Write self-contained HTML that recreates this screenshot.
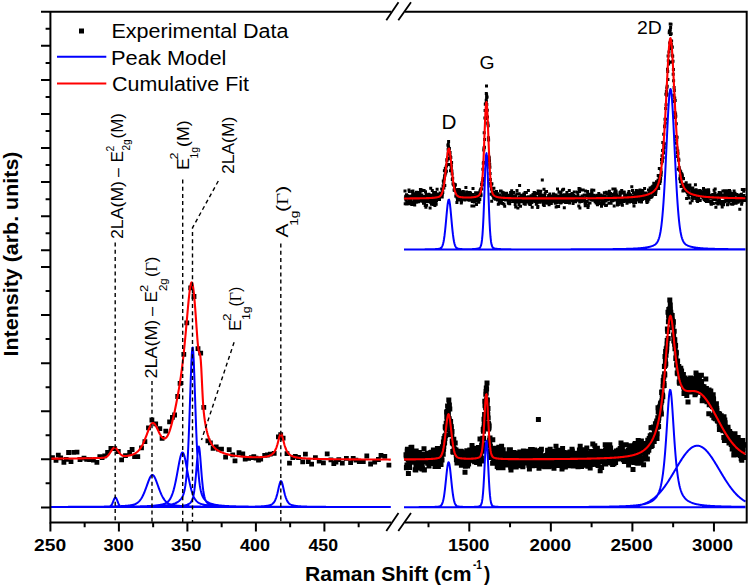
<!DOCTYPE html><html><head><meta charset="utf-8"><style>html,body{margin:0;padding:0;background:#fff;}svg{display:block;}</style></head><body>
<svg width="749" height="587" viewBox="0 0 749 587">
<rect x="0" y="0" width="749" height="587" fill="#fff"/>
<path fill="#000" d="M50.1 455.3h4.8v4.8h-4.8zM53.6 458.0h4.8v4.8h-4.8zM55.9 452.8h4.8v4.8h-4.8zM58.3 455.4h4.8v4.8h-4.8zM61.5 459.9h4.8v4.8h-4.8zM63.8 457.0h4.8v4.8h-4.8zM66.2 450.1h4.8v4.8h-4.8zM68.6 459.2h4.8v4.8h-4.8zM71.3 450.0h4.8v4.8h-4.8zM74.6 449.7h4.8v4.8h-4.8zM77.6 457.1h4.8v4.8h-4.8zM81.6 455.8h4.8v4.8h-4.8zM84.3 457.0h4.8v4.8h-4.8zM87.2 457.3h4.8v4.8h-4.8zM91.0 457.8h4.8v4.8h-4.8zM94.5 460.0h4.8v4.8h-4.8zM97.4 454.3h4.8v4.8h-4.8zM99.7 455.1h4.8v4.8h-4.8zM102.3 453.5h4.8v4.8h-4.8zM105.2 450.1h4.8v4.8h-4.8zM108.5 446.1h4.8v4.8h-4.8zM112.3 446.2h4.8v4.8h-4.8zM115.9 449.1h4.8v4.8h-4.8zM119.2 457.4h4.8v4.8h-4.8zM123.1 453.3h4.8v4.8h-4.8zM127.3 450.1h4.8v4.8h-4.8zM129.7 447.1h4.8v4.8h-4.8zM132.2 454.2h4.8v4.8h-4.8zM135.4 454.2h4.8v4.8h-4.8zM139.1 445.4h4.8v4.8h-4.8zM142.5 439.3h4.8v4.8h-4.8zM146.1 425.4h4.8v4.8h-4.8zM149.5 417.6h4.8v4.8h-4.8zM153.3 421.4h4.8v4.8h-4.8zM157.4 426.3h4.8v4.8h-4.8zM159.7 435.9h4.8v4.8h-4.8zM163.4 428.7h4.8v4.8h-4.8zM167.2 419.5h4.8v4.8h-4.8zM170.0 414.9h4.8v4.8h-4.8zM172.2 412.6h4.8v4.8h-4.8zM175.3 394.1h4.8v4.8h-4.8zM177.7 381.0h4.8v4.8h-4.8zM181.4 352.0h4.8v4.8h-4.8zM184.4 320.5h4.8v4.8h-4.8zM188.3 285.5h4.8v4.8h-4.8zM191.6 294.1h4.8v4.8h-4.8zM195.6 346.3h4.8v4.8h-4.8zM198.3 350.8h4.8v4.8h-4.8zM201.4 404.9h4.8v4.8h-4.8zM205.5 438.5h4.8v4.8h-4.8zM208.0 440.5h4.8v4.8h-4.8zM210.7 446.0h4.8v4.8h-4.8zM213.8 444.4h4.8v4.8h-4.8zM216.0 446.8h4.8v4.8h-4.8zM219.1 446.7h4.8v4.8h-4.8zM223.2 454.8h4.8v4.8h-4.8zM226.8 447.3h4.8v4.8h-4.8zM230.3 452.5h4.8v4.8h-4.8zM232.6 458.4h4.8v4.8h-4.8zM236.6 450.2h4.8v4.8h-4.8zM240.4 451.4h4.8v4.8h-4.8zM242.8 456.7h4.8v4.8h-4.8zM246.2 455.9h4.8v4.8h-4.8zM248.9 455.3h4.8v4.8h-4.8zM251.4 454.2h4.8v4.8h-4.8zM253.6 455.8h4.8v4.8h-4.8zM256.1 457.6h4.8v4.8h-4.8zM258.3 456.8h4.8v4.8h-4.8zM262.3 452.9h4.8v4.8h-4.8zM265.0 452.6h4.8v4.8h-4.8zM267.9 451.7h4.8v4.8h-4.8zM271.8 451.0h4.8v4.8h-4.8zM276.0 434.4h4.8v4.8h-4.8zM278.3 432.2h4.8v4.8h-4.8zM280.7 435.8h4.8v4.8h-4.8zM284.6 451.2h4.8v4.8h-4.8zM287.1 460.8h4.8v4.8h-4.8zM290.4 455.2h4.8v4.8h-4.8zM292.9 453.9h4.8v4.8h-4.8zM296.1 455.1h4.8v4.8h-4.8zM300.3 459.5h4.8v4.8h-4.8zM303.0 451.8h4.8v4.8h-4.8zM305.9 459.3h4.8v4.8h-4.8zM309.2 461.7h4.8v4.8h-4.8zM313.0 455.2h4.8v4.8h-4.8zM316.8 458.8h4.8v4.8h-4.8zM321.0 460.5h4.8v4.8h-4.8zM324.8 451.5h4.8v4.8h-4.8zM328.5 457.4h4.8v4.8h-4.8zM331.4 461.1h4.8v4.8h-4.8zM333.6 459.7h4.8v4.8h-4.8zM336.4 457.3h4.8v4.8h-4.8zM339.9 460.7h4.8v4.8h-4.8zM344.0 455.9h4.8v4.8h-4.8zM348.2 460.2h4.8v4.8h-4.8zM350.8 456.0h4.8v4.8h-4.8zM353.5 457.8h4.8v4.8h-4.8zM356.9 459.3h4.8v4.8h-4.8zM360.9 459.3h4.8v4.8h-4.8zM364.4 453.6h4.8v4.8h-4.8zM368.2 461.6h4.8v4.8h-4.8zM372.3 459.8h4.8v4.8h-4.8zM376.0 457.1h4.8v4.8h-4.8zM378.6 453.0h4.8v4.8h-4.8zM382.4 454.0h4.8v4.8h-4.8zM386.5 462.8h4.8v4.8h-4.8zM403.5 189.6h3.0v3.0h-3.0zM403.7 202.2h3.0v3.0h-3.0zM403.9 196.6h3.0v3.0h-3.0zM404.2 194.7h3.0v3.0h-3.0zM404.4 198.4h3.0v3.0h-3.0zM404.6 198.5h3.0v3.0h-3.0zM404.8 202.5h3.0v3.0h-3.0zM405.0 193.2h3.0v3.0h-3.0zM405.3 201.2h3.0v3.0h-3.0zM405.5 202.5h3.0v3.0h-3.0zM405.7 202.3h3.0v3.0h-3.0zM405.9 196.3h3.0v3.0h-3.0zM406.1 194.2h3.0v3.0h-3.0zM406.4 200.7h3.0v3.0h-3.0zM406.6 197.4h3.0v3.0h-3.0zM406.8 197.4h3.0v3.0h-3.0zM407.0 202.2h3.0v3.0h-3.0zM407.2 196.0h3.0v3.0h-3.0zM407.5 188.4h3.0v3.0h-3.0zM407.7 195.5h3.0v3.0h-3.0zM407.9 190.1h3.0v3.0h-3.0zM408.1 200.0h3.0v3.0h-3.0zM408.3 198.1h3.0v3.0h-3.0zM408.6 194.7h3.0v3.0h-3.0zM408.8 196.9h3.0v3.0h-3.0zM409.0 200.0h3.0v3.0h-3.0zM409.2 197.2h3.0v3.0h-3.0zM409.4 201.8h3.0v3.0h-3.0zM409.7 196.7h3.0v3.0h-3.0zM409.9 200.8h3.0v3.0h-3.0zM410.1 202.4h3.0v3.0h-3.0zM410.3 202.9h3.0v3.0h-3.0zM410.5 194.4h3.0v3.0h-3.0zM410.8 200.2h3.0v3.0h-3.0zM411.0 189.9h3.0v3.0h-3.0zM411.2 192.9h3.0v3.0h-3.0zM411.4 189.6h3.0v3.0h-3.0zM411.6 200.9h3.0v3.0h-3.0zM411.9 192.3h3.0v3.0h-3.0zM412.1 196.8h3.0v3.0h-3.0zM412.3 196.2h3.0v3.0h-3.0zM412.5 196.8h3.0v3.0h-3.0zM412.7 194.7h3.0v3.0h-3.0zM413.0 197.8h3.0v3.0h-3.0zM413.2 203.5h3.0v3.0h-3.0zM413.4 197.0h3.0v3.0h-3.0zM413.6 198.8h3.0v3.0h-3.0zM413.8 200.6h3.0v3.0h-3.0zM414.1 196.1h3.0v3.0h-3.0zM414.3 192.2h3.0v3.0h-3.0zM414.5 194.8h3.0v3.0h-3.0zM414.7 200.8h3.0v3.0h-3.0zM414.9 190.8h3.0v3.0h-3.0zM415.2 194.6h3.0v3.0h-3.0zM415.4 200.6h3.0v3.0h-3.0zM415.6 199.8h3.0v3.0h-3.0zM415.8 196.9h3.0v3.0h-3.0zM416.0 199.8h3.0v3.0h-3.0zM416.3 197.5h3.0v3.0h-3.0zM416.5 192.5h3.0v3.0h-3.0zM416.7 191.0h3.0v3.0h-3.0zM416.9 194.5h3.0v3.0h-3.0zM417.1 200.3h3.0v3.0h-3.0zM417.4 194.7h3.0v3.0h-3.0zM417.6 193.5h3.0v3.0h-3.0zM417.8 194.0h3.0v3.0h-3.0zM418.0 191.1h3.0v3.0h-3.0zM418.2 196.4h3.0v3.0h-3.0zM418.5 192.4h3.0v3.0h-3.0zM418.7 198.2h3.0v3.0h-3.0zM418.9 188.1h3.0v3.0h-3.0zM419.1 198.0h3.0v3.0h-3.0zM419.3 194.4h3.0v3.0h-3.0zM419.6 189.6h3.0v3.0h-3.0zM419.8 199.5h3.0v3.0h-3.0zM420.0 195.8h3.0v3.0h-3.0zM420.2 188.5h3.0v3.0h-3.0zM420.4 193.5h3.0v3.0h-3.0zM420.7 197.9h3.0v3.0h-3.0zM420.9 195.1h3.0v3.0h-3.0zM421.1 199.7h3.0v3.0h-3.0zM421.3 199.5h3.0v3.0h-3.0zM421.5 199.2h3.0v3.0h-3.0zM421.8 198.0h3.0v3.0h-3.0zM422.0 201.7h3.0v3.0h-3.0zM422.2 199.2h3.0v3.0h-3.0zM422.4 198.4h3.0v3.0h-3.0zM422.6 189.0h3.0v3.0h-3.0zM422.9 200.1h3.0v3.0h-3.0zM423.1 201.6h3.0v3.0h-3.0zM423.3 195.6h3.0v3.0h-3.0zM423.5 195.0h3.0v3.0h-3.0zM423.7 203.9h3.0v3.0h-3.0zM424.0 190.2h3.0v3.0h-3.0zM424.2 198.4h3.0v3.0h-3.0zM424.4 205.7h3.0v3.0h-3.0zM424.6 193.2h3.0v3.0h-3.0zM424.8 199.2h3.0v3.0h-3.0zM425.1 203.7h3.0v3.0h-3.0zM425.3 196.2h3.0v3.0h-3.0zM425.5 198.7h3.0v3.0h-3.0zM425.7 200.0h3.0v3.0h-3.0zM425.9 193.3h3.0v3.0h-3.0zM426.2 196.3h3.0v3.0h-3.0zM426.4 197.7h3.0v3.0h-3.0zM426.6 199.7h3.0v3.0h-3.0zM426.8 196.5h3.0v3.0h-3.0zM427.0 195.9h3.0v3.0h-3.0zM427.3 192.8h3.0v3.0h-3.0zM427.5 195.2h3.0v3.0h-3.0zM427.7 199.9h3.0v3.0h-3.0zM427.9 196.9h3.0v3.0h-3.0zM428.1 193.4h3.0v3.0h-3.0zM428.4 193.4h3.0v3.0h-3.0zM428.6 206.4h3.0v3.0h-3.0zM428.8 200.8h3.0v3.0h-3.0zM429.0 198.9h3.0v3.0h-3.0zM429.2 186.8h3.0v3.0h-3.0zM429.5 198.8h3.0v3.0h-3.0zM429.7 198.3h3.0v3.0h-3.0zM429.9 202.7h3.0v3.0h-3.0zM430.1 198.0h3.0v3.0h-3.0zM430.3 196.2h3.0v3.0h-3.0zM430.6 198.4h3.0v3.0h-3.0zM430.8 189.1h3.0v3.0h-3.0zM431.0 200.2h3.0v3.0h-3.0zM431.2 197.6h3.0v3.0h-3.0zM431.4 193.7h3.0v3.0h-3.0zM431.7 201.3h3.0v3.0h-3.0zM431.9 203.0h3.0v3.0h-3.0zM432.1 191.1h3.0v3.0h-3.0zM432.3 193.8h3.0v3.0h-3.0zM432.5 197.3h3.0v3.0h-3.0zM432.8 196.9h3.0v3.0h-3.0zM433.0 194.7h3.0v3.0h-3.0zM433.2 192.5h3.0v3.0h-3.0zM433.4 204.1h3.0v3.0h-3.0zM433.6 200.0h3.0v3.0h-3.0zM433.9 191.6h3.0v3.0h-3.0zM434.1 191.0h3.0v3.0h-3.0zM434.3 202.4h3.0v3.0h-3.0zM434.5 199.7h3.0v3.0h-3.0zM434.7 202.8h3.0v3.0h-3.0zM435.0 199.0h3.0v3.0h-3.0zM435.2 192.6h3.0v3.0h-3.0zM435.4 196.8h3.0v3.0h-3.0zM435.6 187.7h3.0v3.0h-3.0zM435.8 193.0h3.0v3.0h-3.0zM436.1 195.5h3.0v3.0h-3.0zM436.3 197.6h3.0v3.0h-3.0zM436.5 192.9h3.0v3.0h-3.0zM436.7 195.1h3.0v3.0h-3.0zM436.9 197.2h3.0v3.0h-3.0zM437.2 196.8h3.0v3.0h-3.0zM437.4 197.7h3.0v3.0h-3.0zM437.6 196.0h3.0v3.0h-3.0zM437.8 193.9h3.0v3.0h-3.0zM438.0 198.0h3.0v3.0h-3.0zM438.3 195.0h3.0v3.0h-3.0zM438.5 191.6h3.0v3.0h-3.0zM438.7 192.2h3.0v3.0h-3.0zM438.9 194.3h3.0v3.0h-3.0zM439.1 193.7h3.0v3.0h-3.0zM439.4 194.4h3.0v3.0h-3.0zM439.6 193.5h3.0v3.0h-3.0zM439.8 193.9h3.0v3.0h-3.0zM440.0 192.3h3.0v3.0h-3.0zM440.2 187.5h3.0v3.0h-3.0zM440.5 193.5h3.0v3.0h-3.0zM440.7 195.4h3.0v3.0h-3.0zM440.9 192.4h3.0v3.0h-3.0zM441.1 189.2h3.0v3.0h-3.0zM441.3 190.9h3.0v3.0h-3.0zM441.6 184.3h3.0v3.0h-3.0zM441.8 179.5h3.0v3.0h-3.0zM442.0 186.3h3.0v3.0h-3.0zM442.2 181.0h3.0v3.0h-3.0zM442.4 186.6h3.0v3.0h-3.0zM442.7 177.5h3.0v3.0h-3.0zM442.9 169.3h3.0v3.0h-3.0zM443.1 174.4h3.0v3.0h-3.0zM443.3 184.0h3.0v3.0h-3.0zM443.5 173.5h3.0v3.0h-3.0zM443.8 167.0h3.0v3.0h-3.0zM444.0 167.7h3.0v3.0h-3.0zM444.2 171.5h3.0v3.0h-3.0zM444.4 169.3h3.0v3.0h-3.0zM444.6 165.6h3.0v3.0h-3.0zM444.9 169.8h3.0v3.0h-3.0zM445.1 163.9h3.0v3.0h-3.0zM445.3 158.2h3.0v3.0h-3.0zM445.5 159.3h3.0v3.0h-3.0zM445.7 162.9h3.0v3.0h-3.0zM446.0 157.6h3.0v3.0h-3.0zM446.2 156.4h3.0v3.0h-3.0zM446.4 143.8h3.0v3.0h-3.0zM446.6 147.7h3.0v3.0h-3.0zM446.8 151.6h3.0v3.0h-3.0zM447.1 145.5h3.0v3.0h-3.0zM447.3 152.8h3.0v3.0h-3.0zM447.5 150.3h3.0v3.0h-3.0zM447.7 152.5h3.0v3.0h-3.0zM447.9 147.1h3.0v3.0h-3.0zM448.2 163.0h3.0v3.0h-3.0zM448.4 157.3h3.0v3.0h-3.0zM448.6 151.1h3.0v3.0h-3.0zM448.8 154.4h3.0v3.0h-3.0zM449.0 169.2h3.0v3.0h-3.0zM449.3 156.1h3.0v3.0h-3.0zM449.5 164.3h3.0v3.0h-3.0zM449.7 166.9h3.0v3.0h-3.0zM449.9 164.3h3.0v3.0h-3.0zM450.1 160.9h3.0v3.0h-3.0zM450.4 169.5h3.0v3.0h-3.0zM450.6 172.4h3.0v3.0h-3.0zM450.8 178.0h3.0v3.0h-3.0zM451.0 178.3h3.0v3.0h-3.0zM451.2 176.8h3.0v3.0h-3.0zM451.5 182.2h3.0v3.0h-3.0zM451.7 182.5h3.0v3.0h-3.0zM451.9 182.6h3.0v3.0h-3.0zM452.1 183.4h3.0v3.0h-3.0zM452.3 183.6h3.0v3.0h-3.0zM452.6 188.6h3.0v3.0h-3.0zM452.8 182.7h3.0v3.0h-3.0zM453.0 185.4h3.0v3.0h-3.0zM453.2 188.9h3.0v3.0h-3.0zM453.4 183.9h3.0v3.0h-3.0zM453.7 188.7h3.0v3.0h-3.0zM453.9 183.2h3.0v3.0h-3.0zM454.1 189.0h3.0v3.0h-3.0zM454.3 194.4h3.0v3.0h-3.0zM454.5 194.8h3.0v3.0h-3.0zM454.8 192.8h3.0v3.0h-3.0zM455.0 192.5h3.0v3.0h-3.0zM455.2 188.3h3.0v3.0h-3.0zM455.4 200.9h3.0v3.0h-3.0zM455.6 196.1h3.0v3.0h-3.0zM455.9 198.5h3.0v3.0h-3.0zM456.1 191.2h3.0v3.0h-3.0zM456.3 194.0h3.0v3.0h-3.0zM456.5 187.9h3.0v3.0h-3.0zM456.7 197.9h3.0v3.0h-3.0zM457.0 198.6h3.0v3.0h-3.0zM457.2 188.0h3.0v3.0h-3.0zM457.4 195.0h3.0v3.0h-3.0zM457.6 197.7h3.0v3.0h-3.0zM457.8 188.7h3.0v3.0h-3.0zM458.1 188.5h3.0v3.0h-3.0zM458.3 191.5h3.0v3.0h-3.0zM458.5 193.1h3.0v3.0h-3.0zM458.7 190.3h3.0v3.0h-3.0zM458.9 195.7h3.0v3.0h-3.0zM459.2 196.6h3.0v3.0h-3.0zM459.4 198.0h3.0v3.0h-3.0zM459.6 198.3h3.0v3.0h-3.0zM459.8 201.4h3.0v3.0h-3.0zM460.0 200.1h3.0v3.0h-3.0zM460.3 190.9h3.0v3.0h-3.0zM460.5 193.9h3.0v3.0h-3.0zM460.7 191.9h3.0v3.0h-3.0zM460.9 191.8h3.0v3.0h-3.0zM461.1 195.6h3.0v3.0h-3.0zM461.4 195.9h3.0v3.0h-3.0zM461.6 197.7h3.0v3.0h-3.0zM461.8 190.0h3.0v3.0h-3.0zM462.0 191.3h3.0v3.0h-3.0zM462.2 195.9h3.0v3.0h-3.0zM462.5 195.2h3.0v3.0h-3.0zM462.7 194.8h3.0v3.0h-3.0zM462.9 195.8h3.0v3.0h-3.0zM463.1 193.2h3.0v3.0h-3.0zM463.3 198.6h3.0v3.0h-3.0zM463.6 197.4h3.0v3.0h-3.0zM463.8 195.7h3.0v3.0h-3.0zM464.0 193.5h3.0v3.0h-3.0zM464.2 195.4h3.0v3.0h-3.0zM464.4 185.9h3.0v3.0h-3.0zM464.7 192.4h3.0v3.0h-3.0zM464.9 196.2h3.0v3.0h-3.0zM465.1 190.4h3.0v3.0h-3.0zM465.3 196.8h3.0v3.0h-3.0zM465.5 196.6h3.0v3.0h-3.0zM465.8 190.9h3.0v3.0h-3.0zM466.0 195.1h3.0v3.0h-3.0zM466.2 194.9h3.0v3.0h-3.0zM466.4 197.8h3.0v3.0h-3.0zM466.6 198.3h3.0v3.0h-3.0zM466.9 195.9h3.0v3.0h-3.0zM467.1 192.9h3.0v3.0h-3.0zM467.3 195.5h3.0v3.0h-3.0zM467.5 195.8h3.0v3.0h-3.0zM467.7 198.8h3.0v3.0h-3.0zM468.0 197.1h3.0v3.0h-3.0zM468.2 193.3h3.0v3.0h-3.0zM468.4 191.0h3.0v3.0h-3.0zM468.6 194.6h3.0v3.0h-3.0zM468.8 193.2h3.0v3.0h-3.0zM469.1 191.8h3.0v3.0h-3.0zM469.3 195.5h3.0v3.0h-3.0zM469.5 194.1h3.0v3.0h-3.0zM469.7 196.3h3.0v3.0h-3.0zM469.9 197.9h3.0v3.0h-3.0zM470.2 194.4h3.0v3.0h-3.0zM470.4 204.6h3.0v3.0h-3.0zM470.6 194.7h3.0v3.0h-3.0zM470.8 200.0h3.0v3.0h-3.0zM471.0 196.3h3.0v3.0h-3.0zM471.3 200.0h3.0v3.0h-3.0zM471.5 186.9h3.0v3.0h-3.0zM471.7 192.9h3.0v3.0h-3.0zM471.9 196.7h3.0v3.0h-3.0zM472.1 198.0h3.0v3.0h-3.0zM472.4 204.4h3.0v3.0h-3.0zM472.6 196.8h3.0v3.0h-3.0zM472.8 200.4h3.0v3.0h-3.0zM473.0 198.4h3.0v3.0h-3.0zM473.2 199.1h3.0v3.0h-3.0zM473.5 197.4h3.0v3.0h-3.0zM473.7 194.8h3.0v3.0h-3.0zM473.9 197.3h3.0v3.0h-3.0zM474.1 191.3h3.0v3.0h-3.0zM474.3 199.7h3.0v3.0h-3.0zM474.6 191.4h3.0v3.0h-3.0zM474.8 196.1h3.0v3.0h-3.0zM475.0 203.1h3.0v3.0h-3.0zM475.2 194.2h3.0v3.0h-3.0zM475.4 195.0h3.0v3.0h-3.0zM475.7 199.2h3.0v3.0h-3.0zM475.9 194.9h3.0v3.0h-3.0zM476.1 191.6h3.0v3.0h-3.0zM476.3 195.5h3.0v3.0h-3.0zM476.5 196.6h3.0v3.0h-3.0zM476.8 197.0h3.0v3.0h-3.0zM477.0 191.2h3.0v3.0h-3.0zM477.2 200.7h3.0v3.0h-3.0zM477.4 200.2h3.0v3.0h-3.0zM477.6 193.7h3.0v3.0h-3.0zM477.9 194.4h3.0v3.0h-3.0zM478.1 191.4h3.0v3.0h-3.0zM478.3 198.1h3.0v3.0h-3.0zM478.5 189.5h3.0v3.0h-3.0zM478.7 194.4h3.0v3.0h-3.0zM479.0 189.3h3.0v3.0h-3.0zM479.2 187.7h3.0v3.0h-3.0zM479.4 192.4h3.0v3.0h-3.0zM479.6 193.8h3.0v3.0h-3.0zM479.8 187.2h3.0v3.0h-3.0zM480.1 183.0h3.0v3.0h-3.0zM480.3 187.4h3.0v3.0h-3.0zM480.5 181.7h3.0v3.0h-3.0zM480.7 180.9h3.0v3.0h-3.0zM480.9 183.5h3.0v3.0h-3.0zM481.2 178.7h3.0v3.0h-3.0zM481.4 167.7h3.0v3.0h-3.0zM481.6 177.1h3.0v3.0h-3.0zM481.8 161.8h3.0v3.0h-3.0zM482.0 161.1h3.0v3.0h-3.0zM482.3 148.6h3.0v3.0h-3.0zM482.5 146.4h3.0v3.0h-3.0zM482.7 131.2h3.0v3.0h-3.0zM482.9 145.8h3.0v3.0h-3.0zM483.1 137.9h3.0v3.0h-3.0zM483.4 116.4h3.0v3.0h-3.0zM483.6 108.9h3.0v3.0h-3.0zM483.8 102.8h3.0v3.0h-3.0zM484.0 117.1h3.0v3.0h-3.0zM484.2 102.3h3.0v3.0h-3.0zM484.5 102.3h3.0v3.0h-3.0zM484.7 98.8h3.0v3.0h-3.0zM484.9 99.6h3.0v3.0h-3.0zM485.1 93.3h3.0v3.0h-3.0zM485.3 102.9h3.0v3.0h-3.0zM485.6 95.6h3.0v3.0h-3.0zM485.8 108.7h3.0v3.0h-3.0zM486.0 115.6h3.0v3.0h-3.0zM486.2 121.6h3.0v3.0h-3.0zM486.4 122.6h3.0v3.0h-3.0zM486.7 124.2h3.0v3.0h-3.0zM486.9 136.3h3.0v3.0h-3.0zM487.1 138.4h3.0v3.0h-3.0zM487.3 155.3h3.0v3.0h-3.0zM487.5 156.1h3.0v3.0h-3.0zM487.8 156.5h3.0v3.0h-3.0zM488.0 159.5h3.0v3.0h-3.0zM488.2 162.8h3.0v3.0h-3.0zM488.4 165.8h3.0v3.0h-3.0zM488.6 172.1h3.0v3.0h-3.0zM488.9 178.1h3.0v3.0h-3.0zM489.1 181.8h3.0v3.0h-3.0zM489.3 184.4h3.0v3.0h-3.0zM489.5 192.8h3.0v3.0h-3.0zM489.7 182.9h3.0v3.0h-3.0zM490.0 187.4h3.0v3.0h-3.0zM490.2 199.7h3.0v3.0h-3.0zM490.4 182.2h3.0v3.0h-3.0zM490.6 188.5h3.0v3.0h-3.0zM490.8 191.9h3.0v3.0h-3.0zM491.1 192.4h3.0v3.0h-3.0zM491.3 193.9h3.0v3.0h-3.0zM491.5 191.9h3.0v3.0h-3.0zM491.7 194.5h3.0v3.0h-3.0zM491.9 193.6h3.0v3.0h-3.0zM492.2 196.6h3.0v3.0h-3.0zM492.4 186.7h3.0v3.0h-3.0zM492.6 190.7h3.0v3.0h-3.0zM492.8 194.2h3.0v3.0h-3.0zM493.0 190.5h3.0v3.0h-3.0zM493.3 190.6h3.0v3.0h-3.0zM493.5 197.0h3.0v3.0h-3.0zM493.7 192.3h3.0v3.0h-3.0zM493.9 197.3h3.0v3.0h-3.0zM494.1 197.8h3.0v3.0h-3.0zM494.4 196.2h3.0v3.0h-3.0zM494.6 197.1h3.0v3.0h-3.0zM494.8 194.8h3.0v3.0h-3.0zM495.0 190.0h3.0v3.0h-3.0zM495.2 195.2h3.0v3.0h-3.0zM495.5 197.1h3.0v3.0h-3.0zM495.7 193.5h3.0v3.0h-3.0zM495.9 195.2h3.0v3.0h-3.0zM496.1 198.4h3.0v3.0h-3.0zM496.3 192.3h3.0v3.0h-3.0zM496.6 198.1h3.0v3.0h-3.0zM496.8 202.7h3.0v3.0h-3.0zM497.0 193.7h3.0v3.0h-3.0zM497.2 196.4h3.0v3.0h-3.0zM497.4 195.3h3.0v3.0h-3.0zM497.7 201.7h3.0v3.0h-3.0zM497.9 197.1h3.0v3.0h-3.0zM498.1 199.3h3.0v3.0h-3.0zM498.3 193.4h3.0v3.0h-3.0zM498.5 196.0h3.0v3.0h-3.0zM498.8 196.0h3.0v3.0h-3.0zM499.0 189.4h3.0v3.0h-3.0zM499.2 201.5h3.0v3.0h-3.0zM499.4 199.5h3.0v3.0h-3.0zM499.6 189.6h3.0v3.0h-3.0zM499.9 199.0h3.0v3.0h-3.0zM500.1 195.7h3.0v3.0h-3.0zM500.3 197.9h3.0v3.0h-3.0zM500.5 197.6h3.0v3.0h-3.0zM500.7 190.7h3.0v3.0h-3.0zM501.0 195.5h3.0v3.0h-3.0zM501.2 201.9h3.0v3.0h-3.0zM501.4 194.2h3.0v3.0h-3.0zM501.6 192.5h3.0v3.0h-3.0zM501.8 191.3h3.0v3.0h-3.0zM502.1 191.8h3.0v3.0h-3.0zM502.3 197.6h3.0v3.0h-3.0zM502.5 202.7h3.0v3.0h-3.0zM502.7 198.0h3.0v3.0h-3.0zM502.9 197.3h3.0v3.0h-3.0zM503.2 204.7h3.0v3.0h-3.0zM503.4 194.5h3.0v3.0h-3.0zM503.6 193.9h3.0v3.0h-3.0zM503.8 198.4h3.0v3.0h-3.0zM504.0 198.5h3.0v3.0h-3.0zM504.3 192.7h3.0v3.0h-3.0zM504.5 192.1h3.0v3.0h-3.0zM504.7 197.6h3.0v3.0h-3.0zM504.9 197.4h3.0v3.0h-3.0zM505.1 191.7h3.0v3.0h-3.0zM505.4 195.8h3.0v3.0h-3.0zM505.6 194.5h3.0v3.0h-3.0zM505.8 198.3h3.0v3.0h-3.0zM506.0 196.1h3.0v3.0h-3.0zM506.2 196.3h3.0v3.0h-3.0zM506.5 195.3h3.0v3.0h-3.0zM506.7 200.5h3.0v3.0h-3.0zM506.9 201.8h3.0v3.0h-3.0zM507.1 195.2h3.0v3.0h-3.0zM507.3 199.8h3.0v3.0h-3.0zM507.6 193.8h3.0v3.0h-3.0zM507.8 196.9h3.0v3.0h-3.0zM508.0 199.4h3.0v3.0h-3.0zM508.2 202.3h3.0v3.0h-3.0zM508.4 195.2h3.0v3.0h-3.0zM508.7 196.4h3.0v3.0h-3.0zM508.9 197.4h3.0v3.0h-3.0zM509.1 191.1h3.0v3.0h-3.0zM509.3 196.7h3.0v3.0h-3.0zM509.5 194.2h3.0v3.0h-3.0zM509.8 198.1h3.0v3.0h-3.0zM510.0 192.5h3.0v3.0h-3.0zM510.2 189.3h3.0v3.0h-3.0zM510.4 196.8h3.0v3.0h-3.0zM510.6 197.7h3.0v3.0h-3.0zM510.9 194.7h3.0v3.0h-3.0zM511.1 200.0h3.0v3.0h-3.0zM511.3 195.7h3.0v3.0h-3.0zM511.5 194.5h3.0v3.0h-3.0zM511.7 198.5h3.0v3.0h-3.0zM512.0 190.9h3.0v3.0h-3.0zM512.2 194.2h3.0v3.0h-3.0zM512.4 196.7h3.0v3.0h-3.0zM512.6 199.9h3.0v3.0h-3.0zM512.8 196.1h3.0v3.0h-3.0zM513.1 197.9h3.0v3.0h-3.0zM513.3 194.3h3.0v3.0h-3.0zM513.5 197.9h3.0v3.0h-3.0zM513.7 202.9h3.0v3.0h-3.0zM513.9 194.2h3.0v3.0h-3.0zM514.2 205.5h3.0v3.0h-3.0zM514.4 194.4h3.0v3.0h-3.0zM514.6 196.8h3.0v3.0h-3.0zM514.8 197.4h3.0v3.0h-3.0zM515.0 200.6h3.0v3.0h-3.0zM515.3 192.2h3.0v3.0h-3.0zM515.5 189.0h3.0v3.0h-3.0zM515.7 199.0h3.0v3.0h-3.0zM515.9 199.7h3.0v3.0h-3.0zM516.1 199.1h3.0v3.0h-3.0zM516.4 206.5h3.0v3.0h-3.0zM516.6 197.6h3.0v3.0h-3.0zM516.8 197.7h3.0v3.0h-3.0zM517.0 200.2h3.0v3.0h-3.0zM517.2 198.2h3.0v3.0h-3.0zM517.5 203.0h3.0v3.0h-3.0zM517.7 192.2h3.0v3.0h-3.0zM517.9 195.4h3.0v3.0h-3.0zM518.1 184.0h3.0v3.0h-3.0zM518.3 199.8h3.0v3.0h-3.0zM518.6 195.4h3.0v3.0h-3.0zM518.8 200.2h3.0v3.0h-3.0zM519.0 204.8h3.0v3.0h-3.0zM519.2 196.8h3.0v3.0h-3.0zM519.4 195.9h3.0v3.0h-3.0zM519.7 195.0h3.0v3.0h-3.0zM519.9 193.7h3.0v3.0h-3.0zM520.1 194.5h3.0v3.0h-3.0zM520.3 199.2h3.0v3.0h-3.0zM520.5 197.0h3.0v3.0h-3.0zM520.8 197.1h3.0v3.0h-3.0zM521.0 196.2h3.0v3.0h-3.0zM521.2 200.2h3.0v3.0h-3.0zM521.4 198.7h3.0v3.0h-3.0zM521.6 196.3h3.0v3.0h-3.0zM521.9 199.3h3.0v3.0h-3.0zM522.1 196.3h3.0v3.0h-3.0zM522.3 192.6h3.0v3.0h-3.0zM522.5 202.2h3.0v3.0h-3.0zM522.7 198.6h3.0v3.0h-3.0zM523.0 193.3h3.0v3.0h-3.0zM523.2 200.8h3.0v3.0h-3.0zM523.4 198.1h3.0v3.0h-3.0zM523.6 191.0h3.0v3.0h-3.0zM523.8 202.8h3.0v3.0h-3.0zM524.1 198.1h3.0v3.0h-3.0zM524.3 200.2h3.0v3.0h-3.0zM524.5 197.6h3.0v3.0h-3.0zM524.7 196.3h3.0v3.0h-3.0zM524.9 191.1h3.0v3.0h-3.0zM525.2 200.5h3.0v3.0h-3.0zM525.4 197.0h3.0v3.0h-3.0zM525.6 195.8h3.0v3.0h-3.0zM525.8 198.2h3.0v3.0h-3.0zM526.0 197.1h3.0v3.0h-3.0zM526.3 199.4h3.0v3.0h-3.0zM526.5 195.5h3.0v3.0h-3.0zM526.7 196.7h3.0v3.0h-3.0zM526.9 188.9h3.0v3.0h-3.0zM527.1 195.3h3.0v3.0h-3.0zM527.4 199.4h3.0v3.0h-3.0zM527.6 201.8h3.0v3.0h-3.0zM527.8 195.5h3.0v3.0h-3.0zM528.0 196.4h3.0v3.0h-3.0zM528.2 202.7h3.0v3.0h-3.0zM528.5 195.7h3.0v3.0h-3.0zM528.7 199.6h3.0v3.0h-3.0zM528.9 203.1h3.0v3.0h-3.0zM529.1 197.0h3.0v3.0h-3.0zM529.3 201.4h3.0v3.0h-3.0zM529.6 194.2h3.0v3.0h-3.0zM529.8 197.6h3.0v3.0h-3.0zM530.0 196.6h3.0v3.0h-3.0zM530.2 197.3h3.0v3.0h-3.0zM530.4 201.1h3.0v3.0h-3.0zM530.7 205.7h3.0v3.0h-3.0zM530.9 194.4h3.0v3.0h-3.0zM531.1 194.7h3.0v3.0h-3.0zM531.3 198.7h3.0v3.0h-3.0zM531.5 193.0h3.0v3.0h-3.0zM531.8 198.7h3.0v3.0h-3.0zM532.0 199.0h3.0v3.0h-3.0zM532.2 195.8h3.0v3.0h-3.0zM532.4 198.8h3.0v3.0h-3.0zM532.6 191.1h3.0v3.0h-3.0zM532.9 199.7h3.0v3.0h-3.0zM533.1 191.2h3.0v3.0h-3.0zM533.3 194.3h3.0v3.0h-3.0zM533.5 194.8h3.0v3.0h-3.0zM533.7 195.4h3.0v3.0h-3.0zM534.0 200.1h3.0v3.0h-3.0zM534.2 197.2h3.0v3.0h-3.0zM534.4 195.4h3.0v3.0h-3.0zM534.6 198.9h3.0v3.0h-3.0zM534.8 202.7h3.0v3.0h-3.0zM535.1 196.9h3.0v3.0h-3.0zM535.3 198.2h3.0v3.0h-3.0zM535.5 201.5h3.0v3.0h-3.0zM535.7 197.9h3.0v3.0h-3.0zM535.9 192.1h3.0v3.0h-3.0zM536.2 206.1h3.0v3.0h-3.0zM536.4 205.1h3.0v3.0h-3.0zM536.6 189.5h3.0v3.0h-3.0zM536.8 196.7h3.0v3.0h-3.0zM537.0 198.4h3.0v3.0h-3.0zM537.3 200.5h3.0v3.0h-3.0zM537.5 199.4h3.0v3.0h-3.0zM537.7 195.9h3.0v3.0h-3.0zM537.9 193.0h3.0v3.0h-3.0zM538.1 197.3h3.0v3.0h-3.0zM538.4 200.7h3.0v3.0h-3.0zM538.6 192.8h3.0v3.0h-3.0zM538.8 193.1h3.0v3.0h-3.0zM539.0 196.8h3.0v3.0h-3.0zM539.2 189.7h3.0v3.0h-3.0zM539.5 195.9h3.0v3.0h-3.0zM539.7 195.3h3.0v3.0h-3.0zM539.9 198.6h3.0v3.0h-3.0zM540.1 194.3h3.0v3.0h-3.0zM540.3 193.6h3.0v3.0h-3.0zM540.6 195.4h3.0v3.0h-3.0zM540.8 196.7h3.0v3.0h-3.0zM541.0 194.4h3.0v3.0h-3.0zM541.2 196.9h3.0v3.0h-3.0zM541.4 199.7h3.0v3.0h-3.0zM541.7 201.3h3.0v3.0h-3.0zM541.9 203.2h3.0v3.0h-3.0zM542.1 194.0h3.0v3.0h-3.0zM542.3 195.3h3.0v3.0h-3.0zM542.5 187.7h3.0v3.0h-3.0zM542.8 203.9h3.0v3.0h-3.0zM543.0 194.2h3.0v3.0h-3.0zM543.2 196.8h3.0v3.0h-3.0zM543.4 198.8h3.0v3.0h-3.0zM543.6 191.9h3.0v3.0h-3.0zM543.9 198.6h3.0v3.0h-3.0zM544.1 196.8h3.0v3.0h-3.0zM544.3 190.1h3.0v3.0h-3.0zM544.5 198.0h3.0v3.0h-3.0zM544.7 201.3h3.0v3.0h-3.0zM545.0 190.0h3.0v3.0h-3.0zM545.2 199.9h3.0v3.0h-3.0zM545.4 197.7h3.0v3.0h-3.0zM545.6 198.6h3.0v3.0h-3.0zM545.8 198.5h3.0v3.0h-3.0zM546.1 201.7h3.0v3.0h-3.0zM546.3 196.1h3.0v3.0h-3.0zM546.5 200.1h3.0v3.0h-3.0zM546.7 195.4h3.0v3.0h-3.0zM546.9 199.6h3.0v3.0h-3.0zM547.2 193.9h3.0v3.0h-3.0zM547.4 196.5h3.0v3.0h-3.0zM547.6 203.3h3.0v3.0h-3.0zM547.8 198.5h3.0v3.0h-3.0zM548.0 196.3h3.0v3.0h-3.0zM548.3 192.6h3.0v3.0h-3.0zM548.5 194.0h3.0v3.0h-3.0zM548.7 197.6h3.0v3.0h-3.0zM548.9 200.4h3.0v3.0h-3.0zM549.1 198.5h3.0v3.0h-3.0zM549.4 198.8h3.0v3.0h-3.0zM549.6 196.7h3.0v3.0h-3.0zM549.8 201.9h3.0v3.0h-3.0zM550.0 195.4h3.0v3.0h-3.0zM550.2 194.8h3.0v3.0h-3.0zM550.5 200.2h3.0v3.0h-3.0zM550.7 197.1h3.0v3.0h-3.0zM550.9 195.9h3.0v3.0h-3.0zM551.1 194.7h3.0v3.0h-3.0zM551.3 195.9h3.0v3.0h-3.0zM551.6 199.2h3.0v3.0h-3.0zM551.8 198.2h3.0v3.0h-3.0zM552.0 192.4h3.0v3.0h-3.0zM552.2 198.5h3.0v3.0h-3.0zM552.4 197.5h3.0v3.0h-3.0zM552.7 193.2h3.0v3.0h-3.0zM552.9 199.7h3.0v3.0h-3.0zM553.1 195.8h3.0v3.0h-3.0zM553.3 195.6h3.0v3.0h-3.0zM553.5 199.8h3.0v3.0h-3.0zM553.8 201.8h3.0v3.0h-3.0zM554.0 194.3h3.0v3.0h-3.0zM554.2 198.5h3.0v3.0h-3.0zM554.4 193.6h3.0v3.0h-3.0zM554.6 205.5h3.0v3.0h-3.0zM554.9 195.0h3.0v3.0h-3.0zM555.1 201.3h3.0v3.0h-3.0zM555.3 194.5h3.0v3.0h-3.0zM555.5 199.9h3.0v3.0h-3.0zM555.7 205.1h3.0v3.0h-3.0zM556.0 187.5h3.0v3.0h-3.0zM556.2 195.3h3.0v3.0h-3.0zM556.4 198.7h3.0v3.0h-3.0zM556.6 196.5h3.0v3.0h-3.0zM556.8 194.4h3.0v3.0h-3.0zM557.1 204.9h3.0v3.0h-3.0zM557.3 197.2h3.0v3.0h-3.0zM557.5 190.8h3.0v3.0h-3.0zM557.7 200.0h3.0v3.0h-3.0zM557.9 190.5h3.0v3.0h-3.0zM558.2 201.1h3.0v3.0h-3.0zM558.4 194.7h3.0v3.0h-3.0zM558.6 197.4h3.0v3.0h-3.0zM558.8 201.5h3.0v3.0h-3.0zM559.0 197.3h3.0v3.0h-3.0zM559.3 191.7h3.0v3.0h-3.0zM559.5 190.6h3.0v3.0h-3.0zM559.7 201.3h3.0v3.0h-3.0zM559.9 199.6h3.0v3.0h-3.0zM560.1 193.8h3.0v3.0h-3.0zM560.4 200.1h3.0v3.0h-3.0zM560.6 198.7h3.0v3.0h-3.0zM560.8 199.3h3.0v3.0h-3.0zM561.0 188.5h3.0v3.0h-3.0zM561.2 195.7h3.0v3.0h-3.0zM561.5 200.2h3.0v3.0h-3.0zM561.7 199.6h3.0v3.0h-3.0zM561.9 200.1h3.0v3.0h-3.0zM562.1 187.8h3.0v3.0h-3.0zM562.3 197.5h3.0v3.0h-3.0zM562.6 198.7h3.0v3.0h-3.0zM562.8 206.3h3.0v3.0h-3.0zM563.0 193.3h3.0v3.0h-3.0zM563.2 195.6h3.0v3.0h-3.0zM563.4 197.0h3.0v3.0h-3.0zM563.7 200.1h3.0v3.0h-3.0zM563.9 195.2h3.0v3.0h-3.0zM564.1 201.1h3.0v3.0h-3.0zM564.3 193.9h3.0v3.0h-3.0zM564.5 197.8h3.0v3.0h-3.0zM564.8 194.9h3.0v3.0h-3.0zM565.0 197.4h3.0v3.0h-3.0zM565.2 194.3h3.0v3.0h-3.0zM565.4 190.9h3.0v3.0h-3.0zM565.6 200.9h3.0v3.0h-3.0zM565.9 198.0h3.0v3.0h-3.0zM566.1 194.8h3.0v3.0h-3.0zM566.3 197.6h3.0v3.0h-3.0zM566.5 200.5h3.0v3.0h-3.0zM566.7 193.2h3.0v3.0h-3.0zM567.0 196.4h3.0v3.0h-3.0zM567.2 198.8h3.0v3.0h-3.0zM567.4 198.8h3.0v3.0h-3.0zM567.6 195.6h3.0v3.0h-3.0zM567.8 189.0h3.0v3.0h-3.0zM568.1 201.5h3.0v3.0h-3.0zM568.3 198.1h3.0v3.0h-3.0zM568.5 196.9h3.0v3.0h-3.0zM568.7 195.8h3.0v3.0h-3.0zM568.9 197.8h3.0v3.0h-3.0zM569.2 195.3h3.0v3.0h-3.0zM569.4 193.0h3.0v3.0h-3.0zM569.6 194.1h3.0v3.0h-3.0zM569.8 194.6h3.0v3.0h-3.0zM570.0 194.6h3.0v3.0h-3.0zM570.3 192.5h3.0v3.0h-3.0zM570.5 199.2h3.0v3.0h-3.0zM570.7 192.0h3.0v3.0h-3.0zM570.9 199.3h3.0v3.0h-3.0zM571.1 193.1h3.0v3.0h-3.0zM571.4 198.1h3.0v3.0h-3.0zM571.6 201.9h3.0v3.0h-3.0zM571.8 197.6h3.0v3.0h-3.0zM572.0 194.1h3.0v3.0h-3.0zM572.2 197.0h3.0v3.0h-3.0zM572.5 197.4h3.0v3.0h-3.0zM572.7 190.4h3.0v3.0h-3.0zM572.9 194.6h3.0v3.0h-3.0zM573.1 197.4h3.0v3.0h-3.0zM573.3 195.1h3.0v3.0h-3.0zM573.6 197.1h3.0v3.0h-3.0zM573.8 199.5h3.0v3.0h-3.0zM574.0 199.7h3.0v3.0h-3.0zM574.2 200.2h3.0v3.0h-3.0zM574.4 199.0h3.0v3.0h-3.0zM574.7 195.8h3.0v3.0h-3.0zM574.9 196.7h3.0v3.0h-3.0zM575.1 195.8h3.0v3.0h-3.0zM575.3 195.7h3.0v3.0h-3.0zM575.5 196.1h3.0v3.0h-3.0zM575.8 190.4h3.0v3.0h-3.0zM576.0 195.6h3.0v3.0h-3.0zM576.2 196.7h3.0v3.0h-3.0zM576.4 193.2h3.0v3.0h-3.0zM576.6 196.7h3.0v3.0h-3.0zM576.9 198.7h3.0v3.0h-3.0zM577.1 196.2h3.0v3.0h-3.0zM577.3 204.5h3.0v3.0h-3.0zM577.5 187.1h3.0v3.0h-3.0zM577.7 196.0h3.0v3.0h-3.0zM578.0 190.0h3.0v3.0h-3.0zM578.2 200.4h3.0v3.0h-3.0zM578.4 206.6h3.0v3.0h-3.0zM578.6 187.5h3.0v3.0h-3.0zM578.8 197.3h3.0v3.0h-3.0zM579.1 198.7h3.0v3.0h-3.0zM579.3 195.7h3.0v3.0h-3.0zM579.5 198.8h3.0v3.0h-3.0zM579.7 188.5h3.0v3.0h-3.0zM579.9 200.0h3.0v3.0h-3.0zM580.2 198.2h3.0v3.0h-3.0zM580.4 196.9h3.0v3.0h-3.0zM580.6 194.6h3.0v3.0h-3.0zM580.8 199.2h3.0v3.0h-3.0zM581.0 195.0h3.0v3.0h-3.0zM581.3 197.6h3.0v3.0h-3.0zM581.5 194.9h3.0v3.0h-3.0zM581.7 188.4h3.0v3.0h-3.0zM581.9 196.7h3.0v3.0h-3.0zM582.1 197.5h3.0v3.0h-3.0zM582.4 199.6h3.0v3.0h-3.0zM582.6 193.5h3.0v3.0h-3.0zM582.8 196.7h3.0v3.0h-3.0zM583.0 199.1h3.0v3.0h-3.0zM583.2 197.3h3.0v3.0h-3.0zM583.5 201.4h3.0v3.0h-3.0zM583.7 204.2h3.0v3.0h-3.0zM583.9 193.4h3.0v3.0h-3.0zM584.1 189.6h3.0v3.0h-3.0zM584.3 199.9h3.0v3.0h-3.0zM584.6 202.4h3.0v3.0h-3.0zM584.8 200.2h3.0v3.0h-3.0zM585.0 199.8h3.0v3.0h-3.0zM585.2 194.5h3.0v3.0h-3.0zM585.4 194.1h3.0v3.0h-3.0zM585.7 200.1h3.0v3.0h-3.0zM585.9 193.4h3.0v3.0h-3.0zM586.1 190.0h3.0v3.0h-3.0zM586.3 193.0h3.0v3.0h-3.0zM586.5 206.0h3.0v3.0h-3.0zM586.8 203.9h3.0v3.0h-3.0zM587.0 194.2h3.0v3.0h-3.0zM587.2 194.0h3.0v3.0h-3.0zM587.4 197.6h3.0v3.0h-3.0zM587.6 194.0h3.0v3.0h-3.0zM587.9 201.6h3.0v3.0h-3.0zM588.1 196.4h3.0v3.0h-3.0zM588.3 192.7h3.0v3.0h-3.0zM588.5 201.6h3.0v3.0h-3.0zM588.7 194.6h3.0v3.0h-3.0zM589.0 197.6h3.0v3.0h-3.0zM589.2 196.7h3.0v3.0h-3.0zM589.4 195.6h3.0v3.0h-3.0zM589.6 197.9h3.0v3.0h-3.0zM589.8 194.2h3.0v3.0h-3.0zM590.1 189.9h3.0v3.0h-3.0zM590.3 188.5h3.0v3.0h-3.0zM590.5 192.0h3.0v3.0h-3.0zM590.7 193.9h3.0v3.0h-3.0zM590.9 196.6h3.0v3.0h-3.0zM591.2 196.9h3.0v3.0h-3.0zM591.4 198.8h3.0v3.0h-3.0zM591.6 197.2h3.0v3.0h-3.0zM591.8 193.8h3.0v3.0h-3.0zM592.0 194.1h3.0v3.0h-3.0zM592.3 188.8h3.0v3.0h-3.0zM592.5 196.1h3.0v3.0h-3.0zM592.7 198.5h3.0v3.0h-3.0zM592.9 198.7h3.0v3.0h-3.0zM593.1 196.2h3.0v3.0h-3.0zM593.4 196.0h3.0v3.0h-3.0zM593.6 200.2h3.0v3.0h-3.0zM593.8 196.7h3.0v3.0h-3.0zM594.0 199.4h3.0v3.0h-3.0zM594.2 198.8h3.0v3.0h-3.0zM594.5 197.5h3.0v3.0h-3.0zM594.7 201.5h3.0v3.0h-3.0zM594.9 194.5h3.0v3.0h-3.0zM595.1 195.3h3.0v3.0h-3.0zM595.3 193.7h3.0v3.0h-3.0zM595.6 193.7h3.0v3.0h-3.0zM595.8 202.4h3.0v3.0h-3.0zM596.0 203.2h3.0v3.0h-3.0zM596.2 196.7h3.0v3.0h-3.0zM596.4 198.8h3.0v3.0h-3.0zM596.7 201.0h3.0v3.0h-3.0zM596.9 199.7h3.0v3.0h-3.0zM597.1 201.1h3.0v3.0h-3.0zM597.3 192.0h3.0v3.0h-3.0zM597.5 194.3h3.0v3.0h-3.0zM597.8 198.3h3.0v3.0h-3.0zM598.0 202.0h3.0v3.0h-3.0zM598.2 197.0h3.0v3.0h-3.0zM598.4 193.4h3.0v3.0h-3.0zM598.6 195.3h3.0v3.0h-3.0zM598.9 194.2h3.0v3.0h-3.0zM599.1 193.4h3.0v3.0h-3.0zM599.3 202.2h3.0v3.0h-3.0zM599.5 194.3h3.0v3.0h-3.0zM599.7 196.7h3.0v3.0h-3.0zM600.0 204.7h3.0v3.0h-3.0zM600.2 201.0h3.0v3.0h-3.0zM600.4 197.9h3.0v3.0h-3.0zM600.6 194.3h3.0v3.0h-3.0zM600.8 198.1h3.0v3.0h-3.0zM601.1 202.6h3.0v3.0h-3.0zM601.3 198.9h3.0v3.0h-3.0zM601.5 201.3h3.0v3.0h-3.0zM601.7 197.0h3.0v3.0h-3.0zM601.9 198.5h3.0v3.0h-3.0zM602.2 195.8h3.0v3.0h-3.0zM602.4 198.2h3.0v3.0h-3.0zM602.6 201.4h3.0v3.0h-3.0zM602.8 191.3h3.0v3.0h-3.0zM603.0 196.3h3.0v3.0h-3.0zM603.3 197.5h3.0v3.0h-3.0zM603.5 194.4h3.0v3.0h-3.0zM603.7 195.4h3.0v3.0h-3.0zM603.9 199.5h3.0v3.0h-3.0zM604.1 204.0h3.0v3.0h-3.0zM604.4 198.9h3.0v3.0h-3.0zM604.6 197.8h3.0v3.0h-3.0zM604.8 190.8h3.0v3.0h-3.0zM605.0 203.7h3.0v3.0h-3.0zM605.2 196.8h3.0v3.0h-3.0zM605.5 196.4h3.0v3.0h-3.0zM605.7 192.4h3.0v3.0h-3.0zM605.9 196.3h3.0v3.0h-3.0zM606.1 192.4h3.0v3.0h-3.0zM606.3 196.8h3.0v3.0h-3.0zM606.6 198.3h3.0v3.0h-3.0zM606.8 196.6h3.0v3.0h-3.0zM607.0 197.5h3.0v3.0h-3.0zM607.2 193.3h3.0v3.0h-3.0zM607.4 201.8h3.0v3.0h-3.0zM607.7 194.1h3.0v3.0h-3.0zM607.9 189.7h3.0v3.0h-3.0zM608.1 195.8h3.0v3.0h-3.0zM608.3 193.6h3.0v3.0h-3.0zM608.5 192.7h3.0v3.0h-3.0zM608.8 195.2h3.0v3.0h-3.0zM609.0 197.6h3.0v3.0h-3.0zM609.2 192.1h3.0v3.0h-3.0zM609.4 195.9h3.0v3.0h-3.0zM609.6 201.8h3.0v3.0h-3.0zM609.9 199.0h3.0v3.0h-3.0zM610.1 195.9h3.0v3.0h-3.0zM610.3 196.9h3.0v3.0h-3.0zM610.5 196.0h3.0v3.0h-3.0zM610.7 196.3h3.0v3.0h-3.0zM611.0 199.2h3.0v3.0h-3.0zM611.2 196.1h3.0v3.0h-3.0zM611.4 187.5h3.0v3.0h-3.0zM611.6 196.3h3.0v3.0h-3.0zM611.8 193.1h3.0v3.0h-3.0zM612.1 198.8h3.0v3.0h-3.0zM612.3 194.1h3.0v3.0h-3.0zM612.5 196.9h3.0v3.0h-3.0zM612.7 204.5h3.0v3.0h-3.0zM612.9 192.5h3.0v3.0h-3.0zM613.2 192.2h3.0v3.0h-3.0zM613.4 191.1h3.0v3.0h-3.0zM613.6 187.4h3.0v3.0h-3.0zM613.8 189.4h3.0v3.0h-3.0zM614.0 197.7h3.0v3.0h-3.0zM614.3 194.0h3.0v3.0h-3.0zM614.5 189.4h3.0v3.0h-3.0zM614.7 190.8h3.0v3.0h-3.0zM614.9 198.6h3.0v3.0h-3.0zM615.1 193.4h3.0v3.0h-3.0zM615.4 195.0h3.0v3.0h-3.0zM615.6 197.5h3.0v3.0h-3.0zM615.8 201.4h3.0v3.0h-3.0zM616.0 203.5h3.0v3.0h-3.0zM616.2 200.1h3.0v3.0h-3.0zM616.5 196.8h3.0v3.0h-3.0zM616.7 197.0h3.0v3.0h-3.0zM616.9 203.0h3.0v3.0h-3.0zM617.1 201.6h3.0v3.0h-3.0zM617.3 195.1h3.0v3.0h-3.0zM617.6 198.0h3.0v3.0h-3.0zM617.8 197.3h3.0v3.0h-3.0zM618.0 196.4h3.0v3.0h-3.0zM618.2 194.4h3.0v3.0h-3.0zM618.4 191.3h3.0v3.0h-3.0zM618.7 194.2h3.0v3.0h-3.0zM618.9 190.4h3.0v3.0h-3.0zM619.1 200.8h3.0v3.0h-3.0zM619.3 198.2h3.0v3.0h-3.0zM619.5 191.7h3.0v3.0h-3.0zM619.8 201.4h3.0v3.0h-3.0zM620.0 199.5h3.0v3.0h-3.0zM620.2 189.0h3.0v3.0h-3.0zM620.4 203.0h3.0v3.0h-3.0zM620.6 199.2h3.0v3.0h-3.0zM620.9 203.8h3.0v3.0h-3.0zM621.1 191.5h3.0v3.0h-3.0zM621.3 198.1h3.0v3.0h-3.0zM621.5 197.7h3.0v3.0h-3.0zM621.7 196.9h3.0v3.0h-3.0zM622.0 196.7h3.0v3.0h-3.0zM622.2 200.0h3.0v3.0h-3.0zM622.4 190.5h3.0v3.0h-3.0zM622.6 191.4h3.0v3.0h-3.0zM622.8 190.8h3.0v3.0h-3.0zM623.1 194.0h3.0v3.0h-3.0zM623.3 193.8h3.0v3.0h-3.0zM623.5 197.4h3.0v3.0h-3.0zM623.7 197.0h3.0v3.0h-3.0zM623.9 196.1h3.0v3.0h-3.0zM624.2 193.5h3.0v3.0h-3.0zM624.4 194.3h3.0v3.0h-3.0zM624.6 199.5h3.0v3.0h-3.0zM624.8 198.8h3.0v3.0h-3.0zM625.0 196.3h3.0v3.0h-3.0zM625.3 194.7h3.0v3.0h-3.0zM625.5 201.7h3.0v3.0h-3.0zM625.7 193.7h3.0v3.0h-3.0zM625.9 198.3h3.0v3.0h-3.0zM626.1 200.2h3.0v3.0h-3.0zM626.4 194.9h3.0v3.0h-3.0zM626.6 199.0h3.0v3.0h-3.0zM626.8 191.7h3.0v3.0h-3.0zM627.0 199.6h3.0v3.0h-3.0zM627.2 196.6h3.0v3.0h-3.0zM627.5 189.9h3.0v3.0h-3.0zM627.7 198.3h3.0v3.0h-3.0zM627.9 192.4h3.0v3.0h-3.0zM628.1 200.6h3.0v3.0h-3.0zM628.3 193.2h3.0v3.0h-3.0zM628.6 195.1h3.0v3.0h-3.0zM628.8 196.8h3.0v3.0h-3.0zM629.0 194.5h3.0v3.0h-3.0zM629.2 196.7h3.0v3.0h-3.0zM629.4 193.6h3.0v3.0h-3.0zM629.7 198.2h3.0v3.0h-3.0zM629.9 195.7h3.0v3.0h-3.0zM630.1 196.4h3.0v3.0h-3.0zM630.3 185.3h3.0v3.0h-3.0zM630.5 200.0h3.0v3.0h-3.0zM630.8 195.7h3.0v3.0h-3.0zM631.0 188.9h3.0v3.0h-3.0zM631.2 195.9h3.0v3.0h-3.0zM631.4 197.3h3.0v3.0h-3.0zM631.6 199.5h3.0v3.0h-3.0zM631.9 191.4h3.0v3.0h-3.0zM632.1 201.3h3.0v3.0h-3.0zM632.3 194.9h3.0v3.0h-3.0zM632.5 204.4h3.0v3.0h-3.0zM632.7 194.9h3.0v3.0h-3.0zM633.0 198.0h3.0v3.0h-3.0zM633.2 194.0h3.0v3.0h-3.0zM633.4 191.2h3.0v3.0h-3.0zM633.6 199.5h3.0v3.0h-3.0zM633.8 198.7h3.0v3.0h-3.0zM634.1 201.1h3.0v3.0h-3.0zM634.3 198.5h3.0v3.0h-3.0zM634.5 193.1h3.0v3.0h-3.0zM634.7 189.0h3.0v3.0h-3.0zM634.9 192.8h3.0v3.0h-3.0zM635.2 192.6h3.0v3.0h-3.0zM635.4 192.1h3.0v3.0h-3.0zM635.6 197.3h3.0v3.0h-3.0zM635.8 196.4h3.0v3.0h-3.0zM636.0 194.1h3.0v3.0h-3.0zM636.3 195.7h3.0v3.0h-3.0zM636.5 194.5h3.0v3.0h-3.0zM636.7 195.8h3.0v3.0h-3.0zM636.9 197.8h3.0v3.0h-3.0zM637.1 198.6h3.0v3.0h-3.0zM637.4 192.3h3.0v3.0h-3.0zM637.6 189.2h3.0v3.0h-3.0zM637.8 200.3h3.0v3.0h-3.0zM638.0 195.3h3.0v3.0h-3.0zM638.2 199.0h3.0v3.0h-3.0zM638.5 188.6h3.0v3.0h-3.0zM638.7 193.5h3.0v3.0h-3.0zM638.9 194.8h3.0v3.0h-3.0zM639.1 189.2h3.0v3.0h-3.0zM639.3 192.7h3.0v3.0h-3.0zM639.6 197.3h3.0v3.0h-3.0zM639.8 198.6h3.0v3.0h-3.0zM640.0 200.6h3.0v3.0h-3.0zM640.2 191.2h3.0v3.0h-3.0zM640.4 189.1h3.0v3.0h-3.0zM640.7 196.4h3.0v3.0h-3.0zM640.9 197.9h3.0v3.0h-3.0zM641.1 195.1h3.0v3.0h-3.0zM641.3 189.3h3.0v3.0h-3.0zM641.5 197.2h3.0v3.0h-3.0zM641.8 197.2h3.0v3.0h-3.0zM642.0 196.3h3.0v3.0h-3.0zM642.2 192.2h3.0v3.0h-3.0zM642.4 195.2h3.0v3.0h-3.0zM642.6 197.0h3.0v3.0h-3.0zM642.9 191.8h3.0v3.0h-3.0zM643.1 186.9h3.0v3.0h-3.0zM643.3 195.1h3.0v3.0h-3.0zM643.5 195.6h3.0v3.0h-3.0zM643.7 193.8h3.0v3.0h-3.0zM644.0 197.1h3.0v3.0h-3.0zM644.2 191.4h3.0v3.0h-3.0zM644.4 193.3h3.0v3.0h-3.0zM644.6 192.3h3.0v3.0h-3.0zM644.8 195.6h3.0v3.0h-3.0zM645.1 199.5h3.0v3.0h-3.0zM645.3 192.3h3.0v3.0h-3.0zM645.5 201.1h3.0v3.0h-3.0zM645.7 199.0h3.0v3.0h-3.0zM645.9 196.1h3.0v3.0h-3.0zM646.2 195.3h3.0v3.0h-3.0zM646.4 199.8h3.0v3.0h-3.0zM646.6 192.2h3.0v3.0h-3.0zM646.8 192.4h3.0v3.0h-3.0zM647.0 188.6h3.0v3.0h-3.0zM647.3 194.5h3.0v3.0h-3.0zM647.5 197.7h3.0v3.0h-3.0zM647.7 194.5h3.0v3.0h-3.0zM647.9 194.0h3.0v3.0h-3.0zM648.1 191.5h3.0v3.0h-3.0zM648.4 192.8h3.0v3.0h-3.0zM648.6 186.5h3.0v3.0h-3.0zM648.8 196.0h3.0v3.0h-3.0zM649.0 190.3h3.0v3.0h-3.0zM649.2 187.4h3.0v3.0h-3.0zM649.5 188.7h3.0v3.0h-3.0zM649.7 188.3h3.0v3.0h-3.0zM649.9 194.7h3.0v3.0h-3.0zM650.1 195.4h3.0v3.0h-3.0zM650.3 185.8h3.0v3.0h-3.0zM650.6 194.6h3.0v3.0h-3.0zM650.8 194.3h3.0v3.0h-3.0zM651.0 188.4h3.0v3.0h-3.0zM651.2 184.7h3.0v3.0h-3.0zM651.4 187.5h3.0v3.0h-3.0zM651.7 187.7h3.0v3.0h-3.0zM651.9 191.4h3.0v3.0h-3.0zM652.1 188.5h3.0v3.0h-3.0zM652.3 181.7h3.0v3.0h-3.0zM652.5 190.4h3.0v3.0h-3.0zM652.8 183.2h3.0v3.0h-3.0zM653.0 192.7h3.0v3.0h-3.0zM653.2 184.0h3.0v3.0h-3.0zM653.4 185.8h3.0v3.0h-3.0zM653.6 184.9h3.0v3.0h-3.0zM653.9 185.9h3.0v3.0h-3.0zM654.1 193.0h3.0v3.0h-3.0zM654.3 191.0h3.0v3.0h-3.0zM654.5 189.6h3.0v3.0h-3.0zM654.7 188.2h3.0v3.0h-3.0zM655.0 180.2h3.0v3.0h-3.0zM655.2 184.0h3.0v3.0h-3.0zM655.4 183.5h3.0v3.0h-3.0zM655.6 181.3h3.0v3.0h-3.0zM655.8 186.9h3.0v3.0h-3.0zM656.1 181.3h3.0v3.0h-3.0zM656.3 180.8h3.0v3.0h-3.0zM656.5 178.8h3.0v3.0h-3.0zM656.7 173.9h3.0v3.0h-3.0zM656.9 184.4h3.0v3.0h-3.0zM657.2 186.9h3.0v3.0h-3.0zM657.4 181.2h3.0v3.0h-3.0zM657.6 175.4h3.0v3.0h-3.0zM657.8 167.0h3.0v3.0h-3.0zM658.0 178.5h3.0v3.0h-3.0zM658.3 182.1h3.0v3.0h-3.0zM658.5 176.9h3.0v3.0h-3.0zM658.7 178.6h3.0v3.0h-3.0zM658.9 179.8h3.0v3.0h-3.0zM659.1 176.9h3.0v3.0h-3.0zM659.4 168.3h3.0v3.0h-3.0zM659.6 173.7h3.0v3.0h-3.0zM659.8 170.7h3.0v3.0h-3.0zM660.0 157.9h3.0v3.0h-3.0zM660.2 161.4h3.0v3.0h-3.0zM660.5 154.3h3.0v3.0h-3.0zM660.7 158.6h3.0v3.0h-3.0zM660.9 159.8h3.0v3.0h-3.0zM661.1 148.9h3.0v3.0h-3.0zM661.3 141.1h3.0v3.0h-3.0zM661.6 156.2h3.0v3.0h-3.0zM661.8 148.5h3.0v3.0h-3.0zM662.0 151.6h3.0v3.0h-3.0zM662.2 132.8h3.0v3.0h-3.0zM662.4 143.2h3.0v3.0h-3.0zM662.7 146.0h3.0v3.0h-3.0zM662.9 142.3h3.0v3.0h-3.0zM663.1 125.2h3.0v3.0h-3.0zM663.3 124.4h3.0v3.0h-3.0zM663.5 117.8h3.0v3.0h-3.0zM663.8 121.4h3.0v3.0h-3.0zM664.0 117.7h3.0v3.0h-3.0zM664.2 107.1h3.0v3.0h-3.0zM664.4 92.7h3.0v3.0h-3.0zM664.6 103.2h3.0v3.0h-3.0zM664.9 90.0h3.0v3.0h-3.0zM665.1 93.7h3.0v3.0h-3.0zM665.3 86.6h3.0v3.0h-3.0zM665.5 92.8h3.0v3.0h-3.0zM665.7 84.8h3.0v3.0h-3.0zM666.0 67.8h3.0v3.0h-3.0zM666.2 70.1h3.0v3.0h-3.0zM666.4 77.9h3.0v3.0h-3.0zM666.6 54.6h3.0v3.0h-3.0zM666.8 59.2h3.0v3.0h-3.0zM667.1 62.4h3.0v3.0h-3.0zM667.3 59.9h3.0v3.0h-3.0zM667.5 50.4h3.0v3.0h-3.0zM667.7 31.2h3.0v3.0h-3.0zM667.9 29.5h3.0v3.0h-3.0zM668.2 41.5h3.0v3.0h-3.0zM668.4 41.5h3.0v3.0h-3.0zM668.6 60.7h3.0v3.0h-3.0zM668.8 28.6h3.0v3.0h-3.0zM669.0 47.3h3.0v3.0h-3.0zM669.3 44.4h3.0v3.0h-3.0zM669.5 22.8h3.0v3.0h-3.0zM669.7 32.2h3.0v3.0h-3.0zM669.9 43.1h3.0v3.0h-3.0zM670.1 39.4h3.0v3.0h-3.0zM670.4 45.2h3.0v3.0h-3.0zM670.6 53.7h3.0v3.0h-3.0zM670.8 45.8h3.0v3.0h-3.0zM671.0 60.4h3.0v3.0h-3.0zM671.2 54.8h3.0v3.0h-3.0zM671.5 59.7h3.0v3.0h-3.0zM671.7 72.7h3.0v3.0h-3.0zM671.9 68.0h3.0v3.0h-3.0zM672.1 79.2h3.0v3.0h-3.0zM672.3 93.7h3.0v3.0h-3.0zM672.6 86.0h3.0v3.0h-3.0zM672.8 89.1h3.0v3.0h-3.0zM673.0 100.0h3.0v3.0h-3.0zM673.2 96.4h3.0v3.0h-3.0zM673.4 110.9h3.0v3.0h-3.0zM673.7 98.9h3.0v3.0h-3.0zM673.9 116.0h3.0v3.0h-3.0zM674.1 112.6h3.0v3.0h-3.0zM674.3 114.8h3.0v3.0h-3.0zM674.5 134.9h3.0v3.0h-3.0zM674.8 122.3h3.0v3.0h-3.0zM675.0 141.7h3.0v3.0h-3.0zM675.2 138.5h3.0v3.0h-3.0zM675.4 146.4h3.0v3.0h-3.0zM675.6 135.7h3.0v3.0h-3.0zM675.9 150.9h3.0v3.0h-3.0zM676.1 155.1h3.0v3.0h-3.0zM676.3 149.4h3.0v3.0h-3.0zM676.5 151.9h3.0v3.0h-3.0zM676.7 167.8h3.0v3.0h-3.0zM677.0 158.4h3.0v3.0h-3.0zM677.2 157.7h3.0v3.0h-3.0zM677.4 158.8h3.0v3.0h-3.0zM677.6 166.1h3.0v3.0h-3.0zM677.8 167.3h3.0v3.0h-3.0zM678.1 168.4h3.0v3.0h-3.0zM678.3 177.2h3.0v3.0h-3.0zM678.5 169.2h3.0v3.0h-3.0zM678.7 174.3h3.0v3.0h-3.0zM678.9 180.1h3.0v3.0h-3.0zM679.2 170.3h3.0v3.0h-3.0zM679.4 180.5h3.0v3.0h-3.0zM679.6 185.1h3.0v3.0h-3.0zM679.8 172.1h3.0v3.0h-3.0zM680.0 174.2h3.0v3.0h-3.0zM680.3 175.4h3.0v3.0h-3.0zM680.5 172.8h3.0v3.0h-3.0zM680.7 183.3h3.0v3.0h-3.0zM680.9 174.3h3.0v3.0h-3.0zM681.1 184.9h3.0v3.0h-3.0zM681.4 189.5h3.0v3.0h-3.0zM681.6 177.2h3.0v3.0h-3.0zM681.8 183.2h3.0v3.0h-3.0zM682.0 177.0h3.0v3.0h-3.0zM682.2 188.6h3.0v3.0h-3.0zM682.5 182.8h3.0v3.0h-3.0zM682.7 185.2h3.0v3.0h-3.0zM682.9 186.8h3.0v3.0h-3.0zM683.1 189.2h3.0v3.0h-3.0zM683.3 185.9h3.0v3.0h-3.0zM683.6 187.7h3.0v3.0h-3.0zM683.8 185.7h3.0v3.0h-3.0zM684.0 188.6h3.0v3.0h-3.0zM684.2 183.7h3.0v3.0h-3.0zM684.4 188.9h3.0v3.0h-3.0zM684.7 181.2h3.0v3.0h-3.0zM684.9 187.2h3.0v3.0h-3.0zM685.1 197.0h3.0v3.0h-3.0zM685.3 189.9h3.0v3.0h-3.0zM685.5 184.8h3.0v3.0h-3.0zM685.8 191.0h3.0v3.0h-3.0zM686.0 186.3h3.0v3.0h-3.0zM686.2 183.8h3.0v3.0h-3.0zM686.4 187.5h3.0v3.0h-3.0zM686.6 193.5h3.0v3.0h-3.0zM686.9 192.3h3.0v3.0h-3.0zM687.1 190.5h3.0v3.0h-3.0zM687.3 187.4h3.0v3.0h-3.0zM687.5 187.0h3.0v3.0h-3.0zM687.7 196.6h3.0v3.0h-3.0zM688.0 192.4h3.0v3.0h-3.0zM688.2 187.8h3.0v3.0h-3.0zM688.4 183.5h3.0v3.0h-3.0zM688.6 186.5h3.0v3.0h-3.0zM688.8 201.5h3.0v3.0h-3.0zM689.1 187.5h3.0v3.0h-3.0zM689.3 191.8h3.0v3.0h-3.0zM689.5 193.0h3.0v3.0h-3.0zM689.7 191.7h3.0v3.0h-3.0zM689.9 191.3h3.0v3.0h-3.0zM690.2 187.2h3.0v3.0h-3.0zM690.4 188.5h3.0v3.0h-3.0zM690.6 199.2h3.0v3.0h-3.0zM690.8 189.8h3.0v3.0h-3.0zM691.0 196.1h3.0v3.0h-3.0zM691.3 186.4h3.0v3.0h-3.0zM691.5 191.9h3.0v3.0h-3.0zM691.7 194.1h3.0v3.0h-3.0zM691.9 197.1h3.0v3.0h-3.0zM692.1 188.9h3.0v3.0h-3.0zM692.4 195.5h3.0v3.0h-3.0zM692.6 194.8h3.0v3.0h-3.0zM692.8 190.6h3.0v3.0h-3.0zM693.0 195.3h3.0v3.0h-3.0zM693.2 190.1h3.0v3.0h-3.0zM693.5 190.5h3.0v3.0h-3.0zM693.7 193.6h3.0v3.0h-3.0zM693.9 183.3h3.0v3.0h-3.0zM694.1 193.3h3.0v3.0h-3.0zM694.3 190.0h3.0v3.0h-3.0zM694.6 188.3h3.0v3.0h-3.0zM694.8 192.3h3.0v3.0h-3.0zM695.0 196.9h3.0v3.0h-3.0zM695.2 192.5h3.0v3.0h-3.0zM695.4 198.9h3.0v3.0h-3.0zM695.7 189.7h3.0v3.0h-3.0zM695.9 189.2h3.0v3.0h-3.0zM696.1 200.1h3.0v3.0h-3.0zM696.3 195.8h3.0v3.0h-3.0zM696.5 197.9h3.0v3.0h-3.0zM696.8 191.2h3.0v3.0h-3.0zM697.0 197.4h3.0v3.0h-3.0zM697.2 195.4h3.0v3.0h-3.0zM697.4 196.9h3.0v3.0h-3.0zM697.6 194.6h3.0v3.0h-3.0zM697.9 199.1h3.0v3.0h-3.0zM698.1 192.1h3.0v3.0h-3.0zM698.3 191.0h3.0v3.0h-3.0zM698.5 189.1h3.0v3.0h-3.0zM698.7 199.1h3.0v3.0h-3.0zM699.0 191.9h3.0v3.0h-3.0zM699.2 190.8h3.0v3.0h-3.0zM699.4 191.2h3.0v3.0h-3.0zM699.6 193.1h3.0v3.0h-3.0zM699.8 190.0h3.0v3.0h-3.0zM700.1 193.8h3.0v3.0h-3.0zM700.3 192.5h3.0v3.0h-3.0zM700.5 192.9h3.0v3.0h-3.0zM700.7 191.3h3.0v3.0h-3.0zM700.9 195.1h3.0v3.0h-3.0zM701.2 193.3h3.0v3.0h-3.0zM701.4 195.5h3.0v3.0h-3.0zM701.6 196.0h3.0v3.0h-3.0zM701.8 196.4h3.0v3.0h-3.0zM702.0 186.9h3.0v3.0h-3.0zM702.3 193.1h3.0v3.0h-3.0zM702.5 192.2h3.0v3.0h-3.0zM702.7 198.1h3.0v3.0h-3.0zM702.9 189.3h3.0v3.0h-3.0zM703.1 192.6h3.0v3.0h-3.0zM703.4 194.2h3.0v3.0h-3.0zM703.6 194.0h3.0v3.0h-3.0zM703.8 199.0h3.0v3.0h-3.0zM704.0 193.7h3.0v3.0h-3.0zM704.2 199.0h3.0v3.0h-3.0zM704.5 189.9h3.0v3.0h-3.0zM704.7 188.6h3.0v3.0h-3.0zM704.9 200.0h3.0v3.0h-3.0zM705.1 197.1h3.0v3.0h-3.0zM705.3 197.3h3.0v3.0h-3.0zM705.6 195.9h3.0v3.0h-3.0zM705.8 197.3h3.0v3.0h-3.0zM706.0 191.0h3.0v3.0h-3.0zM706.2 199.1h3.0v3.0h-3.0zM706.4 193.6h3.0v3.0h-3.0zM706.7 199.3h3.0v3.0h-3.0zM706.9 195.9h3.0v3.0h-3.0zM707.1 188.2h3.0v3.0h-3.0zM707.3 190.8h3.0v3.0h-3.0zM707.5 199.9h3.0v3.0h-3.0zM707.8 195.1h3.0v3.0h-3.0zM708.0 194.2h3.0v3.0h-3.0zM708.2 196.6h3.0v3.0h-3.0zM708.4 194.1h3.0v3.0h-3.0zM708.6 193.7h3.0v3.0h-3.0zM708.9 196.1h3.0v3.0h-3.0zM709.1 196.3h3.0v3.0h-3.0zM709.3 201.4h3.0v3.0h-3.0zM709.5 195.9h3.0v3.0h-3.0zM709.7 202.8h3.0v3.0h-3.0zM710.0 202.6h3.0v3.0h-3.0zM710.2 202.2h3.0v3.0h-3.0zM710.4 199.8h3.0v3.0h-3.0zM710.6 196.3h3.0v3.0h-3.0zM710.8 196.4h3.0v3.0h-3.0zM711.1 195.3h3.0v3.0h-3.0zM711.3 193.1h3.0v3.0h-3.0zM711.5 195.6h3.0v3.0h-3.0zM711.7 193.5h3.0v3.0h-3.0zM711.9 202.1h3.0v3.0h-3.0zM712.2 197.9h3.0v3.0h-3.0zM712.4 194.3h3.0v3.0h-3.0zM712.6 188.8h3.0v3.0h-3.0zM712.8 195.8h3.0v3.0h-3.0zM713.0 194.4h3.0v3.0h-3.0zM713.3 191.9h3.0v3.0h-3.0zM713.5 191.7h3.0v3.0h-3.0zM713.7 187.6h3.0v3.0h-3.0zM713.9 198.1h3.0v3.0h-3.0zM714.1 195.8h3.0v3.0h-3.0zM714.4 205.7h3.0v3.0h-3.0zM714.6 195.9h3.0v3.0h-3.0zM714.8 195.5h3.0v3.0h-3.0zM715.0 201.5h3.0v3.0h-3.0zM715.2 196.6h3.0v3.0h-3.0zM715.5 196.7h3.0v3.0h-3.0zM715.7 194.7h3.0v3.0h-3.0zM715.9 193.8h3.0v3.0h-3.0zM716.1 201.7h3.0v3.0h-3.0zM716.3 199.9h3.0v3.0h-3.0zM716.6 202.5h3.0v3.0h-3.0zM716.8 194.8h3.0v3.0h-3.0zM717.0 196.3h3.0v3.0h-3.0zM717.2 192.9h3.0v3.0h-3.0zM717.4 199.8h3.0v3.0h-3.0zM717.7 191.0h3.0v3.0h-3.0zM717.9 198.3h3.0v3.0h-3.0zM718.1 200.3h3.0v3.0h-3.0zM718.3 201.5h3.0v3.0h-3.0zM718.5 192.7h3.0v3.0h-3.0zM718.8 200.3h3.0v3.0h-3.0zM719.0 193.6h3.0v3.0h-3.0zM719.2 193.4h3.0v3.0h-3.0zM719.4 191.3h3.0v3.0h-3.0zM719.6 200.6h3.0v3.0h-3.0zM719.9 202.4h3.0v3.0h-3.0zM720.1 194.0h3.0v3.0h-3.0zM720.3 193.4h3.0v3.0h-3.0zM720.5 195.0h3.0v3.0h-3.0zM720.7 205.6h3.0v3.0h-3.0zM721.0 200.0h3.0v3.0h-3.0zM721.2 194.3h3.0v3.0h-3.0zM721.4 189.6h3.0v3.0h-3.0zM721.6 193.8h3.0v3.0h-3.0zM721.8 200.7h3.0v3.0h-3.0zM722.1 203.3h3.0v3.0h-3.0zM722.3 195.3h3.0v3.0h-3.0zM722.5 193.8h3.0v3.0h-3.0zM722.7 194.4h3.0v3.0h-3.0zM722.9 189.3h3.0v3.0h-3.0zM723.2 199.7h3.0v3.0h-3.0zM723.4 192.3h3.0v3.0h-3.0zM723.6 200.3h3.0v3.0h-3.0zM723.8 190.0h3.0v3.0h-3.0zM724.0 191.6h3.0v3.0h-3.0zM724.3 197.5h3.0v3.0h-3.0zM724.5 193.5h3.0v3.0h-3.0zM724.7 199.3h3.0v3.0h-3.0zM724.9 196.4h3.0v3.0h-3.0zM725.1 192.0h3.0v3.0h-3.0zM725.4 198.7h3.0v3.0h-3.0zM725.6 199.5h3.0v3.0h-3.0zM725.8 189.3h3.0v3.0h-3.0zM726.0 203.2h3.0v3.0h-3.0zM726.2 198.3h3.0v3.0h-3.0zM726.5 199.3h3.0v3.0h-3.0zM726.7 189.5h3.0v3.0h-3.0zM726.9 193.8h3.0v3.0h-3.0zM727.1 195.1h3.0v3.0h-3.0zM727.3 200.5h3.0v3.0h-3.0zM727.6 191.0h3.0v3.0h-3.0zM727.8 193.2h3.0v3.0h-3.0zM728.0 188.9h3.0v3.0h-3.0zM728.2 195.6h3.0v3.0h-3.0zM728.4 197.8h3.0v3.0h-3.0zM728.7 190.2h3.0v3.0h-3.0zM728.9 194.3h3.0v3.0h-3.0zM729.1 198.4h3.0v3.0h-3.0zM729.3 202.4h3.0v3.0h-3.0zM729.5 199.0h3.0v3.0h-3.0zM729.8 195.4h3.0v3.0h-3.0zM730.0 192.1h3.0v3.0h-3.0zM730.2 193.0h3.0v3.0h-3.0zM730.4 194.0h3.0v3.0h-3.0zM730.6 197.1h3.0v3.0h-3.0zM730.9 196.3h3.0v3.0h-3.0zM731.1 202.7h3.0v3.0h-3.0zM731.3 197.6h3.0v3.0h-3.0zM731.5 192.5h3.0v3.0h-3.0zM731.7 202.3h3.0v3.0h-3.0zM732.0 200.1h3.0v3.0h-3.0zM732.2 196.9h3.0v3.0h-3.0zM732.4 193.9h3.0v3.0h-3.0zM732.6 189.6h3.0v3.0h-3.0zM732.8 192.8h3.0v3.0h-3.0zM733.1 200.0h3.0v3.0h-3.0zM733.3 193.6h3.0v3.0h-3.0zM733.5 191.7h3.0v3.0h-3.0zM733.7 197.3h3.0v3.0h-3.0zM733.9 197.5h3.0v3.0h-3.0zM734.2 198.8h3.0v3.0h-3.0zM734.4 199.0h3.0v3.0h-3.0zM734.6 201.8h3.0v3.0h-3.0zM734.8 193.5h3.0v3.0h-3.0zM735.0 200.2h3.0v3.0h-3.0zM735.3 192.9h3.0v3.0h-3.0zM735.5 199.2h3.0v3.0h-3.0zM735.7 197.3h3.0v3.0h-3.0zM735.9 197.5h3.0v3.0h-3.0zM736.1 200.2h3.0v3.0h-3.0zM736.4 196.5h3.0v3.0h-3.0zM736.6 200.7h3.0v3.0h-3.0zM736.8 199.9h3.0v3.0h-3.0zM737.0 197.1h3.0v3.0h-3.0zM737.2 194.5h3.0v3.0h-3.0zM737.5 193.8h3.0v3.0h-3.0zM737.7 194.7h3.0v3.0h-3.0zM737.9 195.9h3.0v3.0h-3.0zM738.1 196.5h3.0v3.0h-3.0zM738.3 207.7h3.0v3.0h-3.0zM738.6 199.0h3.0v3.0h-3.0zM738.8 199.5h3.0v3.0h-3.0zM739.0 193.4h3.0v3.0h-3.0zM739.2 194.0h3.0v3.0h-3.0zM739.4 195.5h3.0v3.0h-3.0zM739.7 197.4h3.0v3.0h-3.0zM739.9 192.8h3.0v3.0h-3.0zM740.1 202.7h3.0v3.0h-3.0zM740.3 194.6h3.0v3.0h-3.0zM740.5 200.7h3.0v3.0h-3.0zM740.8 188.0h3.0v3.0h-3.0zM741.0 196.6h3.0v3.0h-3.0zM741.2 197.7h3.0v3.0h-3.0zM741.4 197.4h3.0v3.0h-3.0zM741.6 198.9h3.0v3.0h-3.0zM741.9 197.7h3.0v3.0h-3.0zM742.1 197.3h3.0v3.0h-3.0zM742.3 189.7h3.0v3.0h-3.0zM742.5 194.0h3.0v3.0h-3.0zM742.7 188.0h3.0v3.0h-3.0zM743.0 199.0h3.0v3.0h-3.0zM743.2 197.8h3.0v3.0h-3.0zM743.4 196.0h3.0v3.0h-3.0zM403.5 452.3h5.0v5.0h-5.0zM403.7 453.4h5.0v5.0h-5.0zM403.9 465.3h5.0v5.0h-5.0zM404.1 464.8h5.0v5.0h-5.0zM404.3 456.0h5.0v5.0h-5.0zM404.5 462.6h5.0v5.0h-5.0zM404.7 448.5h5.0v5.0h-5.0zM404.9 446.8h5.0v5.0h-5.0zM405.1 453.9h5.0v5.0h-5.0zM405.3 452.0h5.0v5.0h-5.0zM405.5 453.5h5.0v5.0h-5.0zM405.7 457.2h5.0v5.0h-5.0zM405.9 471.1h5.0v5.0h-5.0zM406.1 453.0h5.0v5.0h-5.0zM406.3 456.5h5.0v5.0h-5.0zM406.5 457.6h5.0v5.0h-5.0zM406.7 456.1h5.0v5.0h-5.0zM406.9 460.8h5.0v5.0h-5.0zM407.1 465.0h5.0v5.0h-5.0zM407.3 450.2h5.0v5.0h-5.0zM407.5 457.1h5.0v5.0h-5.0zM407.7 455.0h5.0v5.0h-5.0zM407.9 458.0h5.0v5.0h-5.0zM408.1 448.8h5.0v5.0h-5.0zM408.3 447.6h5.0v5.0h-5.0zM408.5 444.9h5.0v5.0h-5.0zM408.7 458.8h5.0v5.0h-5.0zM408.9 457.2h5.0v5.0h-5.0zM409.1 456.6h5.0v5.0h-5.0zM409.3 444.7h5.0v5.0h-5.0zM409.5 454.4h5.0v5.0h-5.0zM409.7 452.6h5.0v5.0h-5.0zM409.9 449.3h5.0v5.0h-5.0zM410.1 451.8h5.0v5.0h-5.0zM410.3 459.7h5.0v5.0h-5.0zM410.5 458.9h5.0v5.0h-5.0zM410.7 456.1h5.0v5.0h-5.0zM410.9 458.8h5.0v5.0h-5.0zM411.1 453.3h5.0v5.0h-5.0zM411.3 456.6h5.0v5.0h-5.0zM411.5 456.4h5.0v5.0h-5.0zM411.7 459.0h5.0v5.0h-5.0zM411.9 455.9h5.0v5.0h-5.0zM412.1 455.5h5.0v5.0h-5.0zM412.3 455.6h5.0v5.0h-5.0zM412.5 453.1h5.0v5.0h-5.0zM412.7 467.2h5.0v5.0h-5.0zM412.9 458.7h5.0v5.0h-5.0zM413.1 458.3h5.0v5.0h-5.0zM413.3 467.5h5.0v5.0h-5.0zM413.5 463.1h5.0v5.0h-5.0zM413.7 448.6h5.0v5.0h-5.0zM413.9 459.6h5.0v5.0h-5.0zM414.1 460.3h5.0v5.0h-5.0zM414.3 465.5h5.0v5.0h-5.0zM414.5 462.7h5.0v5.0h-5.0zM414.7 460.0h5.0v5.0h-5.0zM414.9 450.4h5.0v5.0h-5.0zM415.1 451.9h5.0v5.0h-5.0zM415.3 457.5h5.0v5.0h-5.0zM415.5 458.7h5.0v5.0h-5.0zM415.7 451.2h5.0v5.0h-5.0zM415.9 454.3h5.0v5.0h-5.0zM416.1 454.2h5.0v5.0h-5.0zM416.3 456.5h5.0v5.0h-5.0zM416.5 457.8h5.0v5.0h-5.0zM416.7 454.8h5.0v5.0h-5.0zM416.9 450.1h5.0v5.0h-5.0zM417.1 462.3h5.0v5.0h-5.0zM417.3 464.0h5.0v5.0h-5.0zM417.5 455.7h5.0v5.0h-5.0zM417.7 461.2h5.0v5.0h-5.0zM417.9 458.3h5.0v5.0h-5.0zM418.1 459.4h5.0v5.0h-5.0zM418.3 458.5h5.0v5.0h-5.0zM418.5 452.4h5.0v5.0h-5.0zM418.7 459.0h5.0v5.0h-5.0zM418.9 461.1h5.0v5.0h-5.0zM419.1 451.8h5.0v5.0h-5.0zM419.3 465.8h5.0v5.0h-5.0zM419.5 466.4h5.0v5.0h-5.0zM419.7 465.1h5.0v5.0h-5.0zM419.9 465.9h5.0v5.0h-5.0zM420.1 459.8h5.0v5.0h-5.0zM420.3 454.5h5.0v5.0h-5.0zM420.5 453.2h5.0v5.0h-5.0zM420.7 452.1h5.0v5.0h-5.0zM420.9 456.7h5.0v5.0h-5.0zM421.1 455.9h5.0v5.0h-5.0zM421.3 459.4h5.0v5.0h-5.0zM421.5 446.2h5.0v5.0h-5.0zM421.7 467.4h5.0v5.0h-5.0zM421.9 467.2h5.0v5.0h-5.0zM422.1 455.9h5.0v5.0h-5.0zM422.3 459.4h5.0v5.0h-5.0zM422.5 458.4h5.0v5.0h-5.0zM422.7 457.4h5.0v5.0h-5.0zM422.9 455.0h5.0v5.0h-5.0zM423.1 455.5h5.0v5.0h-5.0zM423.3 452.0h5.0v5.0h-5.0zM423.5 456.9h5.0v5.0h-5.0zM423.7 455.9h5.0v5.0h-5.0zM423.9 457.6h5.0v5.0h-5.0zM424.1 451.8h5.0v5.0h-5.0zM424.3 456.2h5.0v5.0h-5.0zM424.5 456.3h5.0v5.0h-5.0zM424.7 459.0h5.0v5.0h-5.0zM424.9 450.8h5.0v5.0h-5.0zM425.1 458.1h5.0v5.0h-5.0zM425.3 460.8h5.0v5.0h-5.0zM425.5 458.9h5.0v5.0h-5.0zM425.7 454.2h5.0v5.0h-5.0zM425.9 453.6h5.0v5.0h-5.0zM426.1 454.8h5.0v5.0h-5.0zM426.3 459.5h5.0v5.0h-5.0zM426.5 463.6h5.0v5.0h-5.0zM426.7 455.2h5.0v5.0h-5.0zM426.9 452.8h5.0v5.0h-5.0zM427.1 457.8h5.0v5.0h-5.0zM427.3 456.9h5.0v5.0h-5.0zM427.5 451.4h5.0v5.0h-5.0zM427.7 452.3h5.0v5.0h-5.0zM427.9 455.4h5.0v5.0h-5.0zM428.1 459.2h5.0v5.0h-5.0zM428.3 450.0h5.0v5.0h-5.0zM428.5 450.9h5.0v5.0h-5.0zM428.7 458.3h5.0v5.0h-5.0zM428.9 449.8h5.0v5.0h-5.0zM429.1 456.3h5.0v5.0h-5.0zM429.3 457.5h5.0v5.0h-5.0zM429.5 455.2h5.0v5.0h-5.0zM429.7 450.8h5.0v5.0h-5.0zM429.9 455.5h5.0v5.0h-5.0zM430.1 454.1h5.0v5.0h-5.0zM430.3 457.4h5.0v5.0h-5.0zM430.5 451.6h5.0v5.0h-5.0zM430.7 461.0h5.0v5.0h-5.0zM430.9 447.5h5.0v5.0h-5.0zM431.1 454.8h5.0v5.0h-5.0zM431.3 455.7h5.0v5.0h-5.0zM431.5 460.3h5.0v5.0h-5.0zM431.7 452.6h5.0v5.0h-5.0zM431.9 458.3h5.0v5.0h-5.0zM432.1 452.8h5.0v5.0h-5.0zM432.3 459.2h5.0v5.0h-5.0zM432.5 464.0h5.0v5.0h-5.0zM432.7 453.5h5.0v5.0h-5.0zM432.9 457.6h5.0v5.0h-5.0zM433.1 450.9h5.0v5.0h-5.0zM433.3 460.2h5.0v5.0h-5.0zM433.5 461.3h5.0v5.0h-5.0zM433.7 455.5h5.0v5.0h-5.0zM433.9 449.8h5.0v5.0h-5.0zM434.1 457.3h5.0v5.0h-5.0zM434.3 460.9h5.0v5.0h-5.0zM434.5 460.6h5.0v5.0h-5.0zM434.7 459.2h5.0v5.0h-5.0zM434.9 446.1h5.0v5.0h-5.0zM435.1 451.8h5.0v5.0h-5.0zM435.3 462.0h5.0v5.0h-5.0zM435.5 449.0h5.0v5.0h-5.0zM435.7 460.5h5.0v5.0h-5.0zM435.9 464.1h5.0v5.0h-5.0zM436.1 458.5h5.0v5.0h-5.0zM436.3 460.2h5.0v5.0h-5.0zM436.5 453.0h5.0v5.0h-5.0zM436.7 448.5h5.0v5.0h-5.0zM436.9 453.9h5.0v5.0h-5.0zM437.1 453.3h5.0v5.0h-5.0zM437.3 453.9h5.0v5.0h-5.0zM437.5 457.4h5.0v5.0h-5.0zM437.7 453.1h5.0v5.0h-5.0zM437.9 454.6h5.0v5.0h-5.0zM438.1 455.5h5.0v5.0h-5.0zM438.3 453.2h5.0v5.0h-5.0zM438.5 462.0h5.0v5.0h-5.0zM438.7 454.8h5.0v5.0h-5.0zM438.9 452.6h5.0v5.0h-5.0zM439.1 450.8h5.0v5.0h-5.0zM439.3 448.3h5.0v5.0h-5.0zM439.5 457.5h5.0v5.0h-5.0zM439.7 451.0h5.0v5.0h-5.0zM439.9 444.3h5.0v5.0h-5.0zM440.1 446.2h5.0v5.0h-5.0zM440.3 447.5h5.0v5.0h-5.0zM440.5 445.1h5.0v5.0h-5.0zM440.7 451.8h5.0v5.0h-5.0zM440.9 439.6h5.0v5.0h-5.0zM441.1 446.8h5.0v5.0h-5.0zM441.3 443.9h5.0v5.0h-5.0zM441.5 436.0h5.0v5.0h-5.0zM441.7 440.8h5.0v5.0h-5.0zM441.9 438.7h5.0v5.0h-5.0zM442.1 440.2h5.0v5.0h-5.0zM442.3 433.8h5.0v5.0h-5.0zM442.5 436.0h5.0v5.0h-5.0zM442.7 424.3h5.0v5.0h-5.0zM442.9 425.5h5.0v5.0h-5.0zM443.1 433.2h5.0v5.0h-5.0zM443.3 432.8h5.0v5.0h-5.0zM443.5 425.5h5.0v5.0h-5.0zM443.7 420.7h5.0v5.0h-5.0zM443.9 427.6h5.0v5.0h-5.0zM444.1 409.5h5.0v5.0h-5.0zM444.3 414.5h5.0v5.0h-5.0zM444.5 420.6h5.0v5.0h-5.0zM444.7 419.1h5.0v5.0h-5.0zM444.9 409.0h5.0v5.0h-5.0zM445.1 403.4h5.0v5.0h-5.0zM445.3 420.0h5.0v5.0h-5.0zM445.5 412.5h5.0v5.0h-5.0zM445.7 406.4h5.0v5.0h-5.0zM445.9 411.2h5.0v5.0h-5.0zM446.1 415.7h5.0v5.0h-5.0zM446.3 397.5h5.0v5.0h-5.0zM446.5 417.5h5.0v5.0h-5.0zM446.7 416.2h5.0v5.0h-5.0zM446.9 402.4h5.0v5.0h-5.0zM447.1 418.4h5.0v5.0h-5.0zM447.3 406.4h5.0v5.0h-5.0zM447.5 423.0h5.0v5.0h-5.0zM447.7 420.7h5.0v5.0h-5.0zM447.9 432.0h5.0v5.0h-5.0zM448.1 418.9h5.0v5.0h-5.0zM448.3 423.8h5.0v5.0h-5.0zM448.5 431.0h5.0v5.0h-5.0zM448.7 424.1h5.0v5.0h-5.0zM448.9 425.6h5.0v5.0h-5.0zM449.1 429.1h5.0v5.0h-5.0zM449.3 432.3h5.0v5.0h-5.0zM449.5 428.9h5.0v5.0h-5.0zM449.7 438.5h5.0v5.0h-5.0zM449.9 440.4h5.0v5.0h-5.0zM450.1 439.5h5.0v5.0h-5.0zM450.3 449.1h5.0v5.0h-5.0zM450.5 440.2h5.0v5.0h-5.0zM450.7 449.7h5.0v5.0h-5.0zM450.9 441.6h5.0v5.0h-5.0zM451.1 449.2h5.0v5.0h-5.0zM451.3 436.7h5.0v5.0h-5.0zM451.5 448.3h5.0v5.0h-5.0zM451.7 447.3h5.0v5.0h-5.0zM451.9 446.5h5.0v5.0h-5.0zM452.1 446.6h5.0v5.0h-5.0zM452.3 448.5h5.0v5.0h-5.0zM452.5 447.2h5.0v5.0h-5.0zM452.7 440.5h5.0v5.0h-5.0zM452.9 448.8h5.0v5.0h-5.0zM453.1 449.4h5.0v5.0h-5.0zM453.3 449.9h5.0v5.0h-5.0zM453.5 447.6h5.0v5.0h-5.0zM453.7 452.4h5.0v5.0h-5.0zM453.9 457.2h5.0v5.0h-5.0zM454.1 452.3h5.0v5.0h-5.0zM454.3 451.3h5.0v5.0h-5.0zM454.5 460.6h5.0v5.0h-5.0zM454.7 458.9h5.0v5.0h-5.0zM454.9 458.7h5.0v5.0h-5.0zM455.1 460.0h5.0v5.0h-5.0zM455.3 452.8h5.0v5.0h-5.0zM455.5 453.9h5.0v5.0h-5.0zM455.7 460.1h5.0v5.0h-5.0zM455.9 452.0h5.0v5.0h-5.0zM456.1 454.2h5.0v5.0h-5.0zM456.3 456.7h5.0v5.0h-5.0zM456.5 456.7h5.0v5.0h-5.0zM456.7 453.6h5.0v5.0h-5.0zM456.9 459.8h5.0v5.0h-5.0zM457.1 454.1h5.0v5.0h-5.0zM457.3 458.6h5.0v5.0h-5.0zM457.5 460.3h5.0v5.0h-5.0zM457.7 458.4h5.0v5.0h-5.0zM457.9 458.8h5.0v5.0h-5.0zM458.1 449.5h5.0v5.0h-5.0zM458.3 448.8h5.0v5.0h-5.0zM458.5 452.2h5.0v5.0h-5.0zM458.7 457.6h5.0v5.0h-5.0zM458.9 462.7h5.0v5.0h-5.0zM459.1 449.3h5.0v5.0h-5.0zM459.3 456.8h5.0v5.0h-5.0zM459.5 451.2h5.0v5.0h-5.0zM459.7 451.8h5.0v5.0h-5.0zM459.9 454.0h5.0v5.0h-5.0zM460.1 458.8h5.0v5.0h-5.0zM460.3 456.5h5.0v5.0h-5.0zM460.5 461.2h5.0v5.0h-5.0zM460.7 450.6h5.0v5.0h-5.0zM460.9 459.8h5.0v5.0h-5.0zM461.1 460.0h5.0v5.0h-5.0zM461.3 455.8h5.0v5.0h-5.0zM461.5 457.8h5.0v5.0h-5.0zM461.7 452.7h5.0v5.0h-5.0zM461.9 450.2h5.0v5.0h-5.0zM462.1 453.5h5.0v5.0h-5.0zM462.3 452.4h5.0v5.0h-5.0zM462.5 469.7h5.0v5.0h-5.0zM462.7 453.2h5.0v5.0h-5.0zM462.9 463.7h5.0v5.0h-5.0zM463.1 456.6h5.0v5.0h-5.0zM463.3 457.1h5.0v5.0h-5.0zM463.5 459.2h5.0v5.0h-5.0zM463.7 451.8h5.0v5.0h-5.0zM463.9 460.1h5.0v5.0h-5.0zM464.1 457.4h5.0v5.0h-5.0zM464.3 448.2h5.0v5.0h-5.0zM464.5 458.6h5.0v5.0h-5.0zM464.7 458.3h5.0v5.0h-5.0zM464.9 457.8h5.0v5.0h-5.0zM465.1 463.4h5.0v5.0h-5.0zM465.3 453.6h5.0v5.0h-5.0zM465.5 458.1h5.0v5.0h-5.0zM465.7 459.3h5.0v5.0h-5.0zM465.9 451.2h5.0v5.0h-5.0zM466.1 461.5h5.0v5.0h-5.0zM466.3 448.5h5.0v5.0h-5.0zM466.5 449.2h5.0v5.0h-5.0zM466.7 458.2h5.0v5.0h-5.0zM466.9 450.3h5.0v5.0h-5.0zM467.1 455.0h5.0v5.0h-5.0zM467.3 447.5h5.0v5.0h-5.0zM467.5 455.9h5.0v5.0h-5.0zM467.7 450.0h5.0v5.0h-5.0zM467.9 457.3h5.0v5.0h-5.0zM468.1 448.1h5.0v5.0h-5.0zM468.3 457.8h5.0v5.0h-5.0zM468.5 454.3h5.0v5.0h-5.0zM468.7 455.9h5.0v5.0h-5.0zM468.9 455.2h5.0v5.0h-5.0zM469.1 456.2h5.0v5.0h-5.0zM469.3 449.1h5.0v5.0h-5.0zM469.5 443.0h5.0v5.0h-5.0zM469.7 455.7h5.0v5.0h-5.0zM469.9 450.9h5.0v5.0h-5.0zM470.1 453.3h5.0v5.0h-5.0zM470.3 457.6h5.0v5.0h-5.0zM470.5 445.7h5.0v5.0h-5.0zM470.7 451.7h5.0v5.0h-5.0zM470.9 452.5h5.0v5.0h-5.0zM471.1 450.3h5.0v5.0h-5.0zM471.3 457.0h5.0v5.0h-5.0zM471.5 454.7h5.0v5.0h-5.0zM471.7 451.4h5.0v5.0h-5.0zM471.9 450.5h5.0v5.0h-5.0zM472.1 459.3h5.0v5.0h-5.0zM472.3 452.1h5.0v5.0h-5.0zM472.5 458.2h5.0v5.0h-5.0zM472.7 457.5h5.0v5.0h-5.0zM472.9 446.0h5.0v5.0h-5.0zM473.1 449.9h5.0v5.0h-5.0zM473.3 455.2h5.0v5.0h-5.0zM473.5 456.9h5.0v5.0h-5.0zM473.7 459.0h5.0v5.0h-5.0zM473.9 459.0h5.0v5.0h-5.0zM474.1 460.1h5.0v5.0h-5.0zM474.3 453.2h5.0v5.0h-5.0zM474.5 454.0h5.0v5.0h-5.0zM474.7 458.8h5.0v5.0h-5.0zM474.9 452.8h5.0v5.0h-5.0zM475.1 460.0h5.0v5.0h-5.0zM475.3 447.0h5.0v5.0h-5.0zM475.5 457.9h5.0v5.0h-5.0zM475.7 453.8h5.0v5.0h-5.0zM475.9 444.9h5.0v5.0h-5.0zM476.1 459.3h5.0v5.0h-5.0zM476.3 455.9h5.0v5.0h-5.0zM476.5 454.4h5.0v5.0h-5.0zM476.7 448.9h5.0v5.0h-5.0zM476.9 451.8h5.0v5.0h-5.0zM477.1 461.4h5.0v5.0h-5.0zM477.3 449.7h5.0v5.0h-5.0zM477.5 436.5h5.0v5.0h-5.0zM477.7 449.1h5.0v5.0h-5.0zM477.9 447.2h5.0v5.0h-5.0zM478.1 452.1h5.0v5.0h-5.0zM478.3 450.4h5.0v5.0h-5.0zM478.5 447.4h5.0v5.0h-5.0zM478.7 447.2h5.0v5.0h-5.0zM478.9 455.8h5.0v5.0h-5.0zM479.1 442.7h5.0v5.0h-5.0zM479.3 458.6h5.0v5.0h-5.0zM479.5 445.0h5.0v5.0h-5.0zM479.7 441.0h5.0v5.0h-5.0zM479.9 448.8h5.0v5.0h-5.0zM480.1 445.9h5.0v5.0h-5.0zM480.3 435.8h5.0v5.0h-5.0zM480.5 442.5h5.0v5.0h-5.0zM480.7 426.9h5.0v5.0h-5.0zM480.9 428.7h5.0v5.0h-5.0zM481.1 436.0h5.0v5.0h-5.0zM481.3 425.6h5.0v5.0h-5.0zM481.5 416.7h5.0v5.0h-5.0zM481.7 422.4h5.0v5.0h-5.0zM481.9 420.7h5.0v5.0h-5.0zM482.1 412.0h5.0v5.0h-5.0zM482.3 398.7h5.0v5.0h-5.0zM482.5 402.7h5.0v5.0h-5.0zM482.7 403.3h5.0v5.0h-5.0zM482.9 402.0h5.0v5.0h-5.0zM483.1 405.2h5.0v5.0h-5.0zM483.3 391.7h5.0v5.0h-5.0zM483.5 388.9h5.0v5.0h-5.0zM483.7 390.6h5.0v5.0h-5.0zM483.9 397.3h5.0v5.0h-5.0zM484.1 386.4h5.0v5.0h-5.0zM484.3 400.1h5.0v5.0h-5.0zM484.5 380.4h5.0v5.0h-5.0zM484.7 402.2h5.0v5.0h-5.0zM484.9 397.5h5.0v5.0h-5.0zM485.1 407.0h5.0v5.0h-5.0zM485.3 411.9h5.0v5.0h-5.0zM485.5 405.9h5.0v5.0h-5.0zM485.7 415.5h5.0v5.0h-5.0zM485.9 421.0h5.0v5.0h-5.0zM486.1 426.5h5.0v5.0h-5.0zM486.3 422.2h5.0v5.0h-5.0zM486.5 425.2h5.0v5.0h-5.0zM486.7 423.6h5.0v5.0h-5.0zM486.9 449.1h5.0v5.0h-5.0zM487.1 437.8h5.0v5.0h-5.0zM487.3 439.9h5.0v5.0h-5.0zM487.5 435.6h5.0v5.0h-5.0zM487.7 449.5h5.0v5.0h-5.0zM487.9 443.8h5.0v5.0h-5.0zM488.1 454.9h5.0v5.0h-5.0zM488.3 453.1h5.0v5.0h-5.0zM488.5 450.0h5.0v5.0h-5.0zM488.7 454.3h5.0v5.0h-5.0zM488.9 445.9h5.0v5.0h-5.0zM489.1 450.3h5.0v5.0h-5.0zM489.3 449.6h5.0v5.0h-5.0zM489.5 446.5h5.0v5.0h-5.0zM489.7 453.2h5.0v5.0h-5.0zM489.9 452.7h5.0v5.0h-5.0zM490.1 460.7h5.0v5.0h-5.0zM490.3 437.3h5.0v5.0h-5.0zM490.5 450.7h5.0v5.0h-5.0zM490.7 449.6h5.0v5.0h-5.0zM490.9 452.0h5.0v5.0h-5.0zM491.1 456.5h5.0v5.0h-5.0zM491.3 456.5h5.0v5.0h-5.0zM491.5 454.7h5.0v5.0h-5.0zM491.7 452.3h5.0v5.0h-5.0zM491.9 457.2h5.0v5.0h-5.0zM492.1 456.6h5.0v5.0h-5.0zM492.3 445.8h5.0v5.0h-5.0zM492.5 453.6h5.0v5.0h-5.0zM492.7 448.2h5.0v5.0h-5.0zM492.9 449.2h5.0v5.0h-5.0zM493.1 455.8h5.0v5.0h-5.0zM493.3 455.4h5.0v5.0h-5.0zM493.5 455.7h5.0v5.0h-5.0zM493.7 450.9h5.0v5.0h-5.0zM493.9 454.2h5.0v5.0h-5.0zM494.1 450.8h5.0v5.0h-5.0zM494.3 457.2h5.0v5.0h-5.0zM494.5 458.7h5.0v5.0h-5.0zM494.7 464.0h5.0v5.0h-5.0zM494.9 461.6h5.0v5.0h-5.0zM495.1 451.5h5.0v5.0h-5.0zM495.3 453.2h5.0v5.0h-5.0zM495.5 450.9h5.0v5.0h-5.0zM495.7 457.0h5.0v5.0h-5.0zM495.9 465.2h5.0v5.0h-5.0zM496.1 459.0h5.0v5.0h-5.0zM496.3 444.8h5.0v5.0h-5.0zM496.5 449.4h5.0v5.0h-5.0zM496.7 449.3h5.0v5.0h-5.0zM496.9 458.1h5.0v5.0h-5.0zM497.1 455.6h5.0v5.0h-5.0zM497.3 457.1h5.0v5.0h-5.0zM497.5 464.4h5.0v5.0h-5.0zM497.7 451.6h5.0v5.0h-5.0zM497.9 451.5h5.0v5.0h-5.0zM498.1 465.3h5.0v5.0h-5.0zM498.3 457.4h5.0v5.0h-5.0zM498.5 451.9h5.0v5.0h-5.0zM498.7 445.8h5.0v5.0h-5.0zM498.9 448.3h5.0v5.0h-5.0zM499.1 443.8h5.0v5.0h-5.0zM499.3 456.1h5.0v5.0h-5.0zM499.5 456.0h5.0v5.0h-5.0zM499.7 460.7h5.0v5.0h-5.0zM499.9 455.1h5.0v5.0h-5.0zM500.1 452.4h5.0v5.0h-5.0zM500.3 452.2h5.0v5.0h-5.0zM500.5 465.2h5.0v5.0h-5.0zM500.7 447.2h5.0v5.0h-5.0zM500.9 456.7h5.0v5.0h-5.0zM501.1 456.0h5.0v5.0h-5.0zM501.3 458.9h5.0v5.0h-5.0zM501.5 453.9h5.0v5.0h-5.0zM501.7 458.3h5.0v5.0h-5.0zM501.9 459.9h5.0v5.0h-5.0zM502.1 455.2h5.0v5.0h-5.0zM502.3 453.7h5.0v5.0h-5.0zM502.5 455.0h5.0v5.0h-5.0zM502.7 451.2h5.0v5.0h-5.0zM502.9 454.9h5.0v5.0h-5.0zM503.1 454.4h5.0v5.0h-5.0zM503.3 457.0h5.0v5.0h-5.0zM503.5 462.5h5.0v5.0h-5.0zM503.7 462.3h5.0v5.0h-5.0zM503.9 453.8h5.0v5.0h-5.0zM504.1 458.9h5.0v5.0h-5.0zM504.3 457.4h5.0v5.0h-5.0zM504.5 459.7h5.0v5.0h-5.0zM504.7 456.1h5.0v5.0h-5.0zM504.9 457.3h5.0v5.0h-5.0zM505.1 453.7h5.0v5.0h-5.0zM505.3 452.1h5.0v5.0h-5.0zM505.5 460.2h5.0v5.0h-5.0zM505.7 462.3h5.0v5.0h-5.0zM505.9 459.2h5.0v5.0h-5.0zM506.1 458.1h5.0v5.0h-5.0zM506.3 457.3h5.0v5.0h-5.0zM506.5 453.8h5.0v5.0h-5.0zM506.7 447.2h5.0v5.0h-5.0zM506.9 459.2h5.0v5.0h-5.0zM507.1 457.0h5.0v5.0h-5.0zM507.3 453.3h5.0v5.0h-5.0zM507.5 451.3h5.0v5.0h-5.0zM507.7 462.3h5.0v5.0h-5.0zM507.9 447.2h5.0v5.0h-5.0zM508.1 464.7h5.0v5.0h-5.0zM508.3 459.2h5.0v5.0h-5.0zM508.5 467.6h5.0v5.0h-5.0zM508.7 452.5h5.0v5.0h-5.0zM508.9 455.9h5.0v5.0h-5.0zM509.1 453.5h5.0v5.0h-5.0zM509.3 456.8h5.0v5.0h-5.0zM509.5 455.0h5.0v5.0h-5.0zM509.7 452.4h5.0v5.0h-5.0zM509.9 461.3h5.0v5.0h-5.0zM510.1 452.2h5.0v5.0h-5.0zM510.3 453.5h5.0v5.0h-5.0zM510.5 458.8h5.0v5.0h-5.0zM510.7 453.4h5.0v5.0h-5.0zM510.9 453.9h5.0v5.0h-5.0zM511.1 457.8h5.0v5.0h-5.0zM511.3 454.2h5.0v5.0h-5.0zM511.5 449.9h5.0v5.0h-5.0zM511.7 455.5h5.0v5.0h-5.0zM511.9 455.0h5.0v5.0h-5.0zM512.1 464.4h5.0v5.0h-5.0zM512.3 450.7h5.0v5.0h-5.0zM512.5 460.8h5.0v5.0h-5.0zM512.7 452.2h5.0v5.0h-5.0zM512.9 454.3h5.0v5.0h-5.0zM513.1 454.5h5.0v5.0h-5.0zM513.3 457.4h5.0v5.0h-5.0zM513.5 460.3h5.0v5.0h-5.0zM513.7 464.6h5.0v5.0h-5.0zM513.9 452.9h5.0v5.0h-5.0zM514.1 462.6h5.0v5.0h-5.0zM514.3 460.9h5.0v5.0h-5.0zM514.5 460.0h5.0v5.0h-5.0zM514.7 452.3h5.0v5.0h-5.0zM514.9 460.5h5.0v5.0h-5.0zM515.1 455.5h5.0v5.0h-5.0zM515.3 457.8h5.0v5.0h-5.0zM515.5 454.7h5.0v5.0h-5.0zM515.7 459.3h5.0v5.0h-5.0zM515.9 461.5h5.0v5.0h-5.0zM516.1 461.6h5.0v5.0h-5.0zM516.3 455.1h5.0v5.0h-5.0zM516.5 460.9h5.0v5.0h-5.0zM516.7 463.2h5.0v5.0h-5.0zM516.9 451.5h5.0v5.0h-5.0zM517.1 463.3h5.0v5.0h-5.0zM517.3 449.5h5.0v5.0h-5.0zM517.5 458.7h5.0v5.0h-5.0zM517.7 459.0h5.0v5.0h-5.0zM517.9 463.3h5.0v5.0h-5.0zM518.1 457.4h5.0v5.0h-5.0zM518.3 453.7h5.0v5.0h-5.0zM518.5 452.2h5.0v5.0h-5.0zM518.7 449.9h5.0v5.0h-5.0zM518.9 459.8h5.0v5.0h-5.0zM519.1 454.9h5.0v5.0h-5.0zM519.3 452.6h5.0v5.0h-5.0zM519.5 458.7h5.0v5.0h-5.0zM519.7 452.3h5.0v5.0h-5.0zM519.9 453.9h5.0v5.0h-5.0zM520.1 453.8h5.0v5.0h-5.0zM520.3 464.2h5.0v5.0h-5.0zM520.5 463.2h5.0v5.0h-5.0zM520.7 455.3h5.0v5.0h-5.0zM520.9 448.4h5.0v5.0h-5.0zM521.1 457.4h5.0v5.0h-5.0zM521.3 456.4h5.0v5.0h-5.0zM521.5 457.8h5.0v5.0h-5.0zM521.7 458.8h5.0v5.0h-5.0zM521.9 454.5h5.0v5.0h-5.0zM522.1 460.6h5.0v5.0h-5.0zM522.3 460.2h5.0v5.0h-5.0zM522.5 457.1h5.0v5.0h-5.0zM522.7 454.1h5.0v5.0h-5.0zM522.9 453.7h5.0v5.0h-5.0zM523.1 459.5h5.0v5.0h-5.0zM523.3 450.7h5.0v5.0h-5.0zM523.5 455.3h5.0v5.0h-5.0zM523.7 452.4h5.0v5.0h-5.0zM523.9 449.2h5.0v5.0h-5.0zM524.1 459.0h5.0v5.0h-5.0zM524.3 456.0h5.0v5.0h-5.0zM524.5 456.3h5.0v5.0h-5.0zM524.7 460.4h5.0v5.0h-5.0zM524.9 448.8h5.0v5.0h-5.0zM525.1 455.7h5.0v5.0h-5.0zM525.3 457.5h5.0v5.0h-5.0zM525.5 460.2h5.0v5.0h-5.0zM525.7 450.8h5.0v5.0h-5.0zM525.9 459.6h5.0v5.0h-5.0zM526.1 457.2h5.0v5.0h-5.0zM526.3 462.7h5.0v5.0h-5.0zM526.5 461.7h5.0v5.0h-5.0zM526.7 458.8h5.0v5.0h-5.0zM526.9 466.6h5.0v5.0h-5.0zM527.1 456.1h5.0v5.0h-5.0zM527.3 454.0h5.0v5.0h-5.0zM527.5 454.4h5.0v5.0h-5.0zM527.7 451.5h5.0v5.0h-5.0zM527.9 455.9h5.0v5.0h-5.0zM528.1 446.9h5.0v5.0h-5.0zM528.3 455.7h5.0v5.0h-5.0zM528.5 458.2h5.0v5.0h-5.0zM528.7 460.9h5.0v5.0h-5.0zM528.9 454.4h5.0v5.0h-5.0zM529.1 462.9h5.0v5.0h-5.0zM529.3 452.9h5.0v5.0h-5.0zM529.5 455.4h5.0v5.0h-5.0zM529.7 446.9h5.0v5.0h-5.0zM529.9 452.3h5.0v5.0h-5.0zM530.1 452.2h5.0v5.0h-5.0zM530.3 463.2h5.0v5.0h-5.0zM530.5 458.6h5.0v5.0h-5.0zM530.7 450.8h5.0v5.0h-5.0zM530.9 458.6h5.0v5.0h-5.0zM531.1 458.4h5.0v5.0h-5.0zM531.3 454.9h5.0v5.0h-5.0zM531.5 456.2h5.0v5.0h-5.0zM531.7 454.6h5.0v5.0h-5.0zM531.9 453.5h5.0v5.0h-5.0zM532.1 447.6h5.0v5.0h-5.0zM532.3 455.6h5.0v5.0h-5.0zM532.5 462.2h5.0v5.0h-5.0zM532.7 462.9h5.0v5.0h-5.0zM532.9 454.7h5.0v5.0h-5.0zM533.1 452.5h5.0v5.0h-5.0zM533.3 455.0h5.0v5.0h-5.0zM533.5 460.4h5.0v5.0h-5.0zM533.7 457.7h5.0v5.0h-5.0zM533.9 453.3h5.0v5.0h-5.0zM534.1 457.8h5.0v5.0h-5.0zM534.3 455.1h5.0v5.0h-5.0zM534.5 458.5h5.0v5.0h-5.0zM534.7 454.1h5.0v5.0h-5.0zM534.9 449.0h5.0v5.0h-5.0zM535.1 456.3h5.0v5.0h-5.0zM535.3 459.7h5.0v5.0h-5.0zM535.5 450.8h5.0v5.0h-5.0zM535.7 455.5h5.0v5.0h-5.0zM535.9 460.2h5.0v5.0h-5.0zM536.1 454.3h5.0v5.0h-5.0zM536.3 452.9h5.0v5.0h-5.0zM536.5 465.8h5.0v5.0h-5.0zM536.7 460.0h5.0v5.0h-5.0zM536.9 461.0h5.0v5.0h-5.0zM537.1 451.5h5.0v5.0h-5.0zM537.3 463.8h5.0v5.0h-5.0zM537.5 448.1h5.0v5.0h-5.0zM537.7 453.6h5.0v5.0h-5.0zM537.9 459.6h5.0v5.0h-5.0zM538.1 462.4h5.0v5.0h-5.0zM538.3 451.6h5.0v5.0h-5.0zM538.5 452.9h5.0v5.0h-5.0zM538.7 457.0h5.0v5.0h-5.0zM538.9 446.8h5.0v5.0h-5.0zM539.1 459.1h5.0v5.0h-5.0zM539.3 458.7h5.0v5.0h-5.0zM539.5 453.9h5.0v5.0h-5.0zM539.7 458.6h5.0v5.0h-5.0zM539.9 459.7h5.0v5.0h-5.0zM540.1 457.5h5.0v5.0h-5.0zM540.3 458.5h5.0v5.0h-5.0zM540.5 463.2h5.0v5.0h-5.0zM540.7 453.8h5.0v5.0h-5.0zM540.9 456.8h5.0v5.0h-5.0zM541.1 453.5h5.0v5.0h-5.0zM541.3 460.9h5.0v5.0h-5.0zM541.5 454.1h5.0v5.0h-5.0zM541.7 458.3h5.0v5.0h-5.0zM541.9 456.7h5.0v5.0h-5.0zM542.1 456.3h5.0v5.0h-5.0zM542.3 464.2h5.0v5.0h-5.0zM542.5 455.6h5.0v5.0h-5.0zM542.7 462.8h5.0v5.0h-5.0zM542.9 459.9h5.0v5.0h-5.0zM543.1 462.3h5.0v5.0h-5.0zM543.3 455.2h5.0v5.0h-5.0zM543.5 460.4h5.0v5.0h-5.0zM543.7 459.6h5.0v5.0h-5.0zM543.9 453.1h5.0v5.0h-5.0zM544.1 457.3h5.0v5.0h-5.0zM544.3 455.4h5.0v5.0h-5.0zM544.5 455.8h5.0v5.0h-5.0zM544.7 462.2h5.0v5.0h-5.0zM544.9 452.6h5.0v5.0h-5.0zM545.1 448.0h5.0v5.0h-5.0zM545.3 447.8h5.0v5.0h-5.0zM545.5 453.9h5.0v5.0h-5.0zM545.7 452.9h5.0v5.0h-5.0zM545.9 456.1h5.0v5.0h-5.0zM546.1 458.7h5.0v5.0h-5.0zM546.3 464.3h5.0v5.0h-5.0zM546.5 457.5h5.0v5.0h-5.0zM546.7 458.2h5.0v5.0h-5.0zM546.9 452.5h5.0v5.0h-5.0zM547.1 458.7h5.0v5.0h-5.0zM547.3 462.4h5.0v5.0h-5.0zM547.5 462.3h5.0v5.0h-5.0zM547.7 446.7h5.0v5.0h-5.0zM547.9 460.2h5.0v5.0h-5.0zM548.1 463.5h5.0v5.0h-5.0zM548.3 459.9h5.0v5.0h-5.0zM548.5 448.9h5.0v5.0h-5.0zM548.7 454.5h5.0v5.0h-5.0zM548.9 458.8h5.0v5.0h-5.0zM549.1 457.9h5.0v5.0h-5.0zM549.3 452.1h5.0v5.0h-5.0zM549.5 451.8h5.0v5.0h-5.0zM549.7 460.5h5.0v5.0h-5.0zM549.9 449.7h5.0v5.0h-5.0zM550.1 462.7h5.0v5.0h-5.0zM550.3 456.1h5.0v5.0h-5.0zM550.5 457.4h5.0v5.0h-5.0zM550.7 449.7h5.0v5.0h-5.0zM550.9 453.2h5.0v5.0h-5.0zM551.1 459.2h5.0v5.0h-5.0zM551.3 449.0h5.0v5.0h-5.0zM551.5 465.7h5.0v5.0h-5.0zM551.7 449.3h5.0v5.0h-5.0zM551.9 450.2h5.0v5.0h-5.0zM552.1 456.2h5.0v5.0h-5.0zM552.3 458.2h5.0v5.0h-5.0zM552.5 459.4h5.0v5.0h-5.0zM552.7 454.2h5.0v5.0h-5.0zM552.9 455.0h5.0v5.0h-5.0zM553.1 454.8h5.0v5.0h-5.0zM553.3 453.2h5.0v5.0h-5.0zM553.5 443.8h5.0v5.0h-5.0zM553.7 460.5h5.0v5.0h-5.0zM553.9 457.1h5.0v5.0h-5.0zM554.1 456.7h5.0v5.0h-5.0zM554.3 453.0h5.0v5.0h-5.0zM554.5 457.1h5.0v5.0h-5.0zM554.7 455.9h5.0v5.0h-5.0zM554.9 455.6h5.0v5.0h-5.0zM555.1 461.1h5.0v5.0h-5.0zM555.3 447.8h5.0v5.0h-5.0zM555.5 457.1h5.0v5.0h-5.0zM555.7 450.9h5.0v5.0h-5.0zM555.9 454.4h5.0v5.0h-5.0zM556.1 463.0h5.0v5.0h-5.0zM556.3 450.8h5.0v5.0h-5.0zM556.5 455.5h5.0v5.0h-5.0zM556.7 453.1h5.0v5.0h-5.0zM556.9 460.4h5.0v5.0h-5.0zM557.1 451.3h5.0v5.0h-5.0zM557.3 448.0h5.0v5.0h-5.0zM557.5 458.3h5.0v5.0h-5.0zM557.7 454.2h5.0v5.0h-5.0zM557.9 454.4h5.0v5.0h-5.0zM558.1 461.0h5.0v5.0h-5.0zM558.3 451.7h5.0v5.0h-5.0zM558.5 454.1h5.0v5.0h-5.0zM558.7 456.6h5.0v5.0h-5.0zM558.9 457.9h5.0v5.0h-5.0zM559.1 453.5h5.0v5.0h-5.0zM559.3 460.8h5.0v5.0h-5.0zM559.5 466.5h5.0v5.0h-5.0zM559.7 454.0h5.0v5.0h-5.0zM559.9 464.7h5.0v5.0h-5.0zM560.1 446.0h5.0v5.0h-5.0zM560.3 462.5h5.0v5.0h-5.0zM560.5 454.3h5.0v5.0h-5.0zM560.7 456.5h5.0v5.0h-5.0zM560.9 454.3h5.0v5.0h-5.0zM561.1 452.9h5.0v5.0h-5.0zM561.3 449.9h5.0v5.0h-5.0zM561.5 454.0h5.0v5.0h-5.0zM561.7 462.0h5.0v5.0h-5.0zM561.9 461.2h5.0v5.0h-5.0zM562.1 454.2h5.0v5.0h-5.0zM562.3 453.4h5.0v5.0h-5.0zM562.5 452.6h5.0v5.0h-5.0zM562.7 450.2h5.0v5.0h-5.0zM562.9 464.4h5.0v5.0h-5.0zM563.1 459.0h5.0v5.0h-5.0zM563.3 456.4h5.0v5.0h-5.0zM563.5 453.5h5.0v5.0h-5.0zM563.7 451.0h5.0v5.0h-5.0zM563.9 462.1h5.0v5.0h-5.0zM564.1 459.5h5.0v5.0h-5.0zM564.3 451.4h5.0v5.0h-5.0zM564.5 460.5h5.0v5.0h-5.0zM564.7 450.6h5.0v5.0h-5.0zM564.9 458.9h5.0v5.0h-5.0zM565.1 451.3h5.0v5.0h-5.0zM565.3 453.9h5.0v5.0h-5.0zM565.5 458.2h5.0v5.0h-5.0zM565.7 457.9h5.0v5.0h-5.0zM565.9 460.6h5.0v5.0h-5.0zM566.1 451.9h5.0v5.0h-5.0zM566.3 463.3h5.0v5.0h-5.0zM566.5 462.2h5.0v5.0h-5.0zM566.7 455.8h5.0v5.0h-5.0zM566.9 458.0h5.0v5.0h-5.0zM567.1 452.2h5.0v5.0h-5.0zM567.3 455.1h5.0v5.0h-5.0zM567.5 449.6h5.0v5.0h-5.0zM567.7 456.2h5.0v5.0h-5.0zM567.9 456.8h5.0v5.0h-5.0zM568.1 462.1h5.0v5.0h-5.0zM568.3 460.3h5.0v5.0h-5.0zM568.5 459.6h5.0v5.0h-5.0zM568.7 454.1h5.0v5.0h-5.0zM568.9 454.7h5.0v5.0h-5.0zM569.1 454.2h5.0v5.0h-5.0zM569.3 456.8h5.0v5.0h-5.0zM569.5 446.7h5.0v5.0h-5.0zM569.7 459.4h5.0v5.0h-5.0zM569.9 448.4h5.0v5.0h-5.0zM570.1 453.4h5.0v5.0h-5.0zM570.3 455.9h5.0v5.0h-5.0zM570.5 453.4h5.0v5.0h-5.0zM570.7 463.6h5.0v5.0h-5.0zM570.9 455.3h5.0v5.0h-5.0zM571.1 463.2h5.0v5.0h-5.0zM571.3 461.3h5.0v5.0h-5.0zM571.5 453.4h5.0v5.0h-5.0zM571.7 457.7h5.0v5.0h-5.0zM571.9 461.9h5.0v5.0h-5.0zM572.1 454.2h5.0v5.0h-5.0zM572.3 456.2h5.0v5.0h-5.0zM572.5 453.1h5.0v5.0h-5.0zM572.7 456.0h5.0v5.0h-5.0zM572.9 454.1h5.0v5.0h-5.0zM573.1 456.1h5.0v5.0h-5.0zM573.3 460.5h5.0v5.0h-5.0zM573.5 462.3h5.0v5.0h-5.0zM573.7 456.4h5.0v5.0h-5.0zM573.9 456.7h5.0v5.0h-5.0zM574.1 459.8h5.0v5.0h-5.0zM574.3 454.4h5.0v5.0h-5.0zM574.5 450.7h5.0v5.0h-5.0zM574.7 461.0h5.0v5.0h-5.0zM574.9 451.3h5.0v5.0h-5.0zM575.1 460.1h5.0v5.0h-5.0zM575.3 451.2h5.0v5.0h-5.0zM575.5 464.3h5.0v5.0h-5.0zM575.7 450.8h5.0v5.0h-5.0zM575.9 459.7h5.0v5.0h-5.0zM576.1 462.8h5.0v5.0h-5.0zM576.3 451.2h5.0v5.0h-5.0zM576.5 462.7h5.0v5.0h-5.0zM576.7 451.8h5.0v5.0h-5.0zM576.9 447.4h5.0v5.0h-5.0zM577.1 459.1h5.0v5.0h-5.0zM577.3 459.0h5.0v5.0h-5.0zM577.5 454.7h5.0v5.0h-5.0zM577.7 443.8h5.0v5.0h-5.0zM577.9 455.4h5.0v5.0h-5.0zM578.1 454.2h5.0v5.0h-5.0zM578.3 453.9h5.0v5.0h-5.0zM578.5 454.3h5.0v5.0h-5.0zM578.7 447.2h5.0v5.0h-5.0zM578.9 453.0h5.0v5.0h-5.0zM579.1 464.1h5.0v5.0h-5.0zM579.3 462.9h5.0v5.0h-5.0zM579.5 453.9h5.0v5.0h-5.0zM579.7 452.3h5.0v5.0h-5.0zM579.9 457.5h5.0v5.0h-5.0zM580.1 460.6h5.0v5.0h-5.0zM580.3 459.0h5.0v5.0h-5.0zM580.5 450.1h5.0v5.0h-5.0zM580.7 456.4h5.0v5.0h-5.0zM580.9 456.3h5.0v5.0h-5.0zM581.1 462.4h5.0v5.0h-5.0zM581.3 461.2h5.0v5.0h-5.0zM581.5 458.1h5.0v5.0h-5.0zM581.7 461.3h5.0v5.0h-5.0zM581.9 453.7h5.0v5.0h-5.0zM582.1 462.8h5.0v5.0h-5.0zM582.3 453.6h5.0v5.0h-5.0zM582.5 457.5h5.0v5.0h-5.0zM582.7 459.9h5.0v5.0h-5.0zM582.9 451.3h5.0v5.0h-5.0zM583.1 452.3h5.0v5.0h-5.0zM583.3 447.3h5.0v5.0h-5.0zM583.5 456.3h5.0v5.0h-5.0zM583.7 455.3h5.0v5.0h-5.0zM583.9 454.0h5.0v5.0h-5.0zM584.1 457.9h5.0v5.0h-5.0zM584.3 445.6h5.0v5.0h-5.0zM584.5 455.4h5.0v5.0h-5.0zM584.7 456.0h5.0v5.0h-5.0zM584.9 454.3h5.0v5.0h-5.0zM585.1 459.3h5.0v5.0h-5.0zM585.3 463.8h5.0v5.0h-5.0zM585.5 453.4h5.0v5.0h-5.0zM585.7 451.1h5.0v5.0h-5.0zM585.9 452.7h5.0v5.0h-5.0zM586.1 456.0h5.0v5.0h-5.0zM586.3 458.3h5.0v5.0h-5.0zM586.5 451.5h5.0v5.0h-5.0zM586.7 460.2h5.0v5.0h-5.0zM586.9 450.7h5.0v5.0h-5.0zM587.1 459.4h5.0v5.0h-5.0zM587.3 457.5h5.0v5.0h-5.0zM587.5 457.7h5.0v5.0h-5.0zM587.7 465.6h5.0v5.0h-5.0zM587.9 454.2h5.0v5.0h-5.0zM588.1 454.7h5.0v5.0h-5.0zM588.3 457.7h5.0v5.0h-5.0zM588.5 459.5h5.0v5.0h-5.0zM588.7 449.1h5.0v5.0h-5.0zM588.9 456.7h5.0v5.0h-5.0zM589.1 452.0h5.0v5.0h-5.0zM589.3 458.4h5.0v5.0h-5.0zM589.5 461.9h5.0v5.0h-5.0zM589.7 455.7h5.0v5.0h-5.0zM589.9 454.9h5.0v5.0h-5.0zM590.1 456.3h5.0v5.0h-5.0zM590.3 441.5h5.0v5.0h-5.0zM590.5 459.0h5.0v5.0h-5.0zM590.7 458.1h5.0v5.0h-5.0zM590.9 456.2h5.0v5.0h-5.0zM591.1 453.5h5.0v5.0h-5.0zM591.3 451.9h5.0v5.0h-5.0zM591.5 454.5h5.0v5.0h-5.0zM591.7 461.1h5.0v5.0h-5.0zM591.9 454.9h5.0v5.0h-5.0zM592.1 461.7h5.0v5.0h-5.0zM592.3 443.2h5.0v5.0h-5.0zM592.5 453.2h5.0v5.0h-5.0zM592.7 456.6h5.0v5.0h-5.0zM592.9 455.3h5.0v5.0h-5.0zM593.1 447.5h5.0v5.0h-5.0zM593.3 452.2h5.0v5.0h-5.0zM593.5 461.2h5.0v5.0h-5.0zM593.7 449.2h5.0v5.0h-5.0zM593.9 450.7h5.0v5.0h-5.0zM594.1 450.1h5.0v5.0h-5.0zM594.3 452.7h5.0v5.0h-5.0zM594.5 458.3h5.0v5.0h-5.0zM594.7 458.1h5.0v5.0h-5.0zM594.9 445.7h5.0v5.0h-5.0zM595.1 462.2h5.0v5.0h-5.0zM595.3 452.5h5.0v5.0h-5.0zM595.5 452.5h5.0v5.0h-5.0zM595.7 463.1h5.0v5.0h-5.0zM595.9 454.9h5.0v5.0h-5.0zM596.1 449.4h5.0v5.0h-5.0zM596.3 452.2h5.0v5.0h-5.0zM596.5 451.8h5.0v5.0h-5.0zM596.7 450.5h5.0v5.0h-5.0zM596.9 453.7h5.0v5.0h-5.0zM597.1 459.4h5.0v5.0h-5.0zM597.3 456.9h5.0v5.0h-5.0zM597.5 448.7h5.0v5.0h-5.0zM597.7 468.3h5.0v5.0h-5.0zM597.9 450.5h5.0v5.0h-5.0zM598.1 455.7h5.0v5.0h-5.0zM598.3 455.3h5.0v5.0h-5.0zM598.5 458.8h5.0v5.0h-5.0zM598.7 453.6h5.0v5.0h-5.0zM598.9 457.3h5.0v5.0h-5.0zM599.1 465.1h5.0v5.0h-5.0zM599.3 455.6h5.0v5.0h-5.0zM599.5 450.0h5.0v5.0h-5.0zM599.7 456.7h5.0v5.0h-5.0zM599.9 451.3h5.0v5.0h-5.0zM600.1 453.4h5.0v5.0h-5.0zM600.3 456.0h5.0v5.0h-5.0zM600.5 456.7h5.0v5.0h-5.0zM600.7 453.8h5.0v5.0h-5.0zM600.9 459.1h5.0v5.0h-5.0zM601.1 454.2h5.0v5.0h-5.0zM601.3 448.9h5.0v5.0h-5.0zM601.5 459.2h5.0v5.0h-5.0zM601.7 453.3h5.0v5.0h-5.0zM601.9 460.8h5.0v5.0h-5.0zM602.1 451.9h5.0v5.0h-5.0zM602.3 457.7h5.0v5.0h-5.0zM602.5 456.5h5.0v5.0h-5.0zM602.7 442.3h5.0v5.0h-5.0zM602.9 448.0h5.0v5.0h-5.0zM603.1 449.7h5.0v5.0h-5.0zM603.3 461.6h5.0v5.0h-5.0zM603.5 446.1h5.0v5.0h-5.0zM603.7 459.3h5.0v5.0h-5.0zM603.9 460.1h5.0v5.0h-5.0zM604.1 457.3h5.0v5.0h-5.0zM604.3 458.1h5.0v5.0h-5.0zM604.5 452.6h5.0v5.0h-5.0zM604.7 454.9h5.0v5.0h-5.0zM604.9 456.0h5.0v5.0h-5.0zM605.1 456.9h5.0v5.0h-5.0zM605.3 458.2h5.0v5.0h-5.0zM605.5 453.9h5.0v5.0h-5.0zM605.7 451.6h5.0v5.0h-5.0zM605.9 452.2h5.0v5.0h-5.0zM606.1 456.8h5.0v5.0h-5.0zM606.3 447.0h5.0v5.0h-5.0zM606.5 448.9h5.0v5.0h-5.0zM606.7 452.9h5.0v5.0h-5.0zM606.9 452.2h5.0v5.0h-5.0zM607.1 453.5h5.0v5.0h-5.0zM607.3 442.2h5.0v5.0h-5.0zM607.5 453.2h5.0v5.0h-5.0zM607.7 453.6h5.0v5.0h-5.0zM607.9 458.4h5.0v5.0h-5.0zM608.1 445.4h5.0v5.0h-5.0zM608.3 453.3h5.0v5.0h-5.0zM608.5 457.0h5.0v5.0h-5.0zM608.7 457.0h5.0v5.0h-5.0zM608.9 460.4h5.0v5.0h-5.0zM609.1 459.7h5.0v5.0h-5.0zM609.3 449.7h5.0v5.0h-5.0zM609.5 457.7h5.0v5.0h-5.0zM609.7 453.1h5.0v5.0h-5.0zM609.9 450.9h5.0v5.0h-5.0zM610.1 461.9h5.0v5.0h-5.0zM610.3 451.7h5.0v5.0h-5.0zM610.5 450.6h5.0v5.0h-5.0zM610.7 452.7h5.0v5.0h-5.0zM610.9 450.6h5.0v5.0h-5.0zM611.1 459.3h5.0v5.0h-5.0zM611.3 456.4h5.0v5.0h-5.0zM611.5 461.2h5.0v5.0h-5.0zM611.7 456.5h5.0v5.0h-5.0zM611.9 451.6h5.0v5.0h-5.0zM612.1 459.5h5.0v5.0h-5.0zM612.3 451.4h5.0v5.0h-5.0zM612.5 452.3h5.0v5.0h-5.0zM612.7 453.7h5.0v5.0h-5.0zM612.9 454.6h5.0v5.0h-5.0zM613.1 460.1h5.0v5.0h-5.0zM613.3 451.6h5.0v5.0h-5.0zM613.5 456.1h5.0v5.0h-5.0zM613.7 454.3h5.0v5.0h-5.0zM613.9 448.4h5.0v5.0h-5.0zM614.1 449.2h5.0v5.0h-5.0zM614.3 453.3h5.0v5.0h-5.0zM614.5 456.2h5.0v5.0h-5.0zM614.7 455.8h5.0v5.0h-5.0zM614.9 456.6h5.0v5.0h-5.0zM615.1 454.5h5.0v5.0h-5.0zM615.3 452.1h5.0v5.0h-5.0zM615.5 456.3h5.0v5.0h-5.0zM615.7 449.5h5.0v5.0h-5.0zM615.9 447.9h5.0v5.0h-5.0zM616.1 452.6h5.0v5.0h-5.0zM616.3 447.4h5.0v5.0h-5.0zM616.5 451.7h5.0v5.0h-5.0zM616.7 450.6h5.0v5.0h-5.0zM616.9 451.5h5.0v5.0h-5.0zM617.1 453.9h5.0v5.0h-5.0zM617.3 450.3h5.0v5.0h-5.0zM617.5 452.1h5.0v5.0h-5.0zM617.7 445.9h5.0v5.0h-5.0zM617.9 454.7h5.0v5.0h-5.0zM618.1 449.8h5.0v5.0h-5.0zM618.3 455.9h5.0v5.0h-5.0zM618.5 440.6h5.0v5.0h-5.0zM618.7 450.2h5.0v5.0h-5.0zM618.9 455.1h5.0v5.0h-5.0zM619.1 442.3h5.0v5.0h-5.0zM619.3 452.2h5.0v5.0h-5.0zM619.5 454.3h5.0v5.0h-5.0zM619.7 454.3h5.0v5.0h-5.0zM619.9 446.7h5.0v5.0h-5.0zM620.1 454.9h5.0v5.0h-5.0zM620.3 454.5h5.0v5.0h-5.0zM620.5 449.1h5.0v5.0h-5.0zM620.7 457.3h5.0v5.0h-5.0zM620.9 453.5h5.0v5.0h-5.0zM621.1 453.8h5.0v5.0h-5.0zM621.3 451.5h5.0v5.0h-5.0zM621.5 456.2h5.0v5.0h-5.0zM621.7 454.1h5.0v5.0h-5.0zM621.9 459.0h5.0v5.0h-5.0zM622.1 455.7h5.0v5.0h-5.0zM622.3 450.6h5.0v5.0h-5.0zM622.5 452.4h5.0v5.0h-5.0zM622.7 457.8h5.0v5.0h-5.0zM622.9 451.7h5.0v5.0h-5.0zM623.1 455.2h5.0v5.0h-5.0zM623.3 455.9h5.0v5.0h-5.0zM623.5 452.5h5.0v5.0h-5.0zM623.7 442.3h5.0v5.0h-5.0zM623.9 453.9h5.0v5.0h-5.0zM624.1 454.3h5.0v5.0h-5.0zM624.3 453.9h5.0v5.0h-5.0zM624.5 449.6h5.0v5.0h-5.0zM624.7 458.9h5.0v5.0h-5.0zM624.9 452.5h5.0v5.0h-5.0zM625.1 450.1h5.0v5.0h-5.0zM625.3 449.7h5.0v5.0h-5.0zM625.5 454.8h5.0v5.0h-5.0zM625.7 447.8h5.0v5.0h-5.0zM625.9 448.2h5.0v5.0h-5.0zM626.1 462.5h5.0v5.0h-5.0zM626.3 459.1h5.0v5.0h-5.0zM626.5 457.9h5.0v5.0h-5.0zM626.7 459.3h5.0v5.0h-5.0zM626.9 455.6h5.0v5.0h-5.0zM627.1 444.7h5.0v5.0h-5.0zM627.3 458.4h5.0v5.0h-5.0zM627.5 458.6h5.0v5.0h-5.0zM627.7 455.0h5.0v5.0h-5.0zM627.9 443.3h5.0v5.0h-5.0zM628.1 458.5h5.0v5.0h-5.0zM628.3 459.0h5.0v5.0h-5.0zM628.5 450.1h5.0v5.0h-5.0zM628.7 453.0h5.0v5.0h-5.0zM628.9 456.1h5.0v5.0h-5.0zM629.1 451.9h5.0v5.0h-5.0zM629.3 457.5h5.0v5.0h-5.0zM629.5 452.6h5.0v5.0h-5.0zM629.7 455.5h5.0v5.0h-5.0zM629.9 452.5h5.0v5.0h-5.0zM630.1 445.0h5.0v5.0h-5.0zM630.3 447.3h5.0v5.0h-5.0zM630.5 467.1h5.0v5.0h-5.0zM630.7 453.3h5.0v5.0h-5.0zM630.9 458.1h5.0v5.0h-5.0zM631.1 457.3h5.0v5.0h-5.0zM631.3 460.0h5.0v5.0h-5.0zM631.5 454.4h5.0v5.0h-5.0zM631.7 448.8h5.0v5.0h-5.0zM631.9 451.7h5.0v5.0h-5.0zM632.1 442.3h5.0v5.0h-5.0zM632.3 450.6h5.0v5.0h-5.0zM632.5 455.7h5.0v5.0h-5.0zM632.7 441.0h5.0v5.0h-5.0zM632.9 452.2h5.0v5.0h-5.0zM633.1 455.1h5.0v5.0h-5.0zM633.3 457.5h5.0v5.0h-5.0zM633.5 446.6h5.0v5.0h-5.0zM633.7 447.9h5.0v5.0h-5.0zM633.9 441.9h5.0v5.0h-5.0zM634.1 446.0h5.0v5.0h-5.0zM634.3 453.3h5.0v5.0h-5.0zM634.5 460.6h5.0v5.0h-5.0zM634.7 445.1h5.0v5.0h-5.0zM634.9 457.2h5.0v5.0h-5.0zM635.1 452.5h5.0v5.0h-5.0zM635.3 448.0h5.0v5.0h-5.0zM635.5 460.8h5.0v5.0h-5.0zM635.7 438.1h5.0v5.0h-5.0zM635.9 449.8h5.0v5.0h-5.0zM636.1 451.1h5.0v5.0h-5.0zM636.3 460.2h5.0v5.0h-5.0zM636.5 458.5h5.0v5.0h-5.0zM636.7 460.6h5.0v5.0h-5.0zM636.9 450.3h5.0v5.0h-5.0zM637.1 454.3h5.0v5.0h-5.0zM637.3 456.0h5.0v5.0h-5.0zM637.5 451.8h5.0v5.0h-5.0zM637.7 451.0h5.0v5.0h-5.0zM637.9 448.3h5.0v5.0h-5.0zM638.1 447.1h5.0v5.0h-5.0zM638.3 443.0h5.0v5.0h-5.0zM638.5 458.2h5.0v5.0h-5.0zM638.7 446.5h5.0v5.0h-5.0zM638.9 438.6h5.0v5.0h-5.0zM639.1 449.7h5.0v5.0h-5.0zM639.3 448.2h5.0v5.0h-5.0zM639.5 449.1h5.0v5.0h-5.0zM639.7 456.8h5.0v5.0h-5.0zM639.9 447.4h5.0v5.0h-5.0zM640.1 446.5h5.0v5.0h-5.0zM640.3 444.1h5.0v5.0h-5.0zM640.5 447.4h5.0v5.0h-5.0zM640.7 445.3h5.0v5.0h-5.0zM640.9 448.3h5.0v5.0h-5.0zM641.1 462.2h5.0v5.0h-5.0zM641.3 448.9h5.0v5.0h-5.0zM641.5 442.7h5.0v5.0h-5.0zM641.7 456.0h5.0v5.0h-5.0zM641.9 450.7h5.0v5.0h-5.0zM642.1 450.3h5.0v5.0h-5.0zM642.3 449.6h5.0v5.0h-5.0zM642.5 450.0h5.0v5.0h-5.0zM642.7 449.1h5.0v5.0h-5.0zM642.9 452.5h5.0v5.0h-5.0zM643.1 450.3h5.0v5.0h-5.0zM643.3 451.8h5.0v5.0h-5.0zM643.5 442.6h5.0v5.0h-5.0zM643.7 444.9h5.0v5.0h-5.0zM643.9 441.1h5.0v5.0h-5.0zM644.1 449.1h5.0v5.0h-5.0zM644.3 448.3h5.0v5.0h-5.0zM644.5 441.8h5.0v5.0h-5.0zM644.7 446.7h5.0v5.0h-5.0zM644.9 456.4h5.0v5.0h-5.0zM645.1 449.4h5.0v5.0h-5.0zM645.3 437.7h5.0v5.0h-5.0zM645.5 442.5h5.0v5.0h-5.0zM645.7 445.8h5.0v5.0h-5.0zM645.9 442.3h5.0v5.0h-5.0zM646.1 444.1h5.0v5.0h-5.0zM646.3 447.7h5.0v5.0h-5.0zM646.5 443.3h5.0v5.0h-5.0zM646.7 436.0h5.0v5.0h-5.0zM646.9 444.6h5.0v5.0h-5.0zM647.1 440.4h5.0v5.0h-5.0zM647.3 441.1h5.0v5.0h-5.0zM647.5 437.5h5.0v5.0h-5.0zM647.7 433.2h5.0v5.0h-5.0zM647.9 433.5h5.0v5.0h-5.0zM648.1 437.6h5.0v5.0h-5.0zM648.3 433.7h5.0v5.0h-5.0zM648.5 425.3h5.0v5.0h-5.0zM648.7 443.9h5.0v5.0h-5.0zM648.9 432.2h5.0v5.0h-5.0zM649.1 434.0h5.0v5.0h-5.0zM649.3 439.8h5.0v5.0h-5.0zM649.5 425.0h5.0v5.0h-5.0zM649.7 443.1h5.0v5.0h-5.0zM649.9 432.3h5.0v5.0h-5.0zM650.1 438.9h5.0v5.0h-5.0zM650.3 432.9h5.0v5.0h-5.0zM650.5 436.3h5.0v5.0h-5.0zM650.7 434.9h5.0v5.0h-5.0zM650.9 433.9h5.0v5.0h-5.0zM651.1 424.4h5.0v5.0h-5.0zM651.3 425.7h5.0v5.0h-5.0zM651.5 432.3h5.0v5.0h-5.0zM651.7 439.0h5.0v5.0h-5.0zM651.9 428.8h5.0v5.0h-5.0zM652.1 433.6h5.0v5.0h-5.0zM652.3 431.2h5.0v5.0h-5.0zM652.5 432.3h5.0v5.0h-5.0zM652.7 434.2h5.0v5.0h-5.0zM652.9 421.2h5.0v5.0h-5.0zM653.1 429.5h5.0v5.0h-5.0zM653.3 426.6h5.0v5.0h-5.0zM653.5 425.3h5.0v5.0h-5.0zM653.7 421.9h5.0v5.0h-5.0zM653.9 421.6h5.0v5.0h-5.0zM654.1 419.7h5.0v5.0h-5.0zM654.3 418.6h5.0v5.0h-5.0zM654.5 436.0h5.0v5.0h-5.0zM654.7 431.2h5.0v5.0h-5.0zM654.9 421.9h5.0v5.0h-5.0zM655.1 424.8h5.0v5.0h-5.0zM655.3 415.3h5.0v5.0h-5.0zM655.5 405.3h5.0v5.0h-5.0zM655.7 409.2h5.0v5.0h-5.0zM655.9 418.3h5.0v5.0h-5.0zM656.1 423.9h5.0v5.0h-5.0zM656.3 415.5h5.0v5.0h-5.0zM656.5 409.6h5.0v5.0h-5.0zM656.7 412.4h5.0v5.0h-5.0zM656.9 407.5h5.0v5.0h-5.0zM657.1 404.4h5.0v5.0h-5.0zM657.3 409.2h5.0v5.0h-5.0zM657.5 407.2h5.0v5.0h-5.0zM657.7 403.8h5.0v5.0h-5.0zM657.9 402.2h5.0v5.0h-5.0zM658.1 400.7h5.0v5.0h-5.0zM658.3 405.4h5.0v5.0h-5.0zM658.5 410.0h5.0v5.0h-5.0zM658.7 400.3h5.0v5.0h-5.0zM658.9 411.6h5.0v5.0h-5.0zM659.1 390.0h5.0v5.0h-5.0zM659.3 398.3h5.0v5.0h-5.0zM659.5 389.2h5.0v5.0h-5.0zM659.7 392.8h5.0v5.0h-5.0zM659.9 392.5h5.0v5.0h-5.0zM660.1 393.1h5.0v5.0h-5.0zM660.3 394.3h5.0v5.0h-5.0zM660.5 383.5h5.0v5.0h-5.0zM660.7 377.9h5.0v5.0h-5.0zM660.9 381.5h5.0v5.0h-5.0zM661.1 382.1h5.0v5.0h-5.0zM661.3 374.6h5.0v5.0h-5.0zM661.5 381.0h5.0v5.0h-5.0zM661.7 383.1h5.0v5.0h-5.0zM661.9 364.0h5.0v5.0h-5.0zM662.1 371.3h5.0v5.0h-5.0zM662.3 372.5h5.0v5.0h-5.0zM662.5 354.0h5.0v5.0h-5.0zM662.7 363.1h5.0v5.0h-5.0zM662.9 358.2h5.0v5.0h-5.0zM663.1 349.0h5.0v5.0h-5.0zM663.3 361.6h5.0v5.0h-5.0zM663.5 352.8h5.0v5.0h-5.0zM663.7 346.3h5.0v5.0h-5.0zM663.9 348.8h5.0v5.0h-5.0zM664.1 347.2h5.0v5.0h-5.0zM664.3 345.3h5.0v5.0h-5.0zM664.5 341.6h5.0v5.0h-5.0zM664.7 338.0h5.0v5.0h-5.0zM664.9 326.4h5.0v5.0h-5.0zM665.1 328.2h5.0v5.0h-5.0zM665.3 328.9h5.0v5.0h-5.0zM665.5 309.8h5.0v5.0h-5.0zM665.7 336.0h5.0v5.0h-5.0zM665.9 319.3h5.0v5.0h-5.0zM666.1 313.4h5.0v5.0h-5.0zM666.3 307.1h5.0v5.0h-5.0zM666.5 317.5h5.0v5.0h-5.0zM666.7 314.8h5.0v5.0h-5.0zM666.9 310.0h5.0v5.0h-5.0zM667.1 309.9h5.0v5.0h-5.0zM667.3 306.3h5.0v5.0h-5.0zM667.5 306.5h5.0v5.0h-5.0zM667.7 309.9h5.0v5.0h-5.0zM667.9 306.5h5.0v5.0h-5.0zM668.1 314.4h5.0v5.0h-5.0zM668.3 309.8h5.0v5.0h-5.0zM668.5 311.9h5.0v5.0h-5.0zM668.7 314.2h5.0v5.0h-5.0zM668.9 320.2h5.0v5.0h-5.0zM669.1 317.3h5.0v5.0h-5.0zM669.3 316.3h5.0v5.0h-5.0zM669.5 315.4h5.0v5.0h-5.0zM669.7 313.1h5.0v5.0h-5.0zM669.9 317.4h5.0v5.0h-5.0zM670.1 325.1h5.0v5.0h-5.0zM670.3 324.2h5.0v5.0h-5.0zM670.5 322.5h5.0v5.0h-5.0zM670.7 319.0h5.0v5.0h-5.0zM670.9 319.8h5.0v5.0h-5.0zM671.1 332.5h5.0v5.0h-5.0zM671.3 338.5h5.0v5.0h-5.0zM671.5 336.7h5.0v5.0h-5.0zM671.7 328.8h5.0v5.0h-5.0zM671.9 337.4h5.0v5.0h-5.0zM672.1 341.8h5.0v5.0h-5.0zM672.3 337.3h5.0v5.0h-5.0zM672.5 346.3h5.0v5.0h-5.0zM672.7 345.1h5.0v5.0h-5.0zM672.9 343.3h5.0v5.0h-5.0zM673.1 342.8h5.0v5.0h-5.0zM673.3 356.0h5.0v5.0h-5.0zM673.5 355.1h5.0v5.0h-5.0zM673.7 349.8h5.0v5.0h-5.0zM673.9 350.6h5.0v5.0h-5.0zM674.1 362.6h5.0v5.0h-5.0zM674.3 362.4h5.0v5.0h-5.0zM674.5 358.8h5.0v5.0h-5.0zM674.7 370.5h5.0v5.0h-5.0zM674.9 361.5h5.0v5.0h-5.0zM675.1 358.5h5.0v5.0h-5.0zM675.3 371.3h5.0v5.0h-5.0zM675.5 365.4h5.0v5.0h-5.0zM675.7 369.4h5.0v5.0h-5.0zM675.9 368.7h5.0v5.0h-5.0zM676.1 364.0h5.0v5.0h-5.0zM676.3 363.9h5.0v5.0h-5.0zM676.5 370.1h5.0v5.0h-5.0zM676.7 379.6h5.0v5.0h-5.0zM676.9 367.4h5.0v5.0h-5.0zM677.1 380.8h5.0v5.0h-5.0zM677.3 375.4h5.0v5.0h-5.0zM677.5 368.9h5.0v5.0h-5.0zM677.7 376.9h5.0v5.0h-5.0zM677.9 379.1h5.0v5.0h-5.0zM678.1 371.8h5.0v5.0h-5.0zM678.3 365.7h5.0v5.0h-5.0zM678.5 379.5h5.0v5.0h-5.0zM678.7 372.1h5.0v5.0h-5.0zM678.9 380.8h5.0v5.0h-5.0zM679.1 368.6h5.0v5.0h-5.0zM679.3 378.5h5.0v5.0h-5.0zM679.5 375.3h5.0v5.0h-5.0zM679.7 372.0h5.0v5.0h-5.0zM679.9 378.9h5.0v5.0h-5.0zM680.1 381.4h5.0v5.0h-5.0zM680.3 377.8h5.0v5.0h-5.0zM680.5 374.7h5.0v5.0h-5.0zM680.7 382.4h5.0v5.0h-5.0zM680.9 372.1h5.0v5.0h-5.0zM681.1 384.5h5.0v5.0h-5.0zM681.3 384.4h5.0v5.0h-5.0zM681.5 390.9h5.0v5.0h-5.0zM681.7 386.8h5.0v5.0h-5.0zM681.9 384.1h5.0v5.0h-5.0zM682.1 383.8h5.0v5.0h-5.0zM682.3 382.6h5.0v5.0h-5.0zM682.5 375.5h5.0v5.0h-5.0zM682.7 390.4h5.0v5.0h-5.0zM682.9 385.5h5.0v5.0h-5.0zM683.1 381.3h5.0v5.0h-5.0zM683.3 376.8h5.0v5.0h-5.0zM683.5 390.8h5.0v5.0h-5.0zM683.7 385.8h5.0v5.0h-5.0zM683.9 376.7h5.0v5.0h-5.0zM684.1 386.6h5.0v5.0h-5.0zM684.3 393.1h5.0v5.0h-5.0zM684.5 383.0h5.0v5.0h-5.0zM684.7 385.2h5.0v5.0h-5.0zM684.9 380.9h5.0v5.0h-5.0zM685.1 379.8h5.0v5.0h-5.0zM685.3 388.8h5.0v5.0h-5.0zM685.5 399.4h5.0v5.0h-5.0zM685.7 383.7h5.0v5.0h-5.0zM685.9 382.4h5.0v5.0h-5.0zM686.1 387.2h5.0v5.0h-5.0zM686.3 381.4h5.0v5.0h-5.0zM686.5 386.9h5.0v5.0h-5.0zM686.7 387.4h5.0v5.0h-5.0zM686.9 377.6h5.0v5.0h-5.0zM687.1 377.3h5.0v5.0h-5.0zM687.3 382.5h5.0v5.0h-5.0zM687.5 387.3h5.0v5.0h-5.0zM687.7 384.3h5.0v5.0h-5.0zM687.9 389.4h5.0v5.0h-5.0zM688.1 375.5h5.0v5.0h-5.0zM688.3 385.4h5.0v5.0h-5.0zM688.5 379.5h5.0v5.0h-5.0zM688.7 383.3h5.0v5.0h-5.0zM688.9 384.4h5.0v5.0h-5.0zM689.1 377.6h5.0v5.0h-5.0zM689.3 381.5h5.0v5.0h-5.0zM689.5 376.5h5.0v5.0h-5.0zM689.7 384.0h5.0v5.0h-5.0zM689.9 378.1h5.0v5.0h-5.0zM690.1 380.0h5.0v5.0h-5.0zM690.3 383.7h5.0v5.0h-5.0zM690.5 379.1h5.0v5.0h-5.0zM690.7 388.6h5.0v5.0h-5.0zM690.9 379.2h5.0v5.0h-5.0zM691.1 387.0h5.0v5.0h-5.0zM691.3 384.0h5.0v5.0h-5.0zM691.5 377.1h5.0v5.0h-5.0zM691.7 381.4h5.0v5.0h-5.0zM691.9 378.2h5.0v5.0h-5.0zM692.1 380.7h5.0v5.0h-5.0zM692.3 381.2h5.0v5.0h-5.0zM692.5 392.2h5.0v5.0h-5.0zM692.7 380.4h5.0v5.0h-5.0zM692.9 391.0h5.0v5.0h-5.0zM693.1 385.1h5.0v5.0h-5.0zM693.3 375.9h5.0v5.0h-5.0zM693.5 370.6h5.0v5.0h-5.0zM693.7 386.4h5.0v5.0h-5.0zM693.9 372.4h5.0v5.0h-5.0zM694.1 386.7h5.0v5.0h-5.0zM694.3 388.4h5.0v5.0h-5.0zM694.5 385.1h5.0v5.0h-5.0zM694.7 382.0h5.0v5.0h-5.0zM694.9 381.9h5.0v5.0h-5.0zM695.1 384.7h5.0v5.0h-5.0zM695.3 381.8h5.0v5.0h-5.0zM695.5 380.6h5.0v5.0h-5.0zM695.7 381.6h5.0v5.0h-5.0zM695.9 389.8h5.0v5.0h-5.0zM696.1 380.5h5.0v5.0h-5.0zM696.3 385.9h5.0v5.0h-5.0zM696.5 377.9h5.0v5.0h-5.0zM696.7 380.3h5.0v5.0h-5.0zM696.9 377.0h5.0v5.0h-5.0zM697.1 383.3h5.0v5.0h-5.0zM697.3 388.1h5.0v5.0h-5.0zM697.5 386.2h5.0v5.0h-5.0zM697.7 382.2h5.0v5.0h-5.0zM697.9 388.1h5.0v5.0h-5.0zM698.1 383.2h5.0v5.0h-5.0zM698.3 387.2h5.0v5.0h-5.0zM698.5 386.8h5.0v5.0h-5.0zM698.7 388.4h5.0v5.0h-5.0zM698.9 372.7h5.0v5.0h-5.0zM699.1 379.1h5.0v5.0h-5.0zM699.3 390.1h5.0v5.0h-5.0zM699.5 385.7h5.0v5.0h-5.0zM699.7 398.2h5.0v5.0h-5.0zM699.9 385.4h5.0v5.0h-5.0zM700.1 384.0h5.0v5.0h-5.0zM700.3 394.9h5.0v5.0h-5.0zM700.5 390.2h5.0v5.0h-5.0zM700.7 397.4h5.0v5.0h-5.0zM700.9 390.4h5.0v5.0h-5.0zM701.1 386.9h5.0v5.0h-5.0zM701.3 392.0h5.0v5.0h-5.0zM701.5 384.3h5.0v5.0h-5.0zM701.7 386.3h5.0v5.0h-5.0zM701.9 386.0h5.0v5.0h-5.0zM702.1 388.0h5.0v5.0h-5.0zM702.3 393.5h5.0v5.0h-5.0zM702.5 387.2h5.0v5.0h-5.0zM702.7 391.6h5.0v5.0h-5.0zM702.9 387.6h5.0v5.0h-5.0zM703.1 395.1h5.0v5.0h-5.0zM703.3 376.4h5.0v5.0h-5.0zM703.5 390.0h5.0v5.0h-5.0zM703.7 392.2h5.0v5.0h-5.0zM703.9 386.0h5.0v5.0h-5.0zM704.1 397.2h5.0v5.0h-5.0zM704.3 393.4h5.0v5.0h-5.0zM704.5 399.2h5.0v5.0h-5.0zM704.7 397.8h5.0v5.0h-5.0zM704.9 396.5h5.0v5.0h-5.0zM705.1 392.7h5.0v5.0h-5.0zM705.3 388.2h5.0v5.0h-5.0zM705.5 393.0h5.0v5.0h-5.0zM705.7 392.1h5.0v5.0h-5.0zM705.9 396.1h5.0v5.0h-5.0zM706.1 392.7h5.0v5.0h-5.0zM706.3 411.3h5.0v5.0h-5.0zM706.5 387.5h5.0v5.0h-5.0zM706.7 402.2h5.0v5.0h-5.0zM706.9 394.1h5.0v5.0h-5.0zM707.1 395.6h5.0v5.0h-5.0zM707.3 402.0h5.0v5.0h-5.0zM707.5 397.6h5.0v5.0h-5.0zM707.7 391.7h5.0v5.0h-5.0zM707.9 400.4h5.0v5.0h-5.0zM708.1 397.6h5.0v5.0h-5.0zM708.3 388.4h5.0v5.0h-5.0zM708.5 400.4h5.0v5.0h-5.0zM708.7 394.3h5.0v5.0h-5.0zM708.9 396.3h5.0v5.0h-5.0zM709.1 403.0h5.0v5.0h-5.0zM709.3 402.4h5.0v5.0h-5.0zM709.5 399.8h5.0v5.0h-5.0zM709.7 412.7h5.0v5.0h-5.0zM709.9 404.2h5.0v5.0h-5.0zM710.1 399.3h5.0v5.0h-5.0zM710.3 404.0h5.0v5.0h-5.0zM710.5 402.6h5.0v5.0h-5.0zM710.7 392.3h5.0v5.0h-5.0zM710.9 395.9h5.0v5.0h-5.0zM711.1 397.3h5.0v5.0h-5.0zM711.3 415.3h5.0v5.0h-5.0zM711.5 404.2h5.0v5.0h-5.0zM711.7 404.1h5.0v5.0h-5.0zM711.9 403.1h5.0v5.0h-5.0zM712.1 411.3h5.0v5.0h-5.0zM712.3 406.9h5.0v5.0h-5.0zM712.5 415.8h5.0v5.0h-5.0zM712.7 411.6h5.0v5.0h-5.0zM712.9 416.3h5.0v5.0h-5.0zM713.1 407.8h5.0v5.0h-5.0zM713.3 410.7h5.0v5.0h-5.0zM713.5 407.0h5.0v5.0h-5.0zM713.7 408.7h5.0v5.0h-5.0zM713.9 401.3h5.0v5.0h-5.0zM714.1 407.5h5.0v5.0h-5.0zM714.3 406.0h5.0v5.0h-5.0zM714.5 407.9h5.0v5.0h-5.0zM714.7 417.8h5.0v5.0h-5.0zM714.9 413.4h5.0v5.0h-5.0zM715.1 418.6h5.0v5.0h-5.0zM715.3 417.2h5.0v5.0h-5.0zM715.5 417.9h5.0v5.0h-5.0zM715.7 418.7h5.0v5.0h-5.0zM715.9 411.0h5.0v5.0h-5.0zM716.1 418.5h5.0v5.0h-5.0zM716.3 413.3h5.0v5.0h-5.0zM716.5 412.6h5.0v5.0h-5.0zM716.7 421.7h5.0v5.0h-5.0zM716.9 427.0h5.0v5.0h-5.0zM717.1 411.6h5.0v5.0h-5.0zM717.3 425.6h5.0v5.0h-5.0zM717.5 421.5h5.0v5.0h-5.0zM717.7 413.5h5.0v5.0h-5.0zM717.9 419.5h5.0v5.0h-5.0zM718.1 420.4h5.0v5.0h-5.0zM718.3 420.8h5.0v5.0h-5.0zM718.5 417.5h5.0v5.0h-5.0zM718.7 413.3h5.0v5.0h-5.0zM718.9 420.3h5.0v5.0h-5.0zM719.1 424.8h5.0v5.0h-5.0zM719.3 424.8h5.0v5.0h-5.0zM719.5 424.6h5.0v5.0h-5.0zM719.7 427.2h5.0v5.0h-5.0zM719.9 417.1h5.0v5.0h-5.0zM720.1 422.2h5.0v5.0h-5.0zM720.3 424.5h5.0v5.0h-5.0zM720.5 428.2h5.0v5.0h-5.0zM720.7 424.4h5.0v5.0h-5.0zM720.9 426.6h5.0v5.0h-5.0zM721.1 425.0h5.0v5.0h-5.0zM721.3 435.1h5.0v5.0h-5.0zM721.5 414.3h5.0v5.0h-5.0zM721.7 425.4h5.0v5.0h-5.0zM721.9 438.1h5.0v5.0h-5.0zM722.1 427.4h5.0v5.0h-5.0zM722.3 417.6h5.0v5.0h-5.0zM722.5 427.6h5.0v5.0h-5.0zM722.7 420.3h5.0v5.0h-5.0zM722.9 424.3h5.0v5.0h-5.0zM723.1 429.1h5.0v5.0h-5.0zM723.3 436.8h5.0v5.0h-5.0zM723.5 431.0h5.0v5.0h-5.0zM723.7 432.4h5.0v5.0h-5.0zM723.9 434.4h5.0v5.0h-5.0zM724.1 430.8h5.0v5.0h-5.0zM724.3 425.9h5.0v5.0h-5.0zM724.5 430.0h5.0v5.0h-5.0zM724.7 432.5h5.0v5.0h-5.0zM724.9 429.8h5.0v5.0h-5.0zM725.1 428.2h5.0v5.0h-5.0zM725.3 430.1h5.0v5.0h-5.0zM725.5 424.8h5.0v5.0h-5.0zM725.7 427.5h5.0v5.0h-5.0zM725.9 432.3h5.0v5.0h-5.0zM726.1 431.3h5.0v5.0h-5.0zM726.3 433.6h5.0v5.0h-5.0zM726.5 440.6h5.0v5.0h-5.0zM726.7 435.5h5.0v5.0h-5.0zM726.9 434.2h5.0v5.0h-5.0zM727.1 429.0h5.0v5.0h-5.0zM727.3 429.7h5.0v5.0h-5.0zM727.5 437.1h5.0v5.0h-5.0zM727.7 431.3h5.0v5.0h-5.0zM727.9 438.0h5.0v5.0h-5.0zM728.1 430.9h5.0v5.0h-5.0zM728.3 437.1h5.0v5.0h-5.0zM728.5 436.4h5.0v5.0h-5.0zM728.7 441.9h5.0v5.0h-5.0zM728.9 435.4h5.0v5.0h-5.0zM729.1 435.8h5.0v5.0h-5.0zM729.3 439.1h5.0v5.0h-5.0zM729.5 438.4h5.0v5.0h-5.0zM729.7 446.6h5.0v5.0h-5.0zM729.9 437.4h5.0v5.0h-5.0zM730.1 436.4h5.0v5.0h-5.0zM730.3 437.7h5.0v5.0h-5.0zM730.5 441.8h5.0v5.0h-5.0zM730.7 440.9h5.0v5.0h-5.0zM730.9 443.3h5.0v5.0h-5.0zM731.1 433.5h5.0v5.0h-5.0zM731.3 452.4h5.0v5.0h-5.0zM731.5 449.6h5.0v5.0h-5.0zM731.7 440.8h5.0v5.0h-5.0zM731.9 435.4h5.0v5.0h-5.0zM732.1 442.2h5.0v5.0h-5.0zM732.3 443.7h5.0v5.0h-5.0zM732.5 431.2h5.0v5.0h-5.0zM732.7 442.2h5.0v5.0h-5.0zM732.9 435.2h5.0v5.0h-5.0zM733.1 444.8h5.0v5.0h-5.0zM733.3 449.5h5.0v5.0h-5.0zM733.5 448.0h5.0v5.0h-5.0zM733.7 436.0h5.0v5.0h-5.0zM733.9 450.1h5.0v5.0h-5.0zM734.1 448.0h5.0v5.0h-5.0zM734.3 442.1h5.0v5.0h-5.0zM734.5 446.5h5.0v5.0h-5.0zM734.7 451.6h5.0v5.0h-5.0zM734.9 442.9h5.0v5.0h-5.0zM735.1 444.6h5.0v5.0h-5.0zM735.3 442.2h5.0v5.0h-5.0zM735.5 450.6h5.0v5.0h-5.0zM735.7 434.9h5.0v5.0h-5.0zM735.9 452.2h5.0v5.0h-5.0zM736.1 441.0h5.0v5.0h-5.0zM736.3 450.2h5.0v5.0h-5.0zM736.5 438.2h5.0v5.0h-5.0zM736.7 441.7h5.0v5.0h-5.0zM736.9 443.5h5.0v5.0h-5.0zM737.1 450.5h5.0v5.0h-5.0zM737.3 438.9h5.0v5.0h-5.0zM737.5 449.7h5.0v5.0h-5.0zM737.7 444.0h5.0v5.0h-5.0zM737.9 453.1h5.0v5.0h-5.0zM738.1 445.8h5.0v5.0h-5.0zM738.3 449.8h5.0v5.0h-5.0zM738.5 446.8h5.0v5.0h-5.0zM738.7 456.3h5.0v5.0h-5.0zM738.9 446.2h5.0v5.0h-5.0zM739.1 447.9h5.0v5.0h-5.0zM739.3 457.7h5.0v5.0h-5.0zM739.5 448.7h5.0v5.0h-5.0zM739.7 451.8h5.0v5.0h-5.0zM739.9 445.1h5.0v5.0h-5.0zM740.1 449.7h5.0v5.0h-5.0zM740.3 438.1h5.0v5.0h-5.0zM740.5 449.5h5.0v5.0h-5.0zM740.7 446.1h5.0v5.0h-5.0zM740.9 442.1h5.0v5.0h-5.0zM741.1 442.7h5.0v5.0h-5.0zM741.3 455.0h5.0v5.0h-5.0zM540.8 178.5h3.0v3.0h-3.0zM447.1 140.0h3.0v3.0h-3.0zM446.8 143.0h3.0v3.0h-3.0zM485.0 84.5h3.0v3.0h-3.0zM484.8 92.0h3.0v3.0h-3.0zM485.1 96.0h3.0v3.0h-3.0zM668.7 22.5h3.0v3.0h-3.0zM669.1 26.0h3.0v3.0h-3.0zM668.4 29.5h3.0v3.0h-3.0zM668.9 33.0h3.0v3.0h-3.0zM535.9 417.0h5.0v5.0h-5.0zM446.0 404.0h5.0v5.0h-5.0zM483.8 385.5h5.0v5.0h-5.0zM667.3 297.5h5.0v5.0h-5.0zM667.8 302.5h5.0v5.0h-5.0z"/>
<path fill="none" stroke="#0000ff" stroke-width="2" stroke-linejoin="round" d="M50.80 507.00L51.30 507.00L51.80 507.00L52.30 507.00L52.80 507.00L53.30 507.00L53.80 507.00L54.30 507.00L54.80 507.00L55.30 507.00L55.80 507.00L56.30 507.00L56.80 507.00L57.30 507.00L57.80 507.00L58.30 507.00L58.80 507.00L59.30 507.00L59.80 507.00L60.30 507.00L60.80 507.00L61.30 507.00L61.80 507.00L62.30 507.00L62.80 507.00L63.30 507.00L63.80 507.00L64.30 507.00L64.80 507.00L65.30 507.00L65.80 507.00L66.30 507.00L66.80 506.99L67.30 506.99L67.80 506.99L68.30 506.99L68.80 506.99L69.30 506.99L69.80 506.99L70.30 506.99L70.80 506.99L71.30 506.99L71.80 506.99L72.30 506.99L72.80 506.99L73.30 506.99L73.80 506.99L74.30 506.99L74.80 506.99L75.30 506.99L75.80 506.99L76.30 506.99L76.80 506.99L77.30 506.99L77.80 506.99L78.30 506.99L78.80 506.99L79.30 506.99L79.80 506.99L80.30 506.99L80.80 506.99L81.30 506.99L81.80 506.99L82.30 506.99L82.80 506.99L83.30 506.99L83.80 506.99L84.30 506.99L84.80 506.99L85.30 506.99L85.80 506.99L86.30 506.99L86.80 506.99L87.30 506.99L87.80 506.98L88.30 506.98L88.80 506.98L89.30 506.98L89.80 506.98L90.30 506.98L90.80 506.98L91.30 506.98L91.80 506.98L92.30 506.98L92.80 506.98L93.30 506.98L93.80 506.97L94.30 506.97L94.80 506.97L95.30 506.97L95.80 506.97L96.30 506.97L96.80 506.97L97.30 506.96L97.80 506.96L98.30 506.96L98.80 506.96L99.30 506.96L99.80 506.95L100.30 506.95L100.80 506.95L101.30 506.94L101.80 506.94L102.30 506.93L102.80 506.93L103.30 506.92L103.80 506.92L104.30 506.91L104.80 506.90L105.30 506.89L105.80 506.88L106.30 506.87L106.80 506.85L107.30 506.83L107.80 506.80L108.30 506.76L108.80 506.70L109.30 506.60L109.80 506.45L110.30 506.21L110.80 505.84L111.30 505.31L111.80 504.58L112.30 503.63L112.80 502.50L113.30 501.23L113.80 499.93L114.30 498.76L114.80 497.90L115.30 497.51L115.80 497.68L116.30 498.37L116.80 499.44L117.30 500.70L117.80 502.00L118.30 503.20L118.80 504.22L119.30 505.04L119.80 505.65L120.30 506.08L120.80 506.37L121.30 506.55L121.80 506.67L122.30 506.74L122.80 506.79L123.30 506.82L123.80 506.84L124.30 506.86L124.80 506.87L125.30 506.89L125.80 506.90L126.30 506.91L126.80 506.91L127.30 506.92L127.80 506.93L128.30 506.93L128.80 506.94L129.30 506.94L129.80 506.94L130.30 506.95L130.80 506.95L131.30 506.95L131.80 506.96L132.30 506.96L132.80 506.96L133.30 506.96L133.80 506.97L134.30 506.97L134.80 506.97L135.30 506.97L135.80 506.97L136.30 506.97L136.80 506.97L137.30 506.98L137.80 506.98L138.30 506.98L138.80 506.98L139.30 506.98L139.80 506.98L140.30 506.98L140.80 506.98L141.30 506.98L141.80 506.98L142.30 506.98L142.80 506.98L143.30 506.98L143.80 506.99L144.30 506.99L144.80 506.99L145.30 506.99L145.80 506.99L146.30 506.99L146.80 506.99L147.30 506.99L147.80 506.99L148.30 506.99L148.80 506.99L149.30 506.99L149.80 506.99L150.30 506.99L150.80 506.99L151.30 506.99L151.80 506.99L152.30 506.99L152.80 506.99L153.30 506.99L153.80 506.99L154.30 506.99L154.80 506.99L155.30 506.99L155.80 506.99L156.30 506.99L156.80 506.99L157.30 506.99L157.80 506.99L158.30 506.99L158.80 506.99L159.30 506.99L159.80 506.99L160.30 506.99L160.80 506.99L161.30 506.99L161.80 506.99L162.30 506.99L162.80 506.99L163.30 506.99L163.80 506.99L164.30 507.00L164.80 507.00L165.30 507.00L165.80 507.00L166.30 507.00L166.80 507.00L167.30 507.00L167.80 507.00L168.30 507.00L168.80 507.00L169.30 507.00L169.80 507.00L170.30 507.00L170.80 507.00L171.30 507.00L171.80 507.00L172.30 507.00L172.80 507.00L173.30 507.00L173.80 507.00L174.30 507.00L174.80 507.00L175.30 507.00L175.80 507.00L176.30 507.00L176.80 507.00L177.30 507.00L177.80 507.00L178.30 507.00L178.80 507.00L179.30 507.00L179.80 507.00L180.30 507.00L180.80 507.00L181.30 507.00L181.80 507.00L182.30 507.00L182.80 507.00L183.30 507.00L183.80 507.00L184.30 507.00L184.80 507.00L185.30 507.00L185.80 507.00L186.30 507.00L186.80 507.00L187.30 507.00L187.80 507.00L188.30 507.00L188.80 507.00L189.30 507.00L189.80 507.00L190.30 507.00L190.80 507.00L191.30 507.00L191.80 507.00L192.30 507.00L192.80 507.00L193.30 507.00L193.80 507.00L194.30 507.00L194.80 507.00L195.30 507.00L195.80 507.00L196.30 507.00L196.80 507.00L197.30 507.00L197.80 507.00L198.30 507.00L198.80 507.00L199.30 507.00L199.80 507.00L200.30 507.00L200.80 507.00L201.30 507.00L201.80 507.00L202.30 507.00L202.80 507.00L203.30 507.00L203.80 507.00L204.30 507.00L204.80 507.00L205.30 507.00L205.80 507.00L206.30 507.00L206.80 507.00L207.30 507.00L207.80 507.00L208.30 507.00L208.80 507.00L209.30 507.00L209.80 507.00L210.30 507.00L210.80 507.00L211.30 507.00L211.80 507.00L212.30 507.00L212.80 507.00L213.30 507.00L213.80 507.00L214.30 507.00L214.80 507.00L215.30 507.00L215.80 507.00L216.30 507.00L216.80 507.00L217.30 507.00L217.80 507.00L218.30 507.00L218.80 507.00L219.30 507.00L219.80 507.00L220.30 507.00L220.80 507.00L221.30 507.00L221.80 507.00L222.30 507.00L222.80 507.00L223.30 507.00L223.80 507.00L224.30 507.00L224.80 507.00L225.30 507.00L225.80 507.00L226.30 507.00L226.80 507.00L227.30 507.00L227.80 507.00L228.30 507.00L228.80 507.00L229.30 507.00L229.80 507.00L230.30 507.00L230.80 507.00L231.30 507.00L231.80 507.00L232.30 507.00L232.80 507.00L233.30 507.00L233.80 507.00L234.30 507.00L234.80 507.00L235.30 507.00L235.80 507.00L236.30 507.00L236.80 507.00L237.30 507.00L237.80 507.00L238.30 507.00L238.80 507.00L239.30 507.00L239.80 507.00L240.30 507.00L240.80 507.00L241.30 507.00L241.80 507.00L242.30 507.00L242.80 507.00L243.30 507.00L243.80 507.00L244.30 507.00L244.80 507.00L245.30 507.00L245.80 507.00L246.30 507.00L246.80 507.00L247.30 507.00L247.80 507.00L248.30 507.00L248.80 507.00L249.30 507.00L249.80 507.00L250.30 507.00L250.80 507.00L251.30 507.00L251.80 507.00L252.30 507.00L252.80 507.00L253.30 507.00L253.80 507.00L254.30 507.00L254.80 507.00L255.30 507.00L255.80 507.00L256.30 507.00L256.80 507.00L257.30 507.00L257.80 507.00L258.30 507.00L258.80 507.00L259.30 507.00L259.80 507.00L260.30 507.00L260.80 507.00L261.30 507.00L261.80 507.00L262.30 507.00L262.80 507.00L263.30 507.00L263.80 507.00L264.30 507.00L264.80 507.00L265.30 507.00L265.80 507.00L266.30 507.00L266.80 507.00L267.30 507.00L267.80 507.00L268.30 507.00L268.80 507.00L269.30 507.00L269.80 507.00L270.30 507.00L270.80 507.00L271.30 507.00L271.80 507.00L272.30 507.00L272.80 507.00L273.30 507.00L273.80 507.00L274.30 507.00L274.80 507.00L275.30 507.00L275.80 507.00L276.30 507.00L276.80 507.00L277.30 507.00L277.80 507.00L278.30 507.00L278.80 507.00L279.30 507.00L279.80 507.00L280.30 507.00L280.80 507.00L281.30 507.00L281.80 507.00L282.30 507.00L282.80 507.00L283.30 507.00L283.80 507.00L284.30 507.00L284.80 507.00L285.30 507.00L285.80 507.00L286.30 507.00L286.80 507.00L287.30 507.00L287.80 507.00L288.30 507.00L288.80 507.00L289.30 507.00L289.80 507.00L290.30 507.00L290.80 507.00L291.30 507.00L291.80 507.00L292.30 507.00L292.80 507.00L293.30 507.00L293.80 507.00L294.30 507.00L294.80 507.00L295.30 507.00L295.80 507.00L296.30 507.00L296.80 507.00L297.30 507.00L297.80 507.00L298.30 507.00L298.80 507.00L299.30 507.00L299.80 507.00L300.30 507.00L300.80 507.00L301.30 507.00L301.80 507.00L302.30 507.00L302.80 507.00L303.30 507.00L303.80 507.00L304.30 507.00L304.80 507.00L305.30 507.00L305.80 507.00L306.30 507.00L306.80 507.00L307.30 507.00L307.80 507.00L308.30 507.00L308.80 507.00L309.30 507.00L309.80 507.00L310.30 507.00L310.80 507.00L311.30 507.00L311.80 507.00L312.30 507.00L312.80 507.00L313.30 507.00L313.80 507.00L314.30 507.00L314.80 507.00L315.30 507.00L315.80 507.00L316.30 507.00L316.80 507.00L317.30 507.00L317.80 507.00L318.30 507.00L318.80 507.00L319.30 507.00L319.80 507.00L320.30 507.00L320.80 507.00L321.30 507.00L321.80 507.00L322.30 507.00L322.80 507.00L323.30 507.00L323.80 507.00L324.30 507.00L324.80 507.00L325.30 507.00L325.80 507.00L326.30 507.00L326.80 507.00L327.30 507.00L327.80 507.00L328.30 507.00L328.80 507.00L329.30 507.00L329.80 507.00L330.30 507.00L330.80 507.00L331.30 507.00L331.80 507.00L332.30 507.00L332.80 507.00L333.30 507.00L333.80 507.00L334.30 507.00L334.80 507.00L335.30 507.00L335.80 507.00L336.30 507.00L336.80 507.00L337.30 507.00L337.80 507.00L338.30 507.00L338.80 507.00L339.30 507.00L339.80 507.00L340.30 507.00L340.80 507.00L341.30 507.00L341.80 507.00L342.30 507.00L342.80 507.00L343.30 507.00L343.80 507.00L344.30 507.00L344.80 507.00L345.30 507.00L345.80 507.00L346.30 507.00L346.80 507.00L347.30 507.00L347.80 507.00L348.30 507.00L348.80 507.00L349.30 507.00L349.80 507.00L350.30 507.00L350.80 507.00L351.30 507.00L351.80 507.00L352.30 507.00L352.80 507.00L353.30 507.00L353.80 507.00L354.30 507.00L354.80 507.00L355.30 507.00L355.80 507.00L356.30 507.00L356.80 507.00L357.30 507.00L357.80 507.00L358.30 507.00L358.80 507.00L359.30 507.00L359.80 507.00L360.30 507.00L360.80 507.00L361.30 507.00L361.80 507.00L362.30 507.00L362.80 507.00L363.30 507.00L363.80 507.00L364.30 507.00L364.80 507.00L365.30 507.00L365.80 507.00L366.30 507.00L366.80 507.00L367.30 507.00L367.80 507.00L368.30 507.00L368.80 507.00L369.30 507.00L369.80 507.00L370.30 507.00L370.80 507.00L371.30 507.00L371.80 507.00L372.30 507.00L372.80 507.00L373.30 507.00L373.80 507.00L374.30 507.00L374.80 507.00L375.30 507.00L375.80 507.00L376.30 507.00L376.80 507.00L377.30 507.00L377.80 507.00L378.30 507.00L378.80 507.00L379.30 507.00L379.80 507.00L380.30 507.00L380.80 507.00L381.30 507.00L381.80 507.00L382.30 507.00L382.80 507.00L383.30 507.00L383.80 507.00L384.30 507.00L384.80 507.00L385.30 507.00L385.80 507.00L386.30 507.00L386.80 507.00L387.30 507.00L387.80 507.00L388.30 507.00L388.80 507.00L389.30 507.00L389.80 507.00L390.30 507.00L390.80 507.00M50.80 506.91L51.30 506.91L51.80 506.91L52.30 506.91L52.80 506.91L53.30 506.91L53.80 506.91L54.30 506.91L54.80 506.91L55.30 506.91L55.80 506.90L56.30 506.90L56.80 506.90L57.30 506.90L57.80 506.90L58.30 506.90L58.80 506.90L59.30 506.90L59.80 506.90L60.30 506.89L60.80 506.89L61.30 506.89L61.80 506.89L62.30 506.89L62.80 506.89L63.30 506.89L63.80 506.89L64.30 506.88L64.80 506.88L65.30 506.88L65.80 506.88L66.30 506.88L66.80 506.88L67.30 506.88L67.80 506.88L68.30 506.87L68.80 506.87L69.30 506.87L69.80 506.87L70.30 506.87L70.80 506.87L71.30 506.86L71.80 506.86L72.30 506.86L72.80 506.86L73.30 506.86L73.80 506.86L74.30 506.85L74.80 506.85L75.30 506.85L75.80 506.85L76.30 506.85L76.80 506.84L77.30 506.84L77.80 506.84L78.30 506.84L78.80 506.84L79.30 506.83L79.80 506.83L80.30 506.83L80.80 506.83L81.30 506.82L81.80 506.82L82.30 506.82L82.80 506.82L83.30 506.81L83.80 506.81L84.30 506.81L84.80 506.81L85.30 506.80L85.80 506.80L86.30 506.80L86.80 506.79L87.30 506.79L87.80 506.79L88.30 506.78L88.80 506.78L89.30 506.78L89.80 506.77L90.30 506.77L90.80 506.77L91.30 506.76L91.80 506.76L92.30 506.75L92.80 506.75L93.30 506.75L93.80 506.74L94.30 506.74L94.80 506.73L95.30 506.73L95.80 506.72L96.30 506.72L96.80 506.71L97.30 506.71L97.80 506.70L98.30 506.70L98.80 506.69L99.30 506.69L99.80 506.68L100.30 506.68L100.80 506.67L101.30 506.66L101.80 506.66L102.30 506.65L102.80 506.64L103.30 506.64L103.80 506.63L104.30 506.62L104.80 506.61L105.30 506.60L105.80 506.60L106.30 506.59L106.80 506.58L107.30 506.57L107.80 506.56L108.30 506.55L108.80 506.54L109.30 506.53L109.80 506.52L110.30 506.51L110.80 506.50L111.30 506.48L111.80 506.47L112.30 506.46L112.80 506.45L113.30 506.43L113.80 506.42L114.30 506.40L114.80 506.39L115.30 506.37L115.80 506.36L116.30 506.34L116.80 506.32L117.30 506.30L117.80 506.28L118.30 506.26L118.80 506.24L119.30 506.22L119.80 506.20L120.30 506.17L120.80 506.15L121.30 506.12L121.80 506.09L122.30 506.06L122.80 506.03L123.30 506.00L123.80 505.97L124.30 505.94L124.80 505.90L125.30 505.86L125.80 505.82L126.30 505.78L126.80 505.73L127.30 505.68L127.80 505.63L128.30 505.57L128.80 505.52L129.30 505.45L129.80 505.38L130.30 505.31L130.80 505.23L131.30 505.14L131.80 505.04L132.30 504.93L132.80 504.82L133.30 504.68L133.80 504.54L134.30 504.37L134.80 504.19L135.30 503.98L135.80 503.75L136.30 503.49L136.80 503.20L137.30 502.87L137.80 502.50L138.30 502.09L138.80 501.63L139.30 501.12L139.80 500.55L140.30 499.93L140.80 499.24L141.30 498.48L141.80 497.66L142.30 496.76L142.80 495.80L143.30 494.76L143.80 493.66L144.30 492.49L144.80 491.25L145.30 489.97L145.80 488.63L146.30 487.25L146.80 485.86L147.30 484.45L147.80 483.05L148.30 481.67L148.80 480.36L149.30 479.12L149.80 478.00L150.30 477.01L150.80 476.19L151.30 475.57L151.80 475.17L152.30 475.00L152.80 475.08L153.30 475.39L153.80 475.92L154.30 476.66L154.80 477.58L155.30 478.66L155.80 479.85L156.30 481.14L156.80 482.49L157.30 483.88L157.80 485.29L158.30 486.70L158.80 488.08L159.30 489.44L159.80 490.74L160.30 492.00L160.80 493.20L161.30 494.33L161.80 495.39L162.30 496.38L162.80 497.31L163.30 498.16L163.80 498.94L164.30 499.66L164.80 500.31L165.30 500.90L165.80 501.43L166.30 501.91L166.80 502.34L167.30 502.73L167.80 503.07L168.30 503.38L168.80 503.65L169.30 503.89L169.80 504.11L170.30 504.30L170.80 504.47L171.30 504.63L171.80 504.76L172.30 504.89L172.80 505.00L173.30 505.10L173.80 505.19L174.30 505.28L174.80 505.35L175.30 505.43L175.80 505.49L176.30 505.55L176.80 505.61L177.30 505.66L177.80 505.71L178.30 505.76L178.80 505.80L179.30 505.84L179.80 505.88L180.30 505.92L180.80 505.96L181.30 505.99L181.80 506.02L182.30 506.05L182.80 506.08L183.30 506.11L183.80 506.14L184.30 506.16L184.80 506.19L185.30 506.21L185.80 506.23L186.30 506.25L186.80 506.27L187.30 506.29L187.80 506.31L188.30 506.33L188.80 506.35L189.30 506.37L189.80 506.38L190.30 506.40L190.80 506.41L191.30 506.43L191.80 506.44L192.30 506.45L192.80 506.47L193.30 506.48L193.80 506.49L194.30 506.50L194.80 506.51L195.30 506.53L195.80 506.54L196.30 506.55L196.80 506.56L197.30 506.57L197.80 506.57L198.30 506.58L198.80 506.59L199.30 506.60L199.80 506.61L200.30 506.62L200.80 506.62L201.30 506.63L201.80 506.64L202.30 506.65L202.80 506.65L203.30 506.66L203.80 506.67L204.30 506.67L204.80 506.68L205.30 506.68L205.80 506.69L206.30 506.70L206.80 506.70L207.30 506.71L207.80 506.71L208.30 506.72L208.80 506.72L209.30 506.73L209.80 506.73L210.30 506.74L210.80 506.74L211.30 506.74L211.80 506.75L212.30 506.75L212.80 506.76L213.30 506.76L213.80 506.76L214.30 506.77L214.80 506.77L215.30 506.78L215.80 506.78L216.30 506.78L216.80 506.79L217.30 506.79L217.80 506.79L218.30 506.80L218.80 506.80L219.30 506.80L219.80 506.80L220.30 506.81L220.80 506.81L221.30 506.81L221.80 506.82L222.30 506.82L222.80 506.82L223.30 506.82L223.80 506.83L224.30 506.83L224.80 506.83L225.30 506.83L225.80 506.83L226.30 506.84L226.80 506.84L227.30 506.84L227.80 506.84L228.30 506.85L228.80 506.85L229.30 506.85L229.80 506.85L230.30 506.85L230.80 506.85L231.30 506.86L231.80 506.86L232.30 506.86L232.80 506.86L233.30 506.86L233.80 506.87L234.30 506.87L234.80 506.87L235.30 506.87L235.80 506.87L236.30 506.87L236.80 506.87L237.30 506.88L237.80 506.88L238.30 506.88L238.80 506.88L239.30 506.88L239.80 506.88L240.30 506.88L240.80 506.89L241.30 506.89L241.80 506.89L242.30 506.89L242.80 506.89L243.30 506.89L243.80 506.89L244.30 506.89L244.80 506.90L245.30 506.90L245.80 506.90L246.30 506.90L246.80 506.90L247.30 506.90L247.80 506.90L248.30 506.90L248.80 506.90L249.30 506.90L249.80 506.91L250.30 506.91L250.80 506.91L251.30 506.91L251.80 506.91L252.30 506.91L252.80 506.91L253.30 506.91L253.80 506.91L254.30 506.91L254.80 506.91L255.30 506.92L255.80 506.92L256.30 506.92L256.80 506.92L257.30 506.92L257.80 506.92L258.30 506.92L258.80 506.92L259.30 506.92L259.80 506.92L260.30 506.92L260.80 506.92L261.30 506.92L261.80 506.93L262.30 506.93L262.80 506.93L263.30 506.93L263.80 506.93L264.30 506.93L264.80 506.93L265.30 506.93L265.80 506.93L266.30 506.93L266.80 506.93L267.30 506.93L267.80 506.93L268.30 506.93L268.80 506.93L269.30 506.93L269.80 506.93L270.30 506.94L270.80 506.94L271.30 506.94L271.80 506.94L272.30 506.94L272.80 506.94L273.30 506.94L273.80 506.94L274.30 506.94L274.80 506.94L275.30 506.94L275.80 506.94L276.30 506.94L276.80 506.94L277.30 506.94L277.80 506.94L278.30 506.94L278.80 506.94L279.30 506.94L279.80 506.94L280.30 506.95L280.80 506.95L281.30 506.95L281.80 506.95L282.30 506.95L282.80 506.95L283.30 506.95L283.80 506.95L284.30 506.95L284.80 506.95L285.30 506.95L285.80 506.95L286.30 506.95L286.80 506.95L287.30 506.95L287.80 506.95L288.30 506.95L288.80 506.95L289.30 506.95L289.80 506.95L290.30 506.95L290.80 506.95L291.30 506.95L291.80 506.95L292.30 506.95L292.80 506.95L293.30 506.95L293.80 506.96L294.30 506.96L294.80 506.96L295.30 506.96L295.80 506.96L296.30 506.96L296.80 506.96L297.30 506.96L297.80 506.96L298.30 506.96L298.80 506.96L299.30 506.96L299.80 506.96L300.30 506.96L300.80 506.96L301.30 506.96L301.80 506.96L302.30 506.96L302.80 506.96L303.30 506.96L303.80 506.96L304.30 506.96L304.80 506.96L305.30 506.96L305.80 506.96L306.30 506.96L306.80 506.96L307.30 506.96L307.80 506.96L308.30 506.96L308.80 506.96L309.30 506.96L309.80 506.96L310.30 506.96L310.80 506.96L311.30 506.96L311.80 506.96L312.30 506.96L312.80 506.97L313.30 506.97L313.80 506.97L314.30 506.97L314.80 506.97L315.30 506.97L315.80 506.97L316.30 506.97L316.80 506.97L317.30 506.97L317.80 506.97L318.30 506.97L318.80 506.97L319.30 506.97L319.80 506.97L320.30 506.97L320.80 506.97L321.30 506.97L321.80 506.97L322.30 506.97L322.80 506.97L323.30 506.97L323.80 506.97L324.30 506.97L324.80 506.97L325.30 506.97L325.80 506.97L326.30 506.97L326.80 506.97L327.30 506.97L327.80 506.97L328.30 506.97L328.80 506.97L329.30 506.97L329.80 506.97L330.30 506.97L330.80 506.97L331.30 506.97L331.80 506.97L332.30 506.97L332.80 506.97L333.30 506.97L333.80 506.97L334.30 506.97L334.80 506.97L335.30 506.97L335.80 506.97L336.30 506.97L336.80 506.97L337.30 506.97L337.80 506.97L338.30 506.97L338.80 506.97L339.30 506.97L339.80 506.97L340.30 506.97L340.80 506.97L341.30 506.97L341.80 506.97L342.30 506.98L342.80 506.98L343.30 506.98L343.80 506.98L344.30 506.98L344.80 506.98L345.30 506.98L345.80 506.98L346.30 506.98L346.80 506.98L347.30 506.98L347.80 506.98L348.30 506.98L348.80 506.98L349.30 506.98L349.80 506.98L350.30 506.98L350.80 506.98L351.30 506.98L351.80 506.98L352.30 506.98L352.80 506.98L353.30 506.98L353.80 506.98L354.30 506.98L354.80 506.98L355.30 506.98L355.80 506.98L356.30 506.98L356.80 506.98L357.30 506.98L357.80 506.98L358.30 506.98L358.80 506.98L359.30 506.98L359.80 506.98L360.30 506.98L360.80 506.98L361.30 506.98L361.80 506.98L362.30 506.98L362.80 506.98L363.30 506.98L363.80 506.98L364.30 506.98L364.80 506.98L365.30 506.98L365.80 506.98L366.30 506.98L366.80 506.98L367.30 506.98L367.80 506.98L368.30 506.98L368.80 506.98L369.30 506.98L369.80 506.98L370.30 506.98L370.80 506.98L371.30 506.98L371.80 506.98L372.30 506.98L372.80 506.98L373.30 506.98L373.80 506.98L374.30 506.98L374.80 506.98L375.30 506.98L375.80 506.98L376.30 506.98L376.80 506.98L377.30 506.98L377.80 506.98L378.30 506.98L378.80 506.98L379.30 506.98L379.80 506.98L380.30 506.98L380.80 506.98L381.30 506.98L381.80 506.98L382.30 506.98L382.80 506.98L383.30 506.98L383.80 506.98L384.30 506.98L384.80 506.98L385.30 506.98L385.80 506.98L386.30 506.98L386.80 506.98L387.30 506.98L387.80 506.98L388.30 506.98L388.80 506.98L389.30 506.98L389.80 506.98L390.30 506.98L390.80 506.98M50.80 506.93L51.30 506.93L51.80 506.93L52.30 506.93L52.80 506.93L53.30 506.93L53.80 506.93L54.30 506.93L54.80 506.93L55.30 506.93L55.80 506.93L56.30 506.93L56.80 506.93L57.30 506.93L57.80 506.93L58.30 506.93L58.80 506.92L59.30 506.92L59.80 506.92L60.30 506.92L60.80 506.92L61.30 506.92L61.80 506.92L62.30 506.92L62.80 506.92L63.30 506.92L63.80 506.92L64.30 506.92L64.80 506.92L65.30 506.92L65.80 506.92L66.30 506.91L66.80 506.91L67.30 506.91L67.80 506.91L68.30 506.91L68.80 506.91L69.30 506.91L69.80 506.91L70.30 506.91L70.80 506.91L71.30 506.91L71.80 506.91L72.30 506.91L72.80 506.90L73.30 506.90L73.80 506.90L74.30 506.90L74.80 506.90L75.30 506.90L75.80 506.90L76.30 506.90L76.80 506.90L77.30 506.90L77.80 506.90L78.30 506.89L78.80 506.89L79.30 506.89L79.80 506.89L80.30 506.89L80.80 506.89L81.30 506.89L81.80 506.89L82.30 506.89L82.80 506.88L83.30 506.88L83.80 506.88L84.30 506.88L84.80 506.88L85.30 506.88L85.80 506.88L86.30 506.88L86.80 506.87L87.30 506.87L87.80 506.87L88.30 506.87L88.80 506.87L89.30 506.87L89.80 506.87L90.30 506.87L90.80 506.86L91.30 506.86L91.80 506.86L92.30 506.86L92.80 506.86L93.30 506.86L93.80 506.85L94.30 506.85L94.80 506.85L95.30 506.85L95.80 506.85L96.30 506.85L96.80 506.84L97.30 506.84L97.80 506.84L98.30 506.84L98.80 506.84L99.30 506.83L99.80 506.83L100.30 506.83L100.80 506.83L101.30 506.83L101.80 506.82L102.30 506.82L102.80 506.82L103.30 506.82L103.80 506.82L104.30 506.81L104.80 506.81L105.30 506.81L105.80 506.81L106.30 506.80L106.80 506.80L107.30 506.80L107.80 506.80L108.30 506.79L108.80 506.79L109.30 506.79L109.80 506.78L110.30 506.78L110.80 506.78L111.30 506.77L111.80 506.77L112.30 506.77L112.80 506.77L113.30 506.76L113.80 506.76L114.30 506.75L114.80 506.75L115.30 506.75L115.80 506.74L116.30 506.74L116.80 506.74L117.30 506.73L117.80 506.73L118.30 506.72L118.80 506.72L119.30 506.71L119.80 506.71L120.30 506.71L120.80 506.70L121.30 506.70L121.80 506.69L122.30 506.69L122.80 506.68L123.30 506.68L123.80 506.67L124.30 506.66L124.80 506.66L125.30 506.65L125.80 506.65L126.30 506.64L126.80 506.63L127.30 506.63L127.80 506.62L128.30 506.61L128.80 506.61L129.30 506.60L129.80 506.59L130.30 506.58L130.80 506.58L131.30 506.57L131.80 506.56L132.30 506.55L132.80 506.54L133.30 506.53L133.80 506.52L134.30 506.51L134.80 506.50L135.30 506.49L135.80 506.48L136.30 506.47L136.80 506.46L137.30 506.45L137.80 506.44L138.30 506.42L138.80 506.41L139.30 506.40L139.80 506.38L140.30 506.37L140.80 506.35L141.30 506.34L141.80 506.32L142.30 506.31L142.80 506.29L143.30 506.27L143.80 506.25L144.30 506.23L144.80 506.21L145.30 506.19L145.80 506.17L146.30 506.15L146.80 506.13L147.30 506.10L147.80 506.08L148.30 506.05L148.80 506.02L149.30 505.99L149.80 505.96L150.30 505.93L150.80 505.90L151.30 505.87L151.80 505.83L152.30 505.79L152.80 505.75L153.30 505.71L153.80 505.67L154.30 505.63L154.80 505.58L155.30 505.53L155.80 505.48L156.30 505.42L156.80 505.36L157.30 505.30L157.80 505.23L158.30 505.16L158.80 505.09L159.30 505.01L159.80 504.93L160.30 504.84L160.80 504.74L161.30 504.64L161.80 504.53L162.30 504.41L162.80 504.28L163.30 504.13L163.80 503.97L164.30 503.80L164.80 503.60L165.30 503.38L165.80 503.13L166.30 502.85L166.80 502.53L167.30 502.17L167.80 501.76L168.30 501.28L168.80 500.74L169.30 500.12L169.80 499.41L170.30 498.60L170.80 497.69L171.30 496.65L171.80 495.49L172.30 494.19L172.80 492.73L173.30 491.13L173.80 489.37L174.30 487.44L174.80 485.36L175.30 483.12L175.80 480.74L176.30 478.23L176.80 475.60L177.30 472.90L177.80 470.14L178.30 467.37L178.80 464.65L179.30 462.03L179.80 459.58L180.30 457.38L180.80 455.51L181.30 454.03L181.80 453.03L182.30 452.54L182.80 452.60L183.30 453.19L183.80 454.29L184.30 455.85L184.80 457.80L185.30 460.05L185.80 462.54L186.30 465.19L186.80 467.93L187.30 470.69L187.80 473.44L188.30 476.14L188.80 478.74L189.30 481.23L189.80 483.58L190.30 485.79L190.80 487.84L191.30 489.73L191.80 491.46L192.30 493.04L192.80 494.46L193.30 495.73L193.80 496.87L194.30 497.88L194.80 498.77L195.30 499.56L195.80 500.25L196.30 500.85L196.80 501.38L197.30 501.84L197.80 502.25L198.30 502.60L198.80 502.91L199.30 503.19L199.80 503.43L200.30 503.64L200.80 503.84L201.30 504.01L201.80 504.16L202.30 504.31L202.80 504.43L203.30 504.55L203.80 504.66L204.30 504.76L204.80 504.86L205.30 504.95L205.80 505.03L206.30 505.11L206.80 505.18L207.30 505.25L207.80 505.31L208.30 505.37L208.80 505.43L209.30 505.49L209.80 505.54L210.30 505.59L210.80 505.63L211.30 505.68L211.80 505.72L212.30 505.76L212.80 505.80L213.30 505.84L213.80 505.87L214.30 505.91L214.80 505.94L215.30 505.97L215.80 506.00L216.30 506.03L216.80 506.06L217.30 506.08L217.80 506.11L218.30 506.13L218.80 506.15L219.30 506.18L219.80 506.20L220.30 506.22L220.80 506.24L221.30 506.26L221.80 506.27L222.30 506.29L222.80 506.31L223.30 506.33L223.80 506.34L224.30 506.36L224.80 506.37L225.30 506.39L225.80 506.40L226.30 506.41L226.80 506.43L227.30 506.44L227.80 506.45L228.30 506.46L228.80 506.47L229.30 506.48L229.80 506.49L230.30 506.51L230.80 506.52L231.30 506.52L231.80 506.53L232.30 506.54L232.80 506.55L233.30 506.56L233.80 506.57L234.30 506.58L234.80 506.59L235.30 506.59L235.80 506.60L236.30 506.61L236.80 506.62L237.30 506.62L237.80 506.63L238.30 506.64L238.80 506.64L239.30 506.65L239.80 506.65L240.30 506.66L240.80 506.67L241.30 506.67L241.80 506.68L242.30 506.68L242.80 506.69L243.30 506.69L243.80 506.70L244.30 506.70L244.80 506.71L245.30 506.71L245.80 506.72L246.30 506.72L246.80 506.72L247.30 506.73L247.80 506.73L248.30 506.74L248.80 506.74L249.30 506.74L249.80 506.75L250.30 506.75L250.80 506.76L251.30 506.76L251.80 506.76L252.30 506.77L252.80 506.77L253.30 506.77L253.80 506.78L254.30 506.78L254.80 506.78L255.30 506.78L255.80 506.79L256.30 506.79L256.80 506.79L257.30 506.80L257.80 506.80L258.30 506.80L258.80 506.80L259.30 506.81L259.80 506.81L260.30 506.81L260.80 506.81L261.30 506.82L261.80 506.82L262.30 506.82L262.80 506.82L263.30 506.82L263.80 506.83L264.30 506.83L264.80 506.83L265.30 506.83L265.80 506.84L266.30 506.84L266.80 506.84L267.30 506.84L267.80 506.84L268.30 506.84L268.80 506.85L269.30 506.85L269.80 506.85L270.30 506.85L270.80 506.85L271.30 506.85L271.80 506.86L272.30 506.86L272.80 506.86L273.30 506.86L273.80 506.86L274.30 506.86L274.80 506.87L275.30 506.87L275.80 506.87L276.30 506.87L276.80 506.87L277.30 506.87L277.80 506.87L278.30 506.88L278.80 506.88L279.30 506.88L279.80 506.88L280.30 506.88L280.80 506.88L281.30 506.88L281.80 506.88L282.30 506.88L282.80 506.89L283.30 506.89L283.80 506.89L284.30 506.89L284.80 506.89L285.30 506.89L285.80 506.89L286.30 506.89L286.80 506.89L287.30 506.90L287.80 506.90L288.30 506.90L288.80 506.90L289.30 506.90L289.80 506.90L290.30 506.90L290.80 506.90L291.30 506.90L291.80 506.90L292.30 506.90L292.80 506.91L293.30 506.91L293.80 506.91L294.30 506.91L294.80 506.91L295.30 506.91L295.80 506.91L296.30 506.91L296.80 506.91L297.30 506.91L297.80 506.91L298.30 506.91L298.80 506.92L299.30 506.92L299.80 506.92L300.30 506.92L300.80 506.92L301.30 506.92L301.80 506.92L302.30 506.92L302.80 506.92L303.30 506.92L303.80 506.92L304.30 506.92L304.80 506.92L305.30 506.92L305.80 506.92L306.30 506.93L306.80 506.93L307.30 506.93L307.80 506.93L308.30 506.93L308.80 506.93L309.30 506.93L309.80 506.93L310.30 506.93L310.80 506.93L311.30 506.93L311.80 506.93L312.30 506.93L312.80 506.93L313.30 506.93L313.80 506.93L314.30 506.93L314.80 506.93L315.30 506.93L315.80 506.94L316.30 506.94L316.80 506.94L317.30 506.94L317.80 506.94L318.30 506.94L318.80 506.94L319.30 506.94L319.80 506.94L320.30 506.94L320.80 506.94L321.30 506.94L321.80 506.94L322.30 506.94L322.80 506.94L323.30 506.94L323.80 506.94L324.30 506.94L324.80 506.94L325.30 506.94L325.80 506.94L326.30 506.94L326.80 506.94L327.30 506.95L327.80 506.95L328.30 506.95L328.80 506.95L329.30 506.95L329.80 506.95L330.30 506.95L330.80 506.95L331.30 506.95L331.80 506.95L332.30 506.95L332.80 506.95L333.30 506.95L333.80 506.95L334.30 506.95L334.80 506.95L335.30 506.95L335.80 506.95L336.30 506.95L336.80 506.95L337.30 506.95L337.80 506.95L338.30 506.95L338.80 506.95L339.30 506.95L339.80 506.95L340.30 506.95L340.80 506.95L341.30 506.95L341.80 506.95L342.30 506.95L342.80 506.96L343.30 506.96L343.80 506.96L344.30 506.96L344.80 506.96L345.30 506.96L345.80 506.96L346.30 506.96L346.80 506.96L347.30 506.96L347.80 506.96L348.30 506.96L348.80 506.96L349.30 506.96L349.80 506.96L350.30 506.96L350.80 506.96L351.30 506.96L351.80 506.96L352.30 506.96L352.80 506.96L353.30 506.96L353.80 506.96L354.30 506.96L354.80 506.96L355.30 506.96L355.80 506.96L356.30 506.96L356.80 506.96L357.30 506.96L357.80 506.96L358.30 506.96L358.80 506.96L359.30 506.96L359.80 506.96L360.30 506.96L360.80 506.96L361.30 506.96L361.80 506.96L362.30 506.96L362.80 506.96L363.30 506.96L363.80 506.97L364.30 506.97L364.80 506.97L365.30 506.97L365.80 506.97L366.30 506.97L366.80 506.97L367.30 506.97L367.80 506.97L368.30 506.97L368.80 506.97L369.30 506.97L369.80 506.97L370.30 506.97L370.80 506.97L371.30 506.97L371.80 506.97L372.30 506.97L372.80 506.97L373.30 506.97L373.80 506.97L374.30 506.97L374.80 506.97L375.30 506.97L375.80 506.97L376.30 506.97L376.80 506.97L377.30 506.97L377.80 506.97L378.30 506.97L378.80 506.97L379.30 506.97L379.80 506.97L380.30 506.97L380.80 506.97L381.30 506.97L381.80 506.97L382.30 506.97L382.80 506.97L383.30 506.97L383.80 506.97L384.30 506.97L384.80 506.97L385.30 506.97L385.80 506.97L386.30 506.97L386.80 506.97L387.30 506.97L387.80 506.97L388.30 506.97L388.80 506.97L389.30 506.97L389.80 506.97L390.30 506.97L390.80 506.97M50.80 506.94L51.30 506.94L51.80 506.94L52.30 506.94L52.80 506.94L53.30 506.94L53.80 506.94L54.30 506.94L54.80 506.94L55.30 506.94L55.80 506.94L56.30 506.94L56.80 506.94L57.30 506.94L57.80 506.94L58.30 506.93L58.80 506.93L59.30 506.93L59.80 506.93L60.30 506.93L60.80 506.93L61.30 506.93L61.80 506.93L62.30 506.93L62.80 506.93L63.30 506.93L63.80 506.93L64.30 506.93L64.80 506.93L65.30 506.93L65.80 506.93L66.30 506.93L66.80 506.93L67.30 506.93L67.80 506.92L68.30 506.92L68.80 506.92L69.30 506.92L69.80 506.92L70.30 506.92L70.80 506.92L71.30 506.92L71.80 506.92L72.30 506.92L72.80 506.92L73.30 506.92L73.80 506.92L74.30 506.92L74.80 506.92L75.30 506.91L75.80 506.91L76.30 506.91L76.80 506.91L77.30 506.91L77.80 506.91L78.30 506.91L78.80 506.91L79.30 506.91L79.80 506.91L80.30 506.91L80.80 506.91L81.30 506.91L81.80 506.90L82.30 506.90L82.80 506.90L83.30 506.90L83.80 506.90L84.30 506.90L84.80 506.90L85.30 506.90L85.80 506.90L86.30 506.90L86.80 506.90L87.30 506.89L87.80 506.89L88.30 506.89L88.80 506.89L89.30 506.89L89.80 506.89L90.30 506.89L90.80 506.89L91.30 506.89L91.80 506.88L92.30 506.88L92.80 506.88L93.30 506.88L93.80 506.88L94.30 506.88L94.80 506.88L95.30 506.88L95.80 506.87L96.30 506.87L96.80 506.87L97.30 506.87L97.80 506.87L98.30 506.87L98.80 506.87L99.30 506.87L99.80 506.86L100.30 506.86L100.80 506.86L101.30 506.86L101.80 506.86L102.30 506.86L102.80 506.85L103.30 506.85L103.80 506.85L104.30 506.85L104.80 506.85L105.30 506.85L105.80 506.84L106.30 506.84L106.80 506.84L107.30 506.84L107.80 506.84L108.30 506.83L108.80 506.83L109.30 506.83L109.80 506.83L110.30 506.83L110.80 506.82L111.30 506.82L111.80 506.82L112.30 506.82L112.80 506.82L113.30 506.81L113.80 506.81L114.30 506.81L114.80 506.81L115.30 506.80L115.80 506.80L116.30 506.80L116.80 506.80L117.30 506.79L117.80 506.79L118.30 506.79L118.80 506.78L119.30 506.78L119.80 506.78L120.30 506.78L120.80 506.77L121.30 506.77L121.80 506.77L122.30 506.76L122.80 506.76L123.30 506.76L123.80 506.75L124.30 506.75L124.80 506.74L125.30 506.74L125.80 506.74L126.30 506.73L126.80 506.73L127.30 506.72L127.80 506.72L128.30 506.72L128.80 506.71L129.30 506.71L129.80 506.70L130.30 506.70L130.80 506.69L131.30 506.69L131.80 506.68L132.30 506.68L132.80 506.67L133.30 506.67L133.80 506.66L134.30 506.66L134.80 506.65L135.30 506.64L135.80 506.64L136.30 506.63L136.80 506.62L137.30 506.62L137.80 506.61L138.30 506.60L138.80 506.60L139.30 506.59L139.80 506.58L140.30 506.57L140.80 506.56L141.30 506.56L141.80 506.55L142.30 506.54L142.80 506.53L143.30 506.52L143.80 506.51L144.30 506.50L144.80 506.49L145.30 506.48L145.80 506.47L146.30 506.45L146.80 506.44L147.30 506.43L147.80 506.42L148.30 506.40L148.80 506.39L149.30 506.38L149.80 506.36L150.30 506.35L150.80 506.33L151.30 506.32L151.80 506.30L152.30 506.28L152.80 506.26L153.30 506.24L153.80 506.23L154.30 506.20L154.80 506.18L155.30 506.16L155.80 506.14L156.30 506.12L156.80 506.09L157.30 506.07L157.80 506.04L158.30 506.01L158.80 505.98L159.30 505.95L159.80 505.92L160.30 505.89L160.80 505.85L161.30 505.81L161.80 505.78L162.30 505.74L162.80 505.69L163.30 505.65L163.80 505.60L164.30 505.55L164.80 505.50L165.30 505.45L165.80 505.39L166.30 505.33L166.80 505.27L167.30 505.20L167.80 505.13L168.30 505.05L168.80 504.97L169.30 504.88L169.80 504.79L170.30 504.69L170.80 504.59L171.30 504.48L171.80 504.36L172.30 504.23L172.80 504.09L173.30 503.94L173.80 503.78L174.30 503.61L174.80 503.43L175.30 503.23L175.80 503.01L176.30 502.77L176.80 502.51L177.30 502.23L177.80 501.92L178.30 501.57L178.80 501.20L179.30 500.78L179.80 500.32L180.30 499.80L180.80 499.21L181.30 498.55L181.80 497.79L182.30 496.90L182.80 495.86L183.30 494.61L183.80 493.09L184.30 491.21L184.80 488.86L185.30 485.92L185.80 482.22L186.30 477.58L186.80 471.83L187.30 464.79L187.80 456.30L188.30 446.26L188.80 434.67L189.30 421.62L189.80 407.39L190.30 392.51L190.80 377.80L191.30 364.48L191.80 354.04L192.30 348.03L192.80 347.46L193.30 352.44L193.80 362.11L194.30 374.98L194.80 389.52L195.30 404.45L195.80 418.86L196.30 432.17L196.80 444.07L197.30 454.42L197.80 463.21L198.30 470.53L198.80 476.53L199.30 481.37L199.80 485.24L200.30 488.33L200.80 490.78L201.30 492.74L201.80 494.33L202.30 495.63L202.80 496.71L203.30 497.62L203.80 498.41L204.30 499.09L204.80 499.69L205.30 500.22L205.80 500.69L206.30 501.12L206.80 501.50L207.30 501.85L207.80 502.17L208.30 502.45L208.80 502.72L209.30 502.96L209.80 503.18L210.30 503.39L210.80 503.58L211.30 503.75L211.80 503.91L212.30 504.06L212.80 504.20L213.30 504.33L213.80 504.45L214.30 504.57L214.80 504.67L215.30 504.77L215.80 504.86L216.30 504.95L216.80 505.03L217.30 505.11L217.80 505.18L218.30 505.25L218.80 505.32L219.30 505.38L219.80 505.44L220.30 505.49L220.80 505.54L221.30 505.59L221.80 505.64L222.30 505.69L222.80 505.73L223.30 505.77L223.80 505.81L224.30 505.84L224.80 505.88L225.30 505.91L225.80 505.94L226.30 505.98L226.80 506.00L227.30 506.03L227.80 506.06L228.30 506.09L228.80 506.11L229.30 506.13L229.80 506.16L230.30 506.18L230.80 506.20L231.30 506.22L231.80 506.24L232.30 506.26L232.80 506.28L233.30 506.30L233.80 506.31L234.30 506.33L234.80 506.34L235.30 506.36L235.80 506.37L236.30 506.39L236.80 506.40L237.30 506.42L237.80 506.43L238.30 506.44L238.80 506.45L239.30 506.46L239.80 506.48L240.30 506.49L240.80 506.50L241.30 506.51L241.80 506.52L242.30 506.53L242.80 506.54L243.30 506.54L243.80 506.55L244.30 506.56L244.80 506.57L245.30 506.58L245.80 506.59L246.30 506.59L246.80 506.60L247.30 506.61L247.80 506.62L248.30 506.62L248.80 506.63L249.30 506.64L249.80 506.64L250.30 506.65L250.80 506.65L251.30 506.66L251.80 506.67L252.30 506.67L252.80 506.68L253.30 506.68L253.80 506.69L254.30 506.69L254.80 506.70L255.30 506.70L255.80 506.71L256.30 506.71L256.80 506.72L257.30 506.72L257.80 506.72L258.30 506.73L258.80 506.73L259.30 506.74L259.80 506.74L260.30 506.74L260.80 506.75L261.30 506.75L261.80 506.76L262.30 506.76L262.80 506.76L263.30 506.77L263.80 506.77L264.30 506.77L264.80 506.77L265.30 506.78L265.80 506.78L266.30 506.78L266.80 506.79L267.30 506.79L267.80 506.79L268.30 506.80L268.80 506.80L269.30 506.80L269.80 506.80L270.30 506.81L270.80 506.81L271.30 506.81L271.80 506.81L272.30 506.82L272.80 506.82L273.30 506.82L273.80 506.82L274.30 506.82L274.80 506.83L275.30 506.83L275.80 506.83L276.30 506.83L276.80 506.83L277.30 506.84L277.80 506.84L278.30 506.84L278.80 506.84L279.30 506.84L279.80 506.85L280.30 506.85L280.80 506.85L281.30 506.85L281.80 506.85L282.30 506.85L282.80 506.86L283.30 506.86L283.80 506.86L284.30 506.86L284.80 506.86L285.30 506.86L285.80 506.86L286.30 506.87L286.80 506.87L287.30 506.87L287.80 506.87L288.30 506.87L288.80 506.87L289.30 506.87L289.80 506.88L290.30 506.88L290.80 506.88L291.30 506.88L291.80 506.88L292.30 506.88L292.80 506.88L293.30 506.88L293.80 506.89L294.30 506.89L294.80 506.89L295.30 506.89L295.80 506.89L296.30 506.89L296.80 506.89L297.30 506.89L297.80 506.89L298.30 506.89L298.80 506.90L299.30 506.90L299.80 506.90L300.30 506.90L300.80 506.90L301.30 506.90L301.80 506.90L302.30 506.90L302.80 506.90L303.30 506.90L303.80 506.90L304.30 506.91L304.80 506.91L305.30 506.91L305.80 506.91L306.30 506.91L306.80 506.91L307.30 506.91L307.80 506.91L308.30 506.91L308.80 506.91L309.30 506.91L309.80 506.91L310.30 506.92L310.80 506.92L311.30 506.92L311.80 506.92L312.30 506.92L312.80 506.92L313.30 506.92L313.80 506.92L314.30 506.92L314.80 506.92L315.30 506.92L315.80 506.92L316.30 506.92L316.80 506.92L317.30 506.92L317.80 506.93L318.30 506.93L318.80 506.93L319.30 506.93L319.80 506.93L320.30 506.93L320.80 506.93L321.30 506.93L321.80 506.93L322.30 506.93L322.80 506.93L323.30 506.93L323.80 506.93L324.30 506.93L324.80 506.93L325.30 506.93L325.80 506.93L326.30 506.93L326.80 506.93L327.30 506.94L327.80 506.94L328.30 506.94L328.80 506.94L329.30 506.94L329.80 506.94L330.30 506.94L330.80 506.94L331.30 506.94L331.80 506.94L332.30 506.94L332.80 506.94L333.30 506.94L333.80 506.94L334.30 506.94L334.80 506.94L335.30 506.94L335.80 506.94L336.30 506.94L336.80 506.94L337.30 506.94L337.80 506.94L338.30 506.94L338.80 506.95L339.30 506.95L339.80 506.95L340.30 506.95L340.80 506.95L341.30 506.95L341.80 506.95L342.30 506.95L342.80 506.95L343.30 506.95L343.80 506.95L344.30 506.95L344.80 506.95L345.30 506.95L345.80 506.95L346.30 506.95L346.80 506.95L347.30 506.95L347.80 506.95L348.30 506.95L348.80 506.95L349.30 506.95L349.80 506.95L350.30 506.95L350.80 506.95L351.30 506.95L351.80 506.95L352.30 506.95L352.80 506.95L353.30 506.95L353.80 506.95L354.30 506.96L354.80 506.96L355.30 506.96L355.80 506.96L356.30 506.96L356.80 506.96L357.30 506.96L357.80 506.96L358.30 506.96L358.80 506.96L359.30 506.96L359.80 506.96L360.30 506.96L360.80 506.96L361.30 506.96L361.80 506.96L362.30 506.96L362.80 506.96L363.30 506.96L363.80 506.96L364.30 506.96L364.80 506.96L365.30 506.96L365.80 506.96L366.30 506.96L366.80 506.96L367.30 506.96L367.80 506.96L368.30 506.96L368.80 506.96L369.30 506.96L369.80 506.96L370.30 506.96L370.80 506.96L371.30 506.96L371.80 506.96L372.30 506.96L372.80 506.96L373.30 506.96L373.80 506.96L374.30 506.96L374.80 506.96L375.30 506.96L375.80 506.96L376.30 506.97L376.80 506.97L377.30 506.97L377.80 506.97L378.30 506.97L378.80 506.97L379.30 506.97L379.80 506.97L380.30 506.97L380.80 506.97L381.30 506.97L381.80 506.97L382.30 506.97L382.80 506.97L383.30 506.97L383.80 506.97L384.30 506.97L384.80 506.97L385.30 506.97L385.80 506.97L386.30 506.97L386.80 506.97L387.30 506.97L387.80 506.97L388.30 506.97L388.80 506.97L389.30 506.97L389.80 506.97L390.30 506.97L390.80 506.97M50.80 506.99L51.30 506.98L51.80 506.98L52.30 506.98L52.80 506.98L53.30 506.98L53.80 506.98L54.30 506.98L54.80 506.98L55.30 506.98L55.80 506.98L56.30 506.98L56.80 506.98L57.30 506.98L57.80 506.98L58.30 506.98L58.80 506.98L59.30 506.98L59.80 506.98L60.30 506.98L60.80 506.98L61.30 506.98L61.80 506.98L62.30 506.98L62.80 506.98L63.30 506.98L63.80 506.98L64.30 506.98L64.80 506.98L65.30 506.98L65.80 506.98L66.30 506.98L66.80 506.98L67.30 506.98L67.80 506.98L68.30 506.98L68.80 506.98L69.30 506.98L69.80 506.98L70.30 506.98L70.80 506.98L71.30 506.98L71.80 506.98L72.30 506.98L72.80 506.98L73.30 506.98L73.80 506.98L74.30 506.98L74.80 506.98L75.30 506.98L75.80 506.98L76.30 506.98L76.80 506.98L77.30 506.98L77.80 506.98L78.30 506.98L78.80 506.98L79.30 506.98L79.80 506.98L80.30 506.98L80.80 506.98L81.30 506.98L81.80 506.98L82.30 506.98L82.80 506.98L83.30 506.98L83.80 506.98L84.30 506.98L84.80 506.97L85.30 506.97L85.80 506.97L86.30 506.97L86.80 506.97L87.30 506.97L87.80 506.97L88.30 506.97L88.80 506.97L89.30 506.97L89.80 506.97L90.30 506.97L90.80 506.97L91.30 506.97L91.80 506.97L92.30 506.97L92.80 506.97L93.30 506.97L93.80 506.97L94.30 506.97L94.80 506.97L95.30 506.97L95.80 506.97L96.30 506.97L96.80 506.97L97.30 506.97L97.80 506.97L98.30 506.97L98.80 506.97L99.30 506.97L99.80 506.97L100.30 506.97L100.80 506.97L101.30 506.97L101.80 506.97L102.30 506.96L102.80 506.96L103.30 506.96L103.80 506.96L104.30 506.96L104.80 506.96L105.30 506.96L105.80 506.96L106.30 506.96L106.80 506.96L107.30 506.96L107.80 506.96L108.30 506.96L108.80 506.96L109.30 506.96L109.80 506.96L110.30 506.96L110.80 506.96L111.30 506.96L111.80 506.96L112.30 506.96L112.80 506.96L113.30 506.96L113.80 506.95L114.30 506.95L114.80 506.95L115.30 506.95L115.80 506.95L116.30 506.95L116.80 506.95L117.30 506.95L117.80 506.95L118.30 506.95L118.80 506.95L119.30 506.95L119.80 506.95L120.30 506.95L120.80 506.95L121.30 506.95L121.80 506.94L122.30 506.94L122.80 506.94L123.30 506.94L123.80 506.94L124.30 506.94L124.80 506.94L125.30 506.94L125.80 506.94L126.30 506.94L126.80 506.94L127.30 506.94L127.80 506.94L128.30 506.93L128.80 506.93L129.30 506.93L129.80 506.93L130.30 506.93L130.80 506.93L131.30 506.93L131.80 506.93L132.30 506.93L132.80 506.93L133.30 506.92L133.80 506.92L134.30 506.92L134.80 506.92L135.30 506.92L135.80 506.92L136.30 506.92L136.80 506.92L137.30 506.91L137.80 506.91L138.30 506.91L138.80 506.91L139.30 506.91L139.80 506.91L140.30 506.90L140.80 506.90L141.30 506.90L141.80 506.90L142.30 506.90L142.80 506.90L143.30 506.89L143.80 506.89L144.30 506.89L144.80 506.89L145.30 506.89L145.80 506.88L146.30 506.88L146.80 506.88L147.30 506.88L147.80 506.87L148.30 506.87L148.80 506.87L149.30 506.87L149.80 506.86L150.30 506.86L150.80 506.86L151.30 506.86L151.80 506.85L152.30 506.85L152.80 506.85L153.30 506.84L153.80 506.84L154.30 506.84L154.80 506.83L155.30 506.83L155.80 506.82L156.30 506.82L156.80 506.82L157.30 506.81L157.80 506.81L158.30 506.80L158.80 506.80L159.30 506.79L159.80 506.79L160.30 506.78L160.80 506.78L161.30 506.77L161.80 506.76L162.30 506.76L162.80 506.75L163.30 506.74L163.80 506.74L164.30 506.73L164.80 506.72L165.30 506.71L165.80 506.70L166.30 506.69L166.80 506.68L167.30 506.67L167.80 506.66L168.30 506.65L168.80 506.64L169.30 506.63L169.80 506.62L170.30 506.60L170.80 506.59L171.30 506.57L171.80 506.56L172.30 506.54L172.80 506.52L173.30 506.50L173.80 506.48L174.30 506.46L174.80 506.44L175.30 506.42L175.80 506.39L176.30 506.37L176.80 506.34L177.30 506.31L177.80 506.27L178.30 506.24L178.80 506.20L179.30 506.16L179.80 506.12L180.30 506.07L180.80 506.02L181.30 505.96L181.80 505.90L182.30 505.84L182.80 505.77L183.30 505.69L183.80 505.60L184.30 505.51L184.80 505.41L185.30 505.29L185.80 505.16L186.30 505.02L186.80 504.86L187.30 504.69L187.80 504.48L188.30 504.26L188.80 503.99L189.30 503.69L189.80 503.32L190.30 502.89L190.80 502.35L191.30 501.68L191.80 500.81L192.30 499.69L192.80 498.23L193.30 496.32L193.80 493.86L194.30 490.74L194.80 486.87L195.30 482.21L195.80 476.75L196.30 470.62L196.80 464.09L197.30 457.61L197.80 451.92L198.30 447.94L198.80 446.50L199.30 447.94L199.80 451.92L200.30 457.61L200.80 464.09L201.30 470.62L201.80 476.75L202.30 482.21L202.80 486.87L203.30 490.74L203.80 493.86L204.30 496.32L204.80 498.23L205.30 499.69L205.80 500.81L206.30 501.68L206.80 502.35L207.30 502.89L207.80 503.32L208.30 503.69L208.80 503.99L209.30 504.26L209.80 504.48L210.30 504.69L210.80 504.86L211.30 505.02L211.80 505.16L212.30 505.29L212.80 505.41L213.30 505.51L213.80 505.60L214.30 505.69L214.80 505.77L215.30 505.84L215.80 505.90L216.30 505.96L216.80 506.02L217.30 506.07L217.80 506.12L218.30 506.16L218.80 506.20L219.30 506.24L219.80 506.27L220.30 506.31L220.80 506.34L221.30 506.37L221.80 506.39L222.30 506.42L222.80 506.44L223.30 506.46L223.80 506.48L224.30 506.50L224.80 506.52L225.30 506.54L225.80 506.56L226.30 506.57L226.80 506.59L227.30 506.60L227.80 506.62L228.30 506.63L228.80 506.64L229.30 506.65L229.80 506.66L230.30 506.67L230.80 506.68L231.30 506.69L231.80 506.70L232.30 506.71L232.80 506.72L233.30 506.73L233.80 506.74L234.30 506.74L234.80 506.75L235.30 506.76L235.80 506.76L236.30 506.77L236.80 506.78L237.30 506.78L237.80 506.79L238.30 506.79L238.80 506.80L239.30 506.80L239.80 506.81L240.30 506.81L240.80 506.82L241.30 506.82L241.80 506.82L242.30 506.83L242.80 506.83L243.30 506.84L243.80 506.84L244.30 506.84L244.80 506.85L245.30 506.85L245.80 506.85L246.30 506.86L246.80 506.86L247.30 506.86L247.80 506.86L248.30 506.87L248.80 506.87L249.30 506.87L249.80 506.87L250.30 506.88L250.80 506.88L251.30 506.88L251.80 506.88L252.30 506.89L252.80 506.89L253.30 506.89L253.80 506.89L254.30 506.89L254.80 506.90L255.30 506.90L255.80 506.90L256.30 506.90L256.80 506.90L257.30 506.90L257.80 506.91L258.30 506.91L258.80 506.91L259.30 506.91L259.80 506.91L260.30 506.91L260.80 506.92L261.30 506.92L261.80 506.92L262.30 506.92L262.80 506.92L263.30 506.92L263.80 506.92L264.30 506.92L264.80 506.93L265.30 506.93L265.80 506.93L266.30 506.93L266.80 506.93L267.30 506.93L267.80 506.93L268.30 506.93L268.80 506.93L269.30 506.93L269.80 506.94L270.30 506.94L270.80 506.94L271.30 506.94L271.80 506.94L272.30 506.94L272.80 506.94L273.30 506.94L273.80 506.94L274.30 506.94L274.80 506.94L275.30 506.94L275.80 506.94L276.30 506.95L276.80 506.95L277.30 506.95L277.80 506.95L278.30 506.95L278.80 506.95L279.30 506.95L279.80 506.95L280.30 506.95L280.80 506.95L281.30 506.95L281.80 506.95L282.30 506.95L282.80 506.95L283.30 506.95L283.80 506.95L284.30 506.96L284.80 506.96L285.30 506.96L285.80 506.96L286.30 506.96L286.80 506.96L287.30 506.96L287.80 506.96L288.30 506.96L288.80 506.96L289.30 506.96L289.80 506.96L290.30 506.96L290.80 506.96L291.30 506.96L291.80 506.96L292.30 506.96L292.80 506.96L293.30 506.96L293.80 506.96L294.30 506.96L294.80 506.96L295.30 506.96L295.80 506.97L296.30 506.97L296.80 506.97L297.30 506.97L297.80 506.97L298.30 506.97L298.80 506.97L299.30 506.97L299.80 506.97L300.30 506.97L300.80 506.97L301.30 506.97L301.80 506.97L302.30 506.97L302.80 506.97L303.30 506.97L303.80 506.97L304.30 506.97L304.80 506.97L305.30 506.97L305.80 506.97L306.30 506.97L306.80 506.97L307.30 506.97L307.80 506.97L308.30 506.97L308.80 506.97L309.30 506.97L309.80 506.97L310.30 506.97L310.80 506.97L311.30 506.97L311.80 506.97L312.30 506.97L312.80 506.97L313.30 506.98L313.80 506.98L314.30 506.98L314.80 506.98L315.30 506.98L315.80 506.98L316.30 506.98L316.80 506.98L317.30 506.98L317.80 506.98L318.30 506.98L318.80 506.98L319.30 506.98L319.80 506.98L320.30 506.98L320.80 506.98L321.30 506.98L321.80 506.98L322.30 506.98L322.80 506.98L323.30 506.98L323.80 506.98L324.30 506.98L324.80 506.98L325.30 506.98L325.80 506.98L326.30 506.98L326.80 506.98L327.30 506.98L327.80 506.98L328.30 506.98L328.80 506.98L329.30 506.98L329.80 506.98L330.30 506.98L330.80 506.98L331.30 506.98L331.80 506.98L332.30 506.98L332.80 506.98L333.30 506.98L333.80 506.98L334.30 506.98L334.80 506.98L335.30 506.98L335.80 506.98L336.30 506.98L336.80 506.98L337.30 506.98L337.80 506.98L338.30 506.98L338.80 506.98L339.30 506.98L339.80 506.98L340.30 506.98L340.80 506.98L341.30 506.98L341.80 506.98L342.30 506.98L342.80 506.98L343.30 506.98L343.80 506.98L344.30 506.98L344.80 506.98L345.30 506.98L345.80 506.98L346.30 506.98L346.80 506.99L347.30 506.99L347.80 506.99L348.30 506.99L348.80 506.99L349.30 506.99L349.80 506.99L350.30 506.99L350.80 506.99L351.30 506.99L351.80 506.99L352.30 506.99L352.80 506.99L353.30 506.99L353.80 506.99L354.30 506.99L354.80 506.99L355.30 506.99L355.80 506.99L356.30 506.99L356.80 506.99L357.30 506.99L357.80 506.99L358.30 506.99L358.80 506.99L359.30 506.99L359.80 506.99L360.30 506.99L360.80 506.99L361.30 506.99L361.80 506.99L362.30 506.99L362.80 506.99L363.30 506.99L363.80 506.99L364.30 506.99L364.80 506.99L365.30 506.99L365.80 506.99L366.30 506.99L366.80 506.99L367.30 506.99L367.80 506.99L368.30 506.99L368.80 506.99L369.30 506.99L369.80 506.99L370.30 506.99L370.80 506.99L371.30 506.99L371.80 506.99L372.30 506.99L372.80 506.99L373.30 506.99L373.80 506.99L374.30 506.99L374.80 506.99L375.30 506.99L375.80 506.99L376.30 506.99L376.80 506.99L377.30 506.99L377.80 506.99L378.30 506.99L378.80 506.99L379.30 506.99L379.80 506.99L380.30 506.99L380.80 506.99L381.30 506.99L381.80 506.99L382.30 506.99L382.80 506.99L383.30 506.99L383.80 506.99L384.30 506.99L384.80 506.99L385.30 506.99L385.80 506.99L386.30 506.99L386.80 506.99L387.30 506.99L387.80 506.99L388.30 506.99L388.80 506.99L389.30 506.99L389.80 506.99L390.30 506.99L390.80 506.99M50.80 507.00L51.30 507.00L51.80 507.00L52.30 507.00L52.80 507.00L53.30 507.00L53.80 507.00L54.30 507.00L54.80 506.99L55.30 506.99L55.80 506.99L56.30 506.99L56.80 506.99L57.30 506.99L57.80 506.99L58.30 506.99L58.80 506.99L59.30 506.99L59.80 506.99L60.30 506.99L60.80 506.99L61.30 506.99L61.80 506.99L62.30 506.99L62.80 506.99L63.30 506.99L63.80 506.99L64.30 506.99L64.80 506.99L65.30 506.99L65.80 506.99L66.30 506.99L66.80 506.99L67.30 506.99L67.80 506.99L68.30 506.99L68.80 506.99L69.30 506.99L69.80 506.99L70.30 506.99L70.80 506.99L71.30 506.99L71.80 506.99L72.30 506.99L72.80 506.99L73.30 506.99L73.80 506.99L74.30 506.99L74.80 506.99L75.30 506.99L75.80 506.99L76.30 506.99L76.80 506.99L77.30 506.99L77.80 506.99L78.30 506.99L78.80 506.99L79.30 506.99L79.80 506.99L80.30 506.99L80.80 506.99L81.30 506.99L81.80 506.99L82.30 506.99L82.80 506.99L83.30 506.99L83.80 506.99L84.30 506.99L84.80 506.99L85.30 506.99L85.80 506.99L86.30 506.99L86.80 506.99L87.30 506.99L87.80 506.99L88.30 506.99L88.80 506.99L89.30 506.99L89.80 506.99L90.30 506.99L90.80 506.99L91.30 506.99L91.80 506.99L92.30 506.99L92.80 506.99L93.30 506.99L93.80 506.99L94.30 506.99L94.80 506.99L95.30 506.99L95.80 506.99L96.30 506.99L96.80 506.99L97.30 506.99L97.80 506.99L98.30 506.99L98.80 506.99L99.30 506.99L99.80 506.99L100.30 506.99L100.80 506.99L101.30 506.99L101.80 506.99L102.30 506.99L102.80 506.99L103.30 506.99L103.80 506.99L104.30 506.99L104.80 506.99L105.30 506.99L105.80 506.99L106.30 506.99L106.80 506.99L107.30 506.99L107.80 506.99L108.30 506.99L108.80 506.99L109.30 506.99L109.80 506.99L110.30 506.99L110.80 506.99L111.30 506.99L111.80 506.99L112.30 506.99L112.80 506.99L113.30 506.99L113.80 506.99L114.30 506.99L114.80 506.99L115.30 506.99L115.80 506.99L116.30 506.99L116.80 506.99L117.30 506.99L117.80 506.99L118.30 506.99L118.80 506.99L119.30 506.99L119.80 506.99L120.30 506.99L120.80 506.99L121.30 506.99L121.80 506.99L122.30 506.99L122.80 506.99L123.30 506.99L123.80 506.99L124.30 506.99L124.80 506.99L125.30 506.99L125.80 506.99L126.30 506.99L126.80 506.99L127.30 506.99L127.80 506.99L128.30 506.99L128.80 506.99L129.30 506.99L129.80 506.99L130.30 506.99L130.80 506.99L131.30 506.99L131.80 506.99L132.30 506.99L132.80 506.99L133.30 506.99L133.80 506.99L134.30 506.99L134.80 506.99L135.30 506.99L135.80 506.99L136.30 506.99L136.80 506.99L137.30 506.99L137.80 506.99L138.30 506.99L138.80 506.99L139.30 506.99L139.80 506.99L140.30 506.99L140.80 506.99L141.30 506.99L141.80 506.99L142.30 506.99L142.80 506.99L143.30 506.99L143.80 506.99L144.30 506.99L144.80 506.99L145.30 506.99L145.80 506.99L146.30 506.99L146.80 506.99L147.30 506.99L147.80 506.99L148.30 506.99L148.80 506.99L149.30 506.99L149.80 506.99L150.30 506.99L150.80 506.98L151.30 506.98L151.80 506.98L152.30 506.98L152.80 506.98L153.30 506.98L153.80 506.98L154.30 506.98L154.80 506.98L155.30 506.98L155.80 506.98L156.30 506.98L156.80 506.98L157.30 506.98L157.80 506.98L158.30 506.98L158.80 506.98L159.30 506.98L159.80 506.98L160.30 506.98L160.80 506.98L161.30 506.98L161.80 506.98L162.30 506.98L162.80 506.98L163.30 506.98L163.80 506.98L164.30 506.98L164.80 506.98L165.30 506.98L165.80 506.98L166.30 506.98L166.80 506.98L167.30 506.98L167.80 506.98L168.30 506.98L168.80 506.98L169.30 506.98L169.80 506.98L170.30 506.98L170.80 506.98L171.30 506.98L171.80 506.98L172.30 506.98L172.80 506.98L173.30 506.98L173.80 506.98L174.30 506.98L174.80 506.98L175.30 506.98L175.80 506.98L176.30 506.98L176.80 506.98L177.30 506.98L177.80 506.98L178.30 506.98L178.80 506.98L179.30 506.98L179.80 506.98L180.30 506.97L180.80 506.97L181.30 506.97L181.80 506.97L182.30 506.97L182.80 506.97L183.30 506.97L183.80 506.97L184.30 506.97L184.80 506.97L185.30 506.97L185.80 506.97L186.30 506.97L186.80 506.97L187.30 506.97L187.80 506.97L188.30 506.97L188.80 506.97L189.30 506.97L189.80 506.97L190.30 506.97L190.80 506.97L191.30 506.97L191.80 506.97L192.30 506.97L192.80 506.97L193.30 506.97L193.80 506.97L194.30 506.97L194.80 506.97L195.30 506.97L195.80 506.96L196.30 506.96L196.80 506.96L197.30 506.96L197.80 506.96L198.30 506.96L198.80 506.96L199.30 506.96L199.80 506.96L200.30 506.96L200.80 506.96L201.30 506.96L201.80 506.96L202.30 506.96L202.80 506.96L203.30 506.96L203.80 506.96L204.30 506.96L204.80 506.96L205.30 506.96L205.80 506.95L206.30 506.95L206.80 506.95L207.30 506.95L207.80 506.95L208.30 506.95L208.80 506.95L209.30 506.95L209.80 506.95L210.30 506.95L210.80 506.95L211.30 506.95L211.80 506.95L212.30 506.95L212.80 506.95L213.30 506.94L213.80 506.94L214.30 506.94L214.80 506.94L215.30 506.94L215.80 506.94L216.30 506.94L216.80 506.94L217.30 506.94L217.80 506.94L218.30 506.94L218.80 506.93L219.30 506.93L219.80 506.93L220.30 506.93L220.80 506.93L221.30 506.93L221.80 506.93L222.30 506.93L222.80 506.92L223.30 506.92L223.80 506.92L224.30 506.92L224.80 506.92L225.30 506.92L225.80 506.92L226.30 506.91L226.80 506.91L227.30 506.91L227.80 506.91L228.30 506.91L228.80 506.91L229.30 506.90L229.80 506.90L230.30 506.90L230.80 506.90L231.30 506.90L231.80 506.89L232.30 506.89L232.80 506.89L233.30 506.89L233.80 506.89L234.30 506.88L234.80 506.88L235.30 506.88L235.80 506.88L236.30 506.87L236.80 506.87L237.30 506.87L237.80 506.86L238.30 506.86L238.80 506.86L239.30 506.85L239.80 506.85L240.30 506.85L240.80 506.84L241.30 506.84L241.80 506.83L242.30 506.83L242.80 506.83L243.30 506.82L243.80 506.82L244.30 506.81L244.80 506.81L245.30 506.80L245.80 506.80L246.30 506.79L246.80 506.78L247.30 506.78L247.80 506.77L248.30 506.76L248.80 506.76L249.30 506.75L249.80 506.74L250.30 506.73L250.80 506.72L251.30 506.71L251.80 506.70L252.30 506.69L252.80 506.68L253.30 506.67L253.80 506.66L254.30 506.65L254.80 506.63L255.30 506.62L255.80 506.61L256.30 506.59L256.80 506.57L257.30 506.56L257.80 506.54L258.30 506.52L258.80 506.50L259.30 506.47L259.80 506.45L260.30 506.42L260.80 506.39L261.30 506.36L261.80 506.33L262.30 506.30L262.80 506.26L263.30 506.22L263.80 506.17L264.30 506.13L264.80 506.07L265.30 506.02L265.80 505.96L266.30 505.89L266.80 505.81L267.30 505.73L267.80 505.64L268.30 505.54L268.80 505.42L269.30 505.30L269.80 505.15L270.30 504.98L270.80 504.79L271.30 504.56L271.80 504.29L272.30 503.96L272.80 503.57L273.30 503.09L273.80 502.51L274.30 501.81L274.80 500.95L275.30 499.93L275.80 498.72L276.30 497.30L276.80 495.66L277.30 493.81L277.80 491.76L278.30 489.57L278.80 487.32L279.30 485.14L279.80 483.23L280.30 481.80L280.80 481.07L281.30 481.15L281.80 482.03L282.30 483.58L282.80 485.56L283.30 487.77L283.80 490.01L284.30 492.18L284.80 494.19L285.30 496.00L285.80 497.60L286.30 498.97L286.80 500.15L287.30 501.14L287.80 501.96L288.30 502.64L288.80 503.19L289.30 503.65L289.80 504.03L290.30 504.34L290.80 504.61L291.30 504.83L291.80 505.02L292.30 505.18L292.80 505.32L293.30 505.45L293.80 505.56L294.30 505.66L294.80 505.75L295.30 505.83L295.80 505.90L296.30 505.97L296.80 506.03L297.30 506.09L297.80 506.14L298.30 506.18L298.80 506.23L299.30 506.27L299.80 506.30L300.30 506.34L300.80 506.37L301.30 506.40L301.80 506.43L302.30 506.45L302.80 506.48L303.30 506.50L303.80 506.52L304.30 506.54L304.80 506.56L305.30 506.58L305.80 506.59L306.30 506.61L306.80 506.62L307.30 506.64L307.80 506.65L308.30 506.66L308.80 506.67L309.30 506.69L309.80 506.70L310.30 506.71L310.80 506.72L311.30 506.73L311.80 506.73L312.30 506.74L312.80 506.75L313.30 506.76L313.80 506.77L314.30 506.77L314.80 506.78L315.30 506.79L315.80 506.79L316.30 506.80L316.80 506.80L317.30 506.81L317.80 506.81L318.30 506.82L318.80 506.82L319.30 506.83L319.80 506.83L320.30 506.84L320.80 506.84L321.30 506.84L321.80 506.85L322.30 506.85L322.80 506.85L323.30 506.86L323.80 506.86L324.30 506.86L324.80 506.87L325.30 506.87L325.80 506.87L326.30 506.88L326.80 506.88L327.30 506.88L327.80 506.88L328.30 506.89L328.80 506.89L329.30 506.89L329.80 506.89L330.30 506.90L330.80 506.90L331.30 506.90L331.80 506.90L332.30 506.90L332.80 506.91L333.30 506.91L333.80 506.91L334.30 506.91L334.80 506.91L335.30 506.91L335.80 506.92L336.30 506.92L336.80 506.92L337.30 506.92L337.80 506.92L338.30 506.92L338.80 506.92L339.30 506.93L339.80 506.93L340.30 506.93L340.80 506.93L341.30 506.93L341.80 506.93L342.30 506.93L342.80 506.93L343.30 506.93L343.80 506.94L344.30 506.94L344.80 506.94L345.30 506.94L345.80 506.94L346.30 506.94L346.80 506.94L347.30 506.94L347.80 506.94L348.30 506.94L348.80 506.94L349.30 506.95L349.80 506.95L350.30 506.95L350.80 506.95L351.30 506.95L351.80 506.95L352.30 506.95L352.80 506.95L353.30 506.95L353.80 506.95L354.30 506.95L354.80 506.95L355.30 506.95L355.80 506.95L356.30 506.95L356.80 506.96L357.30 506.96L357.80 506.96L358.30 506.96L358.80 506.96L359.30 506.96L359.80 506.96L360.30 506.96L360.80 506.96L361.30 506.96L361.80 506.96L362.30 506.96L362.80 506.96L363.30 506.96L363.80 506.96L364.30 506.96L364.80 506.96L365.30 506.96L365.80 506.96L366.30 506.96L366.80 506.97L367.30 506.97L367.80 506.97L368.30 506.97L368.80 506.97L369.30 506.97L369.80 506.97L370.30 506.97L370.80 506.97L371.30 506.97L371.80 506.97L372.30 506.97L372.80 506.97L373.30 506.97L373.80 506.97L374.30 506.97L374.80 506.97L375.30 506.97L375.80 506.97L376.30 506.97L376.80 506.97L377.30 506.97L377.80 506.97L378.30 506.97L378.80 506.97L379.30 506.97L379.80 506.97L380.30 506.97L380.80 506.97L381.30 506.97L381.80 506.97L382.30 506.98L382.80 506.98L383.30 506.98L383.80 506.98L384.30 506.98L384.80 506.98L385.30 506.98L385.80 506.98L386.30 506.98L386.80 506.98L387.30 506.98L387.80 506.98L388.30 506.98L388.80 506.98L389.30 506.98L389.80 506.98L390.30 506.98L390.80 506.98M404.00 249.46L404.50 249.46L405.00 249.46L405.50 249.46L406.00 249.46L406.50 249.46L407.00 249.46L407.50 249.46L408.00 249.46L408.50 249.46L409.00 249.45L409.50 249.45L410.00 249.45L410.50 249.45L411.00 249.45L411.50 249.45L412.00 249.45L412.50 249.45L413.00 249.44L413.50 249.44L414.00 249.44L414.50 249.44L415.00 249.44L415.50 249.44L416.00 249.43L416.50 249.43L417.00 249.43L417.50 249.43L418.00 249.42L418.50 249.42L419.00 249.42L419.50 249.42L420.00 249.41L420.50 249.41L421.00 249.41L421.50 249.40L422.00 249.40L422.50 249.40L423.00 249.39L423.50 249.39L424.00 249.38L424.50 249.38L425.00 249.37L425.50 249.37L426.00 249.36L426.50 249.36L427.00 249.35L427.50 249.34L428.00 249.34L428.50 249.33L429.00 249.32L429.50 249.31L430.00 249.30L430.50 249.29L431.00 249.28L431.50 249.27L432.00 249.25L432.50 249.24L433.00 249.22L433.50 249.20L434.00 249.18L434.50 249.16L435.00 249.14L435.50 249.11L436.00 249.08L436.50 249.05L437.00 249.01L437.50 248.97L438.00 248.92L438.50 248.86L439.00 248.78L439.50 248.67L440.00 248.51L440.50 248.29L441.00 247.95L441.50 247.44L442.00 246.70L442.50 245.61L443.00 244.08L443.50 241.98L444.00 239.23L444.50 235.74L445.00 231.50L445.50 226.61L446.00 221.23L446.50 215.64L447.00 210.25L447.50 205.50L448.00 201.89L448.50 199.84L449.00 199.65L449.50 201.34L450.00 204.67L450.50 209.23L451.00 214.54L451.50 220.11L452.00 225.56L452.50 230.57L453.00 234.95L453.50 238.59L454.00 241.49L454.50 243.71L455.00 245.34L455.50 246.51L456.00 247.32L456.50 247.86L457.00 248.23L457.50 248.47L458.00 248.64L458.50 248.76L459.00 248.84L459.50 248.91L460.00 248.96L460.50 249.01L461.00 249.04L461.50 249.08L462.00 249.11L462.50 249.13L463.00 249.16L463.50 249.18L464.00 249.20L464.50 249.22L465.00 249.24L465.50 249.25L466.00 249.26L466.50 249.28L467.00 249.29L467.50 249.30L468.00 249.31L468.50 249.32L469.00 249.33L469.50 249.34L470.00 249.34L470.50 249.35L471.00 249.36L471.50 249.36L472.00 249.37L472.50 249.37L473.00 249.38L473.50 249.38L474.00 249.39L474.50 249.39L475.00 249.40L475.50 249.40L476.00 249.40L476.50 249.41L477.00 249.41L477.50 249.41L478.00 249.42L478.50 249.42L479.00 249.42L479.50 249.42L480.00 249.43L480.50 249.43L481.00 249.43L481.50 249.43L482.00 249.44L482.50 249.44L483.00 249.44L483.50 249.44L484.00 249.44L484.50 249.44L485.00 249.45L485.50 249.45L486.00 249.45L486.50 249.45L487.00 249.45L487.50 249.45L488.00 249.45L488.50 249.45L489.00 249.46L489.50 249.46L490.00 249.46L490.50 249.46L491.00 249.46L491.50 249.46L492.00 249.46L492.50 249.46L493.00 249.46L493.50 249.46L494.00 249.46L494.50 249.47L495.00 249.47L495.50 249.47L496.00 249.47L496.50 249.47L497.00 249.47L497.50 249.47L498.00 249.47L498.50 249.47L499.00 249.47L499.50 249.47L500.00 249.47L500.50 249.47L501.00 249.47L501.50 249.47L502.00 249.47L502.50 249.48L503.00 249.48L503.50 249.48L504.00 249.48L504.50 249.48L505.00 249.48L505.50 249.48L506.00 249.48L506.50 249.48L507.00 249.48L507.50 249.48L508.00 249.48L508.50 249.48L509.00 249.48L509.50 249.48L510.00 249.48L510.50 249.48L511.00 249.48L511.50 249.48L512.00 249.48L512.50 249.48L513.00 249.48L513.50 249.48L514.00 249.48L514.50 249.48L515.00 249.48L515.50 249.48L516.00 249.48L516.50 249.48L517.00 249.48L517.50 249.48L518.00 249.48L518.50 249.49L519.00 249.49L519.50 249.49L520.00 249.49L520.50 249.49L521.00 249.49L521.50 249.49L522.00 249.49L522.50 249.49L523.00 249.49L523.50 249.49L524.00 249.49L524.50 249.49L525.00 249.49L525.50 249.49L526.00 249.49L526.50 249.49L527.00 249.49L527.50 249.49L528.00 249.49L528.50 249.49L529.00 249.49L529.50 249.49L530.00 249.49L530.50 249.49L531.00 249.49L531.50 249.49L532.00 249.49L532.50 249.49L533.00 249.49L533.50 249.49L534.00 249.49L534.50 249.49L535.00 249.49L535.50 249.49L536.00 249.49L536.50 249.49L537.00 249.49L537.50 249.49L538.00 249.49L538.50 249.49L539.00 249.49L539.50 249.49L540.00 249.49L540.50 249.49L541.00 249.49L541.50 249.49L542.00 249.49L542.50 249.49L543.00 249.49L543.50 249.49L544.00 249.49L544.50 249.49L545.00 249.49L545.50 249.49L546.00 249.49L546.50 249.49L547.00 249.49L547.50 249.49L548.00 249.49L548.50 249.49L549.00 249.49L549.50 249.49L550.00 249.49L550.50 249.49L551.00 249.49L551.50 249.49L552.00 249.49L552.50 249.49L553.00 249.49L553.50 249.49L554.00 249.49L554.50 249.49L555.00 249.49L555.50 249.49L556.00 249.49L556.50 249.49L557.00 249.49L557.50 249.49L558.00 249.49L558.50 249.49L559.00 249.49L559.50 249.49L560.00 249.49L560.50 249.49L561.00 249.49L561.50 249.49L562.00 249.49L562.50 249.49L563.00 249.49L563.50 249.49L564.00 249.49L564.50 249.49L565.00 249.49L565.50 249.49L566.00 249.49L566.50 249.49L567.00 249.49L567.50 249.49L568.00 249.49L568.50 249.49L569.00 249.50L569.50 249.50L570.00 249.50L570.50 249.50L571.00 249.50L571.50 249.50L572.00 249.50L572.50 249.50L573.00 249.50L573.50 249.50L574.00 249.50L574.50 249.50L575.00 249.50L575.50 249.50L576.00 249.50L576.50 249.50L577.00 249.50L577.50 249.50L578.00 249.50L578.50 249.50L579.00 249.50L579.50 249.50L580.00 249.50L580.50 249.50L581.00 249.50L581.50 249.50L582.00 249.50L582.50 249.50L583.00 249.50L583.50 249.50L584.00 249.50L584.50 249.50L585.00 249.50L585.50 249.50L586.00 249.50L586.50 249.50L587.00 249.50L587.50 249.50L588.00 249.50L588.50 249.50L589.00 249.50L589.50 249.50L590.00 249.50L590.50 249.50L591.00 249.50L591.50 249.50L592.00 249.50L592.50 249.50L593.00 249.50L593.50 249.50L594.00 249.50L594.50 249.50L595.00 249.50L595.50 249.50L596.00 249.50L596.50 249.50L597.00 249.50L597.50 249.50L598.00 249.50L598.50 249.50L599.00 249.50L599.50 249.50L600.00 249.50L600.50 249.50L601.00 249.50L601.50 249.50L602.00 249.50L602.50 249.50L603.00 249.50L603.50 249.50L604.00 249.50L604.50 249.50L605.00 249.50L605.50 249.50L606.00 249.50L606.50 249.50L607.00 249.50L607.50 249.50L608.00 249.50L608.50 249.50L609.00 249.50L609.50 249.50L610.00 249.50L610.50 249.50L611.00 249.50L611.50 249.50L612.00 249.50L612.50 249.50L613.00 249.50L613.50 249.50L614.00 249.50L614.50 249.50L615.00 249.50L615.50 249.50L616.00 249.50L616.50 249.50L617.00 249.50L617.50 249.50L618.00 249.50L618.50 249.50L619.00 249.50L619.50 249.50L620.00 249.50L620.50 249.50L621.00 249.50L621.50 249.50L622.00 249.50L622.50 249.50L623.00 249.50L623.50 249.50L624.00 249.50L624.50 249.50L625.00 249.50L625.50 249.50L626.00 249.50L626.50 249.50L627.00 249.50L627.50 249.50L628.00 249.50L628.50 249.50L629.00 249.50L629.50 249.50L630.00 249.50L630.50 249.50L631.00 249.50L631.50 249.50L632.00 249.50L632.50 249.50L633.00 249.50L633.50 249.50L634.00 249.50L634.50 249.50L635.00 249.50L635.50 249.50L636.00 249.50L636.50 249.50L637.00 249.50L637.50 249.50L638.00 249.50L638.50 249.50L639.00 249.50L639.50 249.50L640.00 249.50L640.50 249.50L641.00 249.50L641.50 249.50L642.00 249.50L642.50 249.50L643.00 249.50L643.50 249.50L644.00 249.50L644.50 249.50L645.00 249.50L645.50 249.50L646.00 249.50L646.50 249.50L647.00 249.50L647.50 249.50L648.00 249.50L648.50 249.50L649.00 249.50L649.50 249.50L650.00 249.50L650.50 249.50L651.00 249.50L651.50 249.50L652.00 249.50L652.50 249.50L653.00 249.50L653.50 249.50L654.00 249.50L654.50 249.50L655.00 249.50L655.50 249.50L656.00 249.50L656.50 249.50L657.00 249.50L657.50 249.50L658.00 249.50L658.50 249.50L659.00 249.50L659.50 249.50L660.00 249.50L660.50 249.50L661.00 249.50L661.50 249.50L662.00 249.50L662.50 249.50L663.00 249.50L663.50 249.50L664.00 249.50L664.50 249.50L665.00 249.50L665.50 249.50L666.00 249.50L666.50 249.50L667.00 249.50L667.50 249.50L668.00 249.50L668.50 249.50L669.00 249.50L669.50 249.50L670.00 249.50L670.50 249.50L671.00 249.50L671.50 249.50L672.00 249.50L672.50 249.50L673.00 249.50L673.50 249.50L674.00 249.50L674.50 249.50L675.00 249.50L675.50 249.50L676.00 249.50L676.50 249.50L677.00 249.50L677.50 249.50L678.00 249.50L678.50 249.50L679.00 249.50L679.50 249.50L680.00 249.50L680.50 249.50L681.00 249.50L681.50 249.50L682.00 249.50L682.50 249.50L683.00 249.50L683.50 249.50L684.00 249.50L684.50 249.50L685.00 249.50L685.50 249.50L686.00 249.50L686.50 249.50L687.00 249.50L687.50 249.50L688.00 249.50L688.50 249.50L689.00 249.50L689.50 249.50L690.00 249.50L690.50 249.50L691.00 249.50L691.50 249.50L692.00 249.50L692.50 249.50L693.00 249.50L693.50 249.50L694.00 249.50L694.50 249.50L695.00 249.50L695.50 249.50L696.00 249.50L696.50 249.50L697.00 249.50L697.50 249.50L698.00 249.50L698.50 249.50L699.00 249.50L699.50 249.50L700.00 249.50L700.50 249.50L701.00 249.50L701.50 249.50L702.00 249.50L702.50 249.50L703.00 249.50L703.50 249.50L704.00 249.50L704.50 249.50L705.00 249.50L705.50 249.50L706.00 249.50L706.50 249.50L707.00 249.50L707.50 249.50L708.00 249.50L708.50 249.50L709.00 249.50L709.50 249.50L710.00 249.50L710.50 249.50L711.00 249.50L711.50 249.50L712.00 249.50L712.50 249.50L713.00 249.50L713.50 249.50L714.00 249.50L714.50 249.50L715.00 249.50L715.50 249.50L716.00 249.50L716.50 249.50L717.00 249.50L717.50 249.50L718.00 249.50L718.50 249.50L719.00 249.50L719.50 249.50L720.00 249.50L720.50 249.50L721.00 249.50L721.50 249.50L722.00 249.50L722.50 249.50L723.00 249.50L723.50 249.50L724.00 249.50L724.50 249.50L725.00 249.50L725.50 249.50L726.00 249.50L726.50 249.50L727.00 249.50L727.50 249.50L728.00 249.50L728.50 249.50L729.00 249.50L729.50 249.50L730.00 249.50L730.50 249.50L731.00 249.50L731.50 249.50L732.00 249.50L732.50 249.50L733.00 249.50L733.50 249.50L734.00 249.50L734.50 249.50L735.00 249.50L735.50 249.50L736.00 249.50L736.50 249.50L737.00 249.50L737.50 249.50L738.00 249.50L738.50 249.50L739.00 249.50L739.50 249.50L740.00 249.50L740.50 249.50L741.00 249.50L741.50 249.50L742.00 249.50L742.50 249.50L743.00 249.50L743.50 249.50L744.00 249.50L744.50 249.50L745.00 249.50L745.50 249.50M404.00 249.49L404.50 249.49L405.00 249.49L405.50 249.49L406.00 249.49L406.50 249.49L407.00 249.49L407.50 249.49L408.00 249.49L408.50 249.49L409.00 249.49L409.50 249.49L410.00 249.49L410.50 249.49L411.00 249.49L411.50 249.49L412.00 249.49L412.50 249.49L413.00 249.49L413.50 249.49L414.00 249.49L414.50 249.49L415.00 249.48L415.50 249.48L416.00 249.48L416.50 249.48L417.00 249.48L417.50 249.48L418.00 249.48L418.50 249.48L419.00 249.48L419.50 249.48L420.00 249.48L420.50 249.48L421.00 249.48L421.50 249.48L422.00 249.48L422.50 249.48L423.00 249.48L423.50 249.48L424.00 249.48L424.50 249.48L425.00 249.48L425.50 249.48L426.00 249.48L426.50 249.48L427.00 249.48L427.50 249.48L428.00 249.48L428.50 249.48L429.00 249.48L429.50 249.48L430.00 249.48L430.50 249.48L431.00 249.48L431.50 249.47L432.00 249.47L432.50 249.47L433.00 249.47L433.50 249.47L434.00 249.47L434.50 249.47L435.00 249.47L435.50 249.47L436.00 249.47L436.50 249.47L437.00 249.47L437.50 249.47L438.00 249.47L438.50 249.47L439.00 249.47L439.50 249.47L440.00 249.46L440.50 249.46L441.00 249.46L441.50 249.46L442.00 249.46L442.50 249.46L443.00 249.46L443.50 249.46L444.00 249.46L444.50 249.46L445.00 249.46L445.50 249.45L446.00 249.45L446.50 249.45L447.00 249.45L447.50 249.45L448.00 249.45L448.50 249.45L449.00 249.45L449.50 249.44L450.00 249.44L450.50 249.44L451.00 249.44L451.50 249.44L452.00 249.44L452.50 249.43L453.00 249.43L453.50 249.43L454.00 249.43L454.50 249.43L455.00 249.42L455.50 249.42L456.00 249.42L456.50 249.41L457.00 249.41L457.50 249.41L458.00 249.41L458.50 249.40L459.00 249.40L459.50 249.39L460.00 249.39L460.50 249.39L461.00 249.38L461.50 249.38L462.00 249.37L462.50 249.37L463.00 249.36L463.50 249.36L464.00 249.35L464.50 249.34L465.00 249.33L465.50 249.33L466.00 249.32L466.50 249.31L467.00 249.30L467.50 249.29L468.00 249.28L468.50 249.26L469.00 249.25L469.50 249.24L470.00 249.22L470.50 249.20L471.00 249.18L471.50 249.16L472.00 249.14L472.50 249.11L473.00 249.09L473.50 249.05L474.00 249.02L474.50 248.98L475.00 248.93L475.50 248.88L476.00 248.82L476.50 248.76L477.00 248.68L477.50 248.59L478.00 248.48L478.50 248.35L479.00 248.16L479.50 247.89L480.00 247.46L480.50 246.73L481.00 245.48L481.50 243.36L482.00 239.90L482.50 234.59L483.00 226.92L483.50 216.66L484.00 204.01L484.50 189.78L485.00 175.49L485.50 163.18L486.00 155.13L486.50 153.13L487.00 157.70L487.50 167.72L488.00 181.10L488.50 195.58L489.00 209.32L489.50 221.08L490.00 230.29L490.50 236.97L491.00 241.48L491.50 244.34L492.00 246.06L492.50 247.07L493.00 247.66L493.50 248.01L494.00 248.24L494.50 248.40L495.00 248.53L495.50 248.63L496.00 248.71L496.50 248.79L497.00 248.85L497.50 248.90L498.00 248.95L498.50 249.00L499.00 249.03L499.50 249.07L500.00 249.10L500.50 249.12L501.00 249.15L501.50 249.17L502.00 249.19L502.50 249.21L503.00 249.23L503.50 249.24L504.00 249.26L504.50 249.27L505.00 249.28L505.50 249.29L506.00 249.30L506.50 249.31L507.00 249.32L507.50 249.33L508.00 249.34L508.50 249.34L509.00 249.35L509.50 249.36L510.00 249.36L510.50 249.37L511.00 249.37L511.50 249.38L512.00 249.38L512.50 249.39L513.00 249.39L513.50 249.40L514.00 249.40L514.50 249.40L515.00 249.41L515.50 249.41L516.00 249.41L516.50 249.42L517.00 249.42L517.50 249.42L518.00 249.42L518.50 249.43L519.00 249.43L519.50 249.43L520.00 249.43L520.50 249.43L521.00 249.44L521.50 249.44L522.00 249.44L522.50 249.44L523.00 249.44L523.50 249.44L524.00 249.45L524.50 249.45L525.00 249.45L525.50 249.45L526.00 249.45L526.50 249.45L527.00 249.45L527.50 249.45L528.00 249.46L528.50 249.46L529.00 249.46L529.50 249.46L530.00 249.46L530.50 249.46L531.00 249.46L531.50 249.46L532.00 249.46L532.50 249.46L533.00 249.46L533.50 249.47L534.00 249.47L534.50 249.47L535.00 249.47L535.50 249.47L536.00 249.47L536.50 249.47L537.00 249.47L537.50 249.47L538.00 249.47L538.50 249.47L539.00 249.47L539.50 249.47L540.00 249.47L540.50 249.47L541.00 249.47L541.50 249.47L542.00 249.48L542.50 249.48L543.00 249.48L543.50 249.48L544.00 249.48L544.50 249.48L545.00 249.48L545.50 249.48L546.00 249.48L546.50 249.48L547.00 249.48L547.50 249.48L548.00 249.48L548.50 249.48L549.00 249.48L549.50 249.48L550.00 249.48L550.50 249.48L551.00 249.48L551.50 249.48L552.00 249.48L552.50 249.48L553.00 249.48L553.50 249.48L554.00 249.48L554.50 249.48L555.00 249.48L555.50 249.48L556.00 249.48L556.50 249.48L557.00 249.48L557.50 249.48L558.00 249.49L558.50 249.49L559.00 249.49L559.50 249.49L560.00 249.49L560.50 249.49L561.00 249.49L561.50 249.49L562.00 249.49L562.50 249.49L563.00 249.49L563.50 249.49L564.00 249.49L564.50 249.49L565.00 249.49L565.50 249.49L566.00 249.49L566.50 249.49L567.00 249.49L567.50 249.49L568.00 249.49L568.50 249.49L569.00 249.49L569.50 249.49L570.00 249.49L570.50 249.49L571.00 249.49L571.50 249.49L572.00 249.49L572.50 249.49L573.00 249.49L573.50 249.49L574.00 249.49L574.50 249.49L575.00 249.49L575.50 249.49L576.00 249.49L576.50 249.49L577.00 249.49L577.50 249.49L578.00 249.49L578.50 249.49L579.00 249.49L579.50 249.49L580.00 249.49L580.50 249.49L581.00 249.49L581.50 249.49L582.00 249.49L582.50 249.49L583.00 249.49L583.50 249.49L584.00 249.49L584.50 249.49L585.00 249.49L585.50 249.49L586.00 249.49L586.50 249.49L587.00 249.49L587.50 249.49L588.00 249.49L588.50 249.49L589.00 249.49L589.50 249.49L590.00 249.49L590.50 249.49L591.00 249.49L591.50 249.49L592.00 249.49L592.50 249.49L593.00 249.49L593.50 249.49L594.00 249.49L594.50 249.49L595.00 249.49L595.50 249.49L596.00 249.49L596.50 249.49L597.00 249.49L597.50 249.49L598.00 249.49L598.50 249.49L599.00 249.49L599.50 249.49L600.00 249.49L600.50 249.49L601.00 249.49L601.50 249.49L602.00 249.49L602.50 249.49L603.00 249.49L603.50 249.49L604.00 249.49L604.50 249.49L605.00 249.49L605.50 249.49L606.00 249.49L606.50 249.49L607.00 249.49L607.50 249.49L608.00 249.49L608.50 249.49L609.00 249.49L609.50 249.49L610.00 249.49L610.50 249.50L611.00 249.50L611.50 249.50L612.00 249.50L612.50 249.50L613.00 249.50L613.50 249.50L614.00 249.50L614.50 249.50L615.00 249.50L615.50 249.50L616.00 249.50L616.50 249.50L617.00 249.50L617.50 249.50L618.00 249.50L618.50 249.50L619.00 249.50L619.50 249.50L620.00 249.50L620.50 249.50L621.00 249.50L621.50 249.50L622.00 249.50L622.50 249.50L623.00 249.50L623.50 249.50L624.00 249.50L624.50 249.50L625.00 249.50L625.50 249.50L626.00 249.50L626.50 249.50L627.00 249.50L627.50 249.50L628.00 249.50L628.50 249.50L629.00 249.50L629.50 249.50L630.00 249.50L630.50 249.50L631.00 249.50L631.50 249.50L632.00 249.50L632.50 249.50L633.00 249.50L633.50 249.50L634.00 249.50L634.50 249.50L635.00 249.50L635.50 249.50L636.00 249.50L636.50 249.50L637.00 249.50L637.50 249.50L638.00 249.50L638.50 249.50L639.00 249.50L639.50 249.50L640.00 249.50L640.50 249.50L641.00 249.50L641.50 249.50L642.00 249.50L642.50 249.50L643.00 249.50L643.50 249.50L644.00 249.50L644.50 249.50L645.00 249.50L645.50 249.50L646.00 249.50L646.50 249.50L647.00 249.50L647.50 249.50L648.00 249.50L648.50 249.50L649.00 249.50L649.50 249.50L650.00 249.50L650.50 249.50L651.00 249.50L651.50 249.50L652.00 249.50L652.50 249.50L653.00 249.50L653.50 249.50L654.00 249.50L654.50 249.50L655.00 249.50L655.50 249.50L656.00 249.50L656.50 249.50L657.00 249.50L657.50 249.50L658.00 249.50L658.50 249.50L659.00 249.50L659.50 249.50L660.00 249.50L660.50 249.50L661.00 249.50L661.50 249.50L662.00 249.50L662.50 249.50L663.00 249.50L663.50 249.50L664.00 249.50L664.50 249.50L665.00 249.50L665.50 249.50L666.00 249.50L666.50 249.50L667.00 249.50L667.50 249.50L668.00 249.50L668.50 249.50L669.00 249.50L669.50 249.50L670.00 249.50L670.50 249.50L671.00 249.50L671.50 249.50L672.00 249.50L672.50 249.50L673.00 249.50L673.50 249.50L674.00 249.50L674.50 249.50L675.00 249.50L675.50 249.50L676.00 249.50L676.50 249.50L677.00 249.50L677.50 249.50L678.00 249.50L678.50 249.50L679.00 249.50L679.50 249.50L680.00 249.50L680.50 249.50L681.00 249.50L681.50 249.50L682.00 249.50L682.50 249.50L683.00 249.50L683.50 249.50L684.00 249.50L684.50 249.50L685.00 249.50L685.50 249.50L686.00 249.50L686.50 249.50L687.00 249.50L687.50 249.50L688.00 249.50L688.50 249.50L689.00 249.50L689.50 249.50L690.00 249.50L690.50 249.50L691.00 249.50L691.50 249.50L692.00 249.50L692.50 249.50L693.00 249.50L693.50 249.50L694.00 249.50L694.50 249.50L695.00 249.50L695.50 249.50L696.00 249.50L696.50 249.50L697.00 249.50L697.50 249.50L698.00 249.50L698.50 249.50L699.00 249.50L699.50 249.50L700.00 249.50L700.50 249.50L701.00 249.50L701.50 249.50L702.00 249.50L702.50 249.50L703.00 249.50L703.50 249.50L704.00 249.50L704.50 249.50L705.00 249.50L705.50 249.50L706.00 249.50L706.50 249.50L707.00 249.50L707.50 249.50L708.00 249.50L708.50 249.50L709.00 249.50L709.50 249.50L710.00 249.50L710.50 249.50L711.00 249.50L711.50 249.50L712.00 249.50L712.50 249.50L713.00 249.50L713.50 249.50L714.00 249.50L714.50 249.50L715.00 249.50L715.50 249.50L716.00 249.50L716.50 249.50L717.00 249.50L717.50 249.50L718.00 249.50L718.50 249.50L719.00 249.50L719.50 249.50L720.00 249.50L720.50 249.50L721.00 249.50L721.50 249.50L722.00 249.50L722.50 249.50L723.00 249.50L723.50 249.50L724.00 249.50L724.50 249.50L725.00 249.50L725.50 249.50L726.00 249.50L726.50 249.50L727.00 249.50L727.50 249.50L728.00 249.50L728.50 249.50L729.00 249.50L729.50 249.50L730.00 249.50L730.50 249.50L731.00 249.50L731.50 249.50L732.00 249.50L732.50 249.50L733.00 249.50L733.50 249.50L734.00 249.50L734.50 249.50L735.00 249.50L735.50 249.50L736.00 249.50L736.50 249.50L737.00 249.50L737.50 249.50L738.00 249.50L738.50 249.50L739.00 249.50L739.50 249.50L740.00 249.50L740.50 249.50L741.00 249.50L741.50 249.50L742.00 249.50L742.50 249.50L743.00 249.50L743.50 249.50L744.00 249.50L744.50 249.50L745.00 249.50L745.50 249.50M404.00 249.48L404.50 249.48L405.00 249.48L405.50 249.48L406.00 249.48L406.50 249.48L407.00 249.48L407.50 249.48L408.00 249.48L408.50 249.48L409.00 249.48L409.50 249.48L410.00 249.48L410.50 249.48L411.00 249.48L411.50 249.48L412.00 249.48L412.50 249.48L413.00 249.48L413.50 249.48L414.00 249.48L414.50 249.48L415.00 249.48L415.50 249.48L416.00 249.48L416.50 249.48L417.00 249.48L417.50 249.48L418.00 249.48L418.50 249.48L419.00 249.48L419.50 249.48L420.00 249.48L420.50 249.48L421.00 249.48L421.50 249.48L422.00 249.48L422.50 249.48L423.00 249.48L423.50 249.48L424.00 249.48L424.50 249.48L425.00 249.48L425.50 249.48L426.00 249.48L426.50 249.48L427.00 249.48L427.50 249.48L428.00 249.48L428.50 249.48L429.00 249.48L429.50 249.48L430.00 249.48L430.50 249.48L431.00 249.48L431.50 249.48L432.00 249.48L432.50 249.48L433.00 249.48L433.50 249.48L434.00 249.48L434.50 249.48L435.00 249.48L435.50 249.48L436.00 249.48L436.50 249.48L437.00 249.48L437.50 249.48L438.00 249.48L438.50 249.48L439.00 249.48L439.50 249.48L440.00 249.48L440.50 249.48L441.00 249.48L441.50 249.48L442.00 249.48L442.50 249.48L443.00 249.48L443.50 249.48L444.00 249.48L444.50 249.48L445.00 249.48L445.50 249.48L446.00 249.48L446.50 249.48L447.00 249.47L447.50 249.47L448.00 249.47L448.50 249.47L449.00 249.47L449.50 249.47L450.00 249.47L450.50 249.47L451.00 249.47L451.50 249.47L452.00 249.47L452.50 249.47L453.00 249.47L453.50 249.47L454.00 249.47L454.50 249.47L455.00 249.47L455.50 249.47L456.00 249.47L456.50 249.47L457.00 249.47L457.50 249.47L458.00 249.47L458.50 249.47L459.00 249.47L459.50 249.47L460.00 249.47L460.50 249.47L461.00 249.47L461.50 249.47L462.00 249.47L462.50 249.47L463.00 249.47L463.50 249.47L464.00 249.47L464.50 249.47L465.00 249.47L465.50 249.47L466.00 249.47L466.50 249.47L467.00 249.47L467.50 249.47L468.00 249.47L468.50 249.47L469.00 249.47L469.50 249.47L470.00 249.47L470.50 249.47L471.00 249.47L471.50 249.47L472.00 249.47L472.50 249.47L473.00 249.47L473.50 249.47L474.00 249.47L474.50 249.47L475.00 249.47L475.50 249.47L476.00 249.47L476.50 249.47L477.00 249.47L477.50 249.47L478.00 249.47L478.50 249.47L479.00 249.47L479.50 249.47L480.00 249.47L480.50 249.47L481.00 249.47L481.50 249.46L482.00 249.46L482.50 249.46L483.00 249.46L483.50 249.46L484.00 249.46L484.50 249.46L485.00 249.46L485.50 249.46L486.00 249.46L486.50 249.46L487.00 249.46L487.50 249.46L488.00 249.46L488.50 249.46L489.00 249.46L489.50 249.46L490.00 249.46L490.50 249.46L491.00 249.46L491.50 249.46L492.00 249.46L492.50 249.46L493.00 249.46L493.50 249.46L494.00 249.46L494.50 249.46L495.00 249.46L495.50 249.46L496.00 249.46L496.50 249.46L497.00 249.46L497.50 249.46L498.00 249.46L498.50 249.46L499.00 249.46L499.50 249.46L500.00 249.46L500.50 249.46L501.00 249.46L501.50 249.46L502.00 249.46L502.50 249.46L503.00 249.46L503.50 249.46L504.00 249.45L504.50 249.45L505.00 249.45L505.50 249.45L506.00 249.45L506.50 249.45L507.00 249.45L507.50 249.45L508.00 249.45L508.50 249.45L509.00 249.45L509.50 249.45L510.00 249.45L510.50 249.45L511.00 249.45L511.50 249.45L512.00 249.45L512.50 249.45L513.00 249.45L513.50 249.45L514.00 249.45L514.50 249.45L515.00 249.45L515.50 249.45L516.00 249.45L516.50 249.45L517.00 249.45L517.50 249.45L518.00 249.45L518.50 249.45L519.00 249.45L519.50 249.45L520.00 249.44L520.50 249.44L521.00 249.44L521.50 249.44L522.00 249.44L522.50 249.44L523.00 249.44L523.50 249.44L524.00 249.44L524.50 249.44L525.00 249.44L525.50 249.44L526.00 249.44L526.50 249.44L527.00 249.44L527.50 249.44L528.00 249.44L528.50 249.44L529.00 249.44L529.50 249.44L530.00 249.44L530.50 249.44L531.00 249.44L531.50 249.44L532.00 249.43L532.50 249.43L533.00 249.43L533.50 249.43L534.00 249.43L534.50 249.43L535.00 249.43L535.50 249.43L536.00 249.43L536.50 249.43L537.00 249.43L537.50 249.43L538.00 249.43L538.50 249.43L539.00 249.43L539.50 249.43L540.00 249.43L540.50 249.43L541.00 249.43L541.50 249.42L542.00 249.42L542.50 249.42L543.00 249.42L543.50 249.42L544.00 249.42L544.50 249.42L545.00 249.42L545.50 249.42L546.00 249.42L546.50 249.42L547.00 249.42L547.50 249.42L548.00 249.42L548.50 249.42L549.00 249.42L549.50 249.41L550.00 249.41L550.50 249.41L551.00 249.41L551.50 249.41L552.00 249.41L552.50 249.41L553.00 249.41L553.50 249.41L554.00 249.41L554.50 249.41L555.00 249.41L555.50 249.41L556.00 249.40L556.50 249.40L557.00 249.40L557.50 249.40L558.00 249.40L558.50 249.40L559.00 249.40L559.50 249.40L560.00 249.40L560.50 249.40L561.00 249.40L561.50 249.39L562.00 249.39L562.50 249.39L563.00 249.39L563.50 249.39L564.00 249.39L564.50 249.39L565.00 249.39L565.50 249.39L566.00 249.39L566.50 249.38L567.00 249.38L567.50 249.38L568.00 249.38L568.50 249.38L569.00 249.38L569.50 249.38L570.00 249.38L570.50 249.38L571.00 249.37L571.50 249.37L572.00 249.37L572.50 249.37L573.00 249.37L573.50 249.37L574.00 249.37L574.50 249.36L575.00 249.36L575.50 249.36L576.00 249.36L576.50 249.36L577.00 249.36L577.50 249.36L578.00 249.35L578.50 249.35L579.00 249.35L579.50 249.35L580.00 249.35L580.50 249.35L581.00 249.34L581.50 249.34L582.00 249.34L582.50 249.34L583.00 249.34L583.50 249.34L584.00 249.33L584.50 249.33L585.00 249.33L585.50 249.33L586.00 249.33L586.50 249.32L587.00 249.32L587.50 249.32L588.00 249.32L588.50 249.31L589.00 249.31L589.50 249.31L590.00 249.31L590.50 249.31L591.00 249.30L591.50 249.30L592.00 249.30L592.50 249.30L593.00 249.29L593.50 249.29L594.00 249.29L594.50 249.28L595.00 249.28L595.50 249.28L596.00 249.28L596.50 249.27L597.00 249.27L597.50 249.27L598.00 249.26L598.50 249.26L599.00 249.26L599.50 249.25L600.00 249.25L600.50 249.25L601.00 249.24L601.50 249.24L602.00 249.23L602.50 249.23L603.00 249.23L603.50 249.22L604.00 249.22L604.50 249.21L605.00 249.21L605.50 249.21L606.00 249.20L606.50 249.20L607.00 249.19L607.50 249.19L608.00 249.18L608.50 249.18L609.00 249.17L609.50 249.17L610.00 249.16L610.50 249.15L611.00 249.15L611.50 249.14L612.00 249.14L612.50 249.13L613.00 249.12L613.50 249.12L614.00 249.11L614.50 249.10L615.00 249.10L615.50 249.09L616.00 249.08L616.50 249.07L617.00 249.07L617.50 249.06L618.00 249.05L618.50 249.04L619.00 249.03L619.50 249.02L620.00 249.01L620.50 249.00L621.00 248.99L621.50 248.98L622.00 248.97L622.50 248.96L623.00 248.95L623.50 248.94L624.00 248.93L624.50 248.92L625.00 248.90L625.50 248.89L626.00 248.88L626.50 248.86L627.00 248.85L627.50 248.83L628.00 248.82L628.50 248.80L629.00 248.78L629.50 248.77L630.00 248.75L630.50 248.73L631.00 248.71L631.50 248.69L632.00 248.67L632.50 248.65L633.00 248.63L633.50 248.60L634.00 248.58L634.50 248.55L635.00 248.53L635.50 248.50L636.00 248.47L636.50 248.44L637.00 248.41L637.50 248.38L638.00 248.34L638.50 248.31L639.00 248.27L639.50 248.23L640.00 248.19L640.50 248.15L641.00 248.10L641.50 248.06L642.00 248.01L642.50 247.95L643.00 247.90L643.50 247.84L644.00 247.78L644.50 247.72L645.00 247.65L645.50 247.58L646.00 247.50L646.50 247.42L647.00 247.33L647.50 247.24L648.00 247.15L648.50 247.04L649.00 246.93L649.50 246.82L650.00 246.69L650.50 246.56L651.00 246.41L651.50 246.26L652.00 246.09L652.50 245.90L653.00 245.70L653.50 245.47L654.00 245.22L654.50 244.94L655.00 244.61L655.50 244.23L656.00 243.78L656.50 243.25L657.00 242.61L657.50 241.83L658.00 240.88L658.50 239.71L659.00 238.28L659.50 236.51L660.00 234.36L660.50 231.74L661.00 228.59L661.50 224.82L662.00 220.37L662.50 215.18L663.00 209.18L663.50 202.36L664.00 194.71L664.50 186.26L665.00 177.07L665.50 167.24L666.00 156.93L666.50 146.34L667.00 135.71L667.50 125.34L668.00 115.57L668.50 106.78L669.00 99.37L669.50 93.74L670.00 90.20L670.50 89.00L671.00 90.20L671.50 93.74L672.00 99.37L672.50 106.78L673.00 115.57L673.50 125.34L674.00 135.71L674.50 146.34L675.00 156.93L675.50 167.24L676.00 177.07L676.50 186.26L677.00 194.71L677.50 202.36L678.00 209.18L678.50 215.18L679.00 220.37L679.50 224.82L680.00 228.59L680.50 231.74L681.00 234.36L681.50 236.51L682.00 238.28L682.50 239.71L683.00 240.88L683.50 241.83L684.00 242.61L684.50 243.25L685.00 243.78L685.50 244.23L686.00 244.61L686.50 244.94L687.00 245.22L687.50 245.47L688.00 245.70L688.50 245.90L689.00 246.09L689.50 246.26L690.00 246.41L690.50 246.56L691.00 246.69L691.50 246.82L692.00 246.93L692.50 247.04L693.00 247.15L693.50 247.24L694.00 247.33L694.50 247.42L695.00 247.50L695.50 247.58L696.00 247.65L696.50 247.72L697.00 247.78L697.50 247.84L698.00 247.90L698.50 247.95L699.00 248.01L699.50 248.06L700.00 248.10L700.50 248.15L701.00 248.19L701.50 248.23L702.00 248.27L702.50 248.31L703.00 248.34L703.50 248.38L704.00 248.41L704.50 248.44L705.00 248.47L705.50 248.50L706.00 248.53L706.50 248.55L707.00 248.58L707.50 248.60L708.00 248.63L708.50 248.65L709.00 248.67L709.50 248.69L710.00 248.71L710.50 248.73L711.00 248.75L711.50 248.77L712.00 248.78L712.50 248.80L713.00 248.82L713.50 248.83L714.00 248.85L714.50 248.86L715.00 248.88L715.50 248.89L716.00 248.90L716.50 248.92L717.00 248.93L717.50 248.94L718.00 248.95L718.50 248.96L719.00 248.97L719.50 248.98L720.00 248.99L720.50 249.00L721.00 249.01L721.50 249.02L722.00 249.03L722.50 249.04L723.00 249.05L723.50 249.06L724.00 249.07L724.50 249.07L725.00 249.08L725.50 249.09L726.00 249.10L726.50 249.10L727.00 249.11L727.50 249.12L728.00 249.12L728.50 249.13L729.00 249.14L729.50 249.14L730.00 249.15L730.50 249.15L731.00 249.16L731.50 249.17L732.00 249.17L732.50 249.18L733.00 249.18L733.50 249.19L734.00 249.19L734.50 249.20L735.00 249.20L735.50 249.21L736.00 249.21L736.50 249.21L737.00 249.22L737.50 249.22L738.00 249.23L738.50 249.23L739.00 249.23L739.50 249.24L740.00 249.24L740.50 249.25L741.00 249.25L741.50 249.25L742.00 249.26L742.50 249.26L743.00 249.26L743.50 249.27L744.00 249.27L744.50 249.27L745.00 249.28L745.50 249.28M404.00 507.17L404.50 507.17L405.00 507.16L405.50 507.16L406.00 507.16L406.50 507.16L407.00 507.16L407.50 507.16L408.00 507.16L408.50 507.16L409.00 507.16L409.50 507.16L410.00 507.16L410.50 507.15L411.00 507.15L411.50 507.15L412.00 507.15L412.50 507.15L413.00 507.15L413.50 507.15L414.00 507.14L414.50 507.14L415.00 507.14L415.50 507.14L416.00 507.14L416.50 507.14L417.00 507.13L417.50 507.13L418.00 507.13L418.50 507.13L419.00 507.12L419.50 507.12L420.00 507.12L420.50 507.12L421.00 507.11L421.50 507.11L422.00 507.11L422.50 507.10L423.00 507.10L423.50 507.10L424.00 507.09L424.50 507.09L425.00 507.08L425.50 507.08L426.00 507.07L426.50 507.07L427.00 507.06L427.50 507.05L428.00 507.05L428.50 507.04L429.00 507.03L429.50 507.02L430.00 507.01L430.50 507.00L431.00 506.99L431.50 506.98L432.00 506.97L432.50 506.95L433.00 506.94L433.50 506.92L434.00 506.90L434.50 506.88L435.00 506.86L435.50 506.83L436.00 506.80L436.50 506.77L437.00 506.73L437.50 506.69L438.00 506.64L438.50 506.57L439.00 506.48L439.50 506.36L440.00 506.18L440.50 505.92L441.00 505.53L441.50 504.96L442.00 504.12L442.50 502.94L443.00 501.30L443.50 499.12L444.00 496.32L444.50 492.87L445.00 488.80L445.50 484.22L446.00 479.33L446.50 474.42L447.00 469.85L447.50 466.03L448.00 463.39L448.50 462.23L449.00 462.73L449.50 464.81L450.00 468.21L450.50 472.53L451.00 477.35L451.50 482.29L452.00 487.02L452.50 491.32L453.00 495.02L453.50 498.08L454.00 500.50L454.50 502.34L455.00 503.70L455.50 504.66L456.00 505.33L456.50 505.79L457.00 506.09L457.50 506.30L458.00 506.44L458.50 506.54L459.00 506.61L459.50 506.67L460.00 506.72L460.50 506.76L461.00 506.79L461.50 506.82L462.00 506.85L462.50 506.87L463.00 506.89L463.50 506.91L464.00 506.93L464.50 506.95L465.00 506.96L465.50 506.97L466.00 506.99L466.50 507.00L467.00 507.01L467.50 507.02L468.00 507.03L468.50 507.04L469.00 507.04L469.50 507.05L470.00 507.06L470.50 507.06L471.00 507.07L471.50 507.07L472.00 507.08L472.50 507.08L473.00 507.09L473.50 507.09L474.00 507.10L474.50 507.10L475.00 507.11L475.50 507.11L476.00 507.11L476.50 507.12L477.00 507.12L477.50 507.12L478.00 507.12L478.50 507.13L479.00 507.13L479.50 507.13L480.00 507.13L480.50 507.13L481.00 507.14L481.50 507.14L482.00 507.14L482.50 507.14L483.00 507.14L483.50 507.15L484.00 507.15L484.50 507.15L485.00 507.15L485.50 507.15L486.00 507.15L486.50 507.15L487.00 507.15L487.50 507.16L488.00 507.16L488.50 507.16L489.00 507.16L489.50 507.16L490.00 507.16L490.50 507.16L491.00 507.16L491.50 507.16L492.00 507.16L492.50 507.17L493.00 507.17L493.50 507.17L494.00 507.17L494.50 507.17L495.00 507.17L495.50 507.17L496.00 507.17L496.50 507.17L497.00 507.17L497.50 507.17L498.00 507.17L498.50 507.17L499.00 507.17L499.50 507.17L500.00 507.17L500.50 507.18L501.00 507.18L501.50 507.18L502.00 507.18L502.50 507.18L503.00 507.18L503.50 507.18L504.00 507.18L504.50 507.18L505.00 507.18L505.50 507.18L506.00 507.18L506.50 507.18L507.00 507.18L507.50 507.18L508.00 507.18L508.50 507.18L509.00 507.18L509.50 507.18L510.00 507.18L510.50 507.18L511.00 507.18L511.50 507.18L512.00 507.18L512.50 507.18L513.00 507.18L513.50 507.18L514.00 507.18L514.50 507.18L515.00 507.18L515.50 507.19L516.00 507.19L516.50 507.19L517.00 507.19L517.50 507.19L518.00 507.19L518.50 507.19L519.00 507.19L519.50 507.19L520.00 507.19L520.50 507.19L521.00 507.19L521.50 507.19L522.00 507.19L522.50 507.19L523.00 507.19L523.50 507.19L524.00 507.19L524.50 507.19L525.00 507.19L525.50 507.19L526.00 507.19L526.50 507.19L527.00 507.19L527.50 507.19L528.00 507.19L528.50 507.19L529.00 507.19L529.50 507.19L530.00 507.19L530.50 507.19L531.00 507.19L531.50 507.19L532.00 507.19L532.50 507.19L533.00 507.19L533.50 507.19L534.00 507.19L534.50 507.19L535.00 507.19L535.50 507.19L536.00 507.19L536.50 507.19L537.00 507.19L537.50 507.19L538.00 507.19L538.50 507.19L539.00 507.19L539.50 507.19L540.00 507.19L540.50 507.19L541.00 507.19L541.50 507.19L542.00 507.19L542.50 507.19L543.00 507.19L543.50 507.19L544.00 507.19L544.50 507.19L545.00 507.19L545.50 507.19L546.00 507.19L546.50 507.19L547.00 507.19L547.50 507.19L548.00 507.19L548.50 507.19L549.00 507.19L549.50 507.19L550.00 507.19L550.50 507.19L551.00 507.19L551.50 507.19L552.00 507.19L552.50 507.19L553.00 507.19L553.50 507.19L554.00 507.19L554.50 507.19L555.00 507.19L555.50 507.19L556.00 507.19L556.50 507.19L557.00 507.19L557.50 507.19L558.00 507.19L558.50 507.19L559.00 507.19L559.50 507.19L560.00 507.19L560.50 507.19L561.00 507.19L561.50 507.19L562.00 507.19L562.50 507.19L563.00 507.19L563.50 507.19L564.00 507.19L564.50 507.20L565.00 507.20L565.50 507.20L566.00 507.20L566.50 507.20L567.00 507.20L567.50 507.20L568.00 507.20L568.50 507.20L569.00 507.20L569.50 507.20L570.00 507.20L570.50 507.20L571.00 507.20L571.50 507.20L572.00 507.20L572.50 507.20L573.00 507.20L573.50 507.20L574.00 507.20L574.50 507.20L575.00 507.20L575.50 507.20L576.00 507.20L576.50 507.20L577.00 507.20L577.50 507.20L578.00 507.20L578.50 507.20L579.00 507.20L579.50 507.20L580.00 507.20L580.50 507.20L581.00 507.20L581.50 507.20L582.00 507.20L582.50 507.20L583.00 507.20L583.50 507.20L584.00 507.20L584.50 507.20L585.00 507.20L585.50 507.20L586.00 507.20L586.50 507.20L587.00 507.20L587.50 507.20L588.00 507.20L588.50 507.20L589.00 507.20L589.50 507.20L590.00 507.20L590.50 507.20L591.00 507.20L591.50 507.20L592.00 507.20L592.50 507.20L593.00 507.20L593.50 507.20L594.00 507.20L594.50 507.20L595.00 507.20L595.50 507.20L596.00 507.20L596.50 507.20L597.00 507.20L597.50 507.20L598.00 507.20L598.50 507.20L599.00 507.20L599.50 507.20L600.00 507.20L600.50 507.20L601.00 507.20L601.50 507.20L602.00 507.20L602.50 507.20L603.00 507.20L603.50 507.20L604.00 507.20L604.50 507.20L605.00 507.20L605.50 507.20L606.00 507.20L606.50 507.20L607.00 507.20L607.50 507.20L608.00 507.20L608.50 507.20L609.00 507.20L609.50 507.20L610.00 507.20L610.50 507.20L611.00 507.20L611.50 507.20L612.00 507.20L612.50 507.20L613.00 507.20L613.50 507.20L614.00 507.20L614.50 507.20L615.00 507.20L615.50 507.20L616.00 507.20L616.50 507.20L617.00 507.20L617.50 507.20L618.00 507.20L618.50 507.20L619.00 507.20L619.50 507.20L620.00 507.20L620.50 507.20L621.00 507.20L621.50 507.20L622.00 507.20L622.50 507.20L623.00 507.20L623.50 507.20L624.00 507.20L624.50 507.20L625.00 507.20L625.50 507.20L626.00 507.20L626.50 507.20L627.00 507.20L627.50 507.20L628.00 507.20L628.50 507.20L629.00 507.20L629.50 507.20L630.00 507.20L630.50 507.20L631.00 507.20L631.50 507.20L632.00 507.20L632.50 507.20L633.00 507.20L633.50 507.20L634.00 507.20L634.50 507.20L635.00 507.20L635.50 507.20L636.00 507.20L636.50 507.20L637.00 507.20L637.50 507.20L638.00 507.20L638.50 507.20L639.00 507.20L639.50 507.20L640.00 507.20L640.50 507.20L641.00 507.20L641.50 507.20L642.00 507.20L642.50 507.20L643.00 507.20L643.50 507.20L644.00 507.20L644.50 507.20L645.00 507.20L645.50 507.20L646.00 507.20L646.50 507.20L647.00 507.20L647.50 507.20L648.00 507.20L648.50 507.20L649.00 507.20L649.50 507.20L650.00 507.20L650.50 507.20L651.00 507.20L651.50 507.20L652.00 507.20L652.50 507.20L653.00 507.20L653.50 507.20L654.00 507.20L654.50 507.20L655.00 507.20L655.50 507.20L656.00 507.20L656.50 507.20L657.00 507.20L657.50 507.20L658.00 507.20L658.50 507.20L659.00 507.20L659.50 507.20L660.00 507.20L660.50 507.20L661.00 507.20L661.50 507.20L662.00 507.20L662.50 507.20L663.00 507.20L663.50 507.20L664.00 507.20L664.50 507.20L665.00 507.20L665.50 507.20L666.00 507.20L666.50 507.20L667.00 507.20L667.50 507.20L668.00 507.20L668.50 507.20L669.00 507.20L669.50 507.20L670.00 507.20L670.50 507.20L671.00 507.20L671.50 507.20L672.00 507.20L672.50 507.20L673.00 507.20L673.50 507.20L674.00 507.20L674.50 507.20L675.00 507.20L675.50 507.20L676.00 507.20L676.50 507.20L677.00 507.20L677.50 507.20L678.00 507.20L678.50 507.20L679.00 507.20L679.50 507.20L680.00 507.20L680.50 507.20L681.00 507.20L681.50 507.20L682.00 507.20L682.50 507.20L683.00 507.20L683.50 507.20L684.00 507.20L684.50 507.20L685.00 507.20L685.50 507.20L686.00 507.20L686.50 507.20L687.00 507.20L687.50 507.20L688.00 507.20L688.50 507.20L689.00 507.20L689.50 507.20L690.00 507.20L690.50 507.20L691.00 507.20L691.50 507.20L692.00 507.20L692.50 507.20L693.00 507.20L693.50 507.20L694.00 507.20L694.50 507.20L695.00 507.20L695.50 507.20L696.00 507.20L696.50 507.20L697.00 507.20L697.50 507.20L698.00 507.20L698.50 507.20L699.00 507.20L699.50 507.20L700.00 507.20L700.50 507.20L701.00 507.20L701.50 507.20L702.00 507.20L702.50 507.20L703.00 507.20L703.50 507.20L704.00 507.20L704.50 507.20L705.00 507.20L705.50 507.20L706.00 507.20L706.50 507.20L707.00 507.20L707.50 507.20L708.00 507.20L708.50 507.20L709.00 507.20L709.50 507.20L710.00 507.20L710.50 507.20L711.00 507.20L711.50 507.20L712.00 507.20L712.50 507.20L713.00 507.20L713.50 507.20L714.00 507.20L714.50 507.20L715.00 507.20L715.50 507.20L716.00 507.20L716.50 507.20L717.00 507.20L717.50 507.20L718.00 507.20L718.50 507.20L719.00 507.20L719.50 507.20L720.00 507.20L720.50 507.20L721.00 507.20L721.50 507.20L722.00 507.20L722.50 507.20L723.00 507.20L723.50 507.20L724.00 507.20L724.50 507.20L725.00 507.20L725.50 507.20L726.00 507.20L726.50 507.20L727.00 507.20L727.50 507.20L728.00 507.20L728.50 507.20L729.00 507.20L729.50 507.20L730.00 507.20L730.50 507.20L731.00 507.20L731.50 507.20L732.00 507.20L732.50 507.20L733.00 507.20L733.50 507.20L734.00 507.20L734.50 507.20L735.00 507.20L735.50 507.20L736.00 507.20L736.50 507.20L737.00 507.20L737.50 507.20L738.00 507.20L738.50 507.20L739.00 507.20L739.50 507.20L740.00 507.20L740.50 507.20L741.00 507.20L741.50 507.20L742.00 507.20L742.50 507.20L743.00 507.20L743.50 507.20L744.00 507.20L744.50 507.20L745.00 507.20L745.50 507.20M404.00 507.19L404.50 507.19L405.00 507.19L405.50 507.19L406.00 507.19L406.50 507.19L407.00 507.19L407.50 507.19L408.00 507.19L408.50 507.19L409.00 507.19L409.50 507.19L410.00 507.19L410.50 507.19L411.00 507.19L411.50 507.19L412.00 507.19L412.50 507.19L413.00 507.19L413.50 507.19L414.00 507.19L414.50 507.19L415.00 507.19L415.50 507.19L416.00 507.19L416.50 507.19L417.00 507.19L417.50 507.19L418.00 507.19L418.50 507.19L419.00 507.19L419.50 507.19L420.00 507.19L420.50 507.19L421.00 507.19L421.50 507.19L422.00 507.19L422.50 507.19L423.00 507.19L423.50 507.19L424.00 507.19L424.50 507.19L425.00 507.19L425.50 507.19L426.00 507.19L426.50 507.19L427.00 507.19L427.50 507.19L428.00 507.19L428.50 507.19L429.00 507.19L429.50 507.19L430.00 507.18L430.50 507.18L431.00 507.18L431.50 507.18L432.00 507.18L432.50 507.18L433.00 507.18L433.50 507.18L434.00 507.18L434.50 507.18L435.00 507.18L435.50 507.18L436.00 507.18L436.50 507.18L437.00 507.18L437.50 507.18L438.00 507.18L438.50 507.18L439.00 507.18L439.50 507.18L440.00 507.18L440.50 507.18L441.00 507.18L441.50 507.18L442.00 507.18L442.50 507.18L443.00 507.17L443.50 507.17L444.00 507.17L444.50 507.17L445.00 507.17L445.50 507.17L446.00 507.17L446.50 507.17L447.00 507.17L447.50 507.17L448.00 507.17L448.50 507.17L449.00 507.17L449.50 507.16L450.00 507.16L450.50 507.16L451.00 507.16L451.50 507.16L452.00 507.16L452.50 507.16L453.00 507.16L453.50 507.16L454.00 507.15L454.50 507.15L455.00 507.15L455.50 507.15L456.00 507.15L456.50 507.15L457.00 507.14L457.50 507.14L458.00 507.14L458.50 507.14L459.00 507.14L459.50 507.13L460.00 507.13L460.50 507.13L461.00 507.13L461.50 507.12L462.00 507.12L462.50 507.12L463.00 507.11L463.50 507.11L464.00 507.10L464.50 507.10L465.00 507.10L465.50 507.09L466.00 507.09L466.50 507.08L467.00 507.07L467.50 507.07L468.00 507.06L468.50 507.05L469.00 507.04L469.50 507.03L470.00 507.02L470.50 507.01L471.00 507.00L471.50 506.99L472.00 506.97L472.50 506.96L473.00 506.94L473.50 506.92L474.00 506.90L474.50 506.87L475.00 506.84L475.50 506.81L476.00 506.77L476.50 506.73L477.00 506.68L477.50 506.62L478.00 506.56L478.50 506.47L479.00 506.37L479.50 506.22L480.00 505.99L480.50 505.60L481.00 504.91L481.50 503.71L482.00 501.67L482.50 498.39L483.00 493.46L483.50 486.61L484.00 477.87L484.50 467.78L485.00 457.41L485.50 448.32L486.00 442.30L486.50 440.80L487.00 444.23L487.50 451.69L488.00 461.50L488.50 471.92L489.00 481.57L489.50 489.59L490.00 495.65L490.50 499.88L491.00 502.61L491.50 504.27L492.00 505.23L492.50 505.78L493.00 506.09L493.50 506.28L494.00 506.41L494.50 506.51L495.00 506.59L495.50 506.65L496.00 506.70L496.50 506.75L497.00 506.79L497.50 506.82L498.00 506.85L498.50 506.88L499.00 506.90L499.50 506.93L500.00 506.95L500.50 506.96L501.00 506.98L501.50 506.99L502.00 507.01L502.50 507.02L503.00 507.03L503.50 507.04L504.00 507.05L504.50 507.05L505.00 507.06L505.50 507.07L506.00 507.08L506.50 507.08L507.00 507.09L507.50 507.09L508.00 507.10L508.50 507.10L509.00 507.11L509.50 507.11L510.00 507.11L510.50 507.12L511.00 507.12L511.50 507.12L512.00 507.13L512.50 507.13L513.00 507.13L513.50 507.13L514.00 507.14L514.50 507.14L515.00 507.14L515.50 507.14L516.00 507.15L516.50 507.15L517.00 507.15L517.50 507.15L518.00 507.15L518.50 507.15L519.00 507.15L519.50 507.16L520.00 507.16L520.50 507.16L521.00 507.16L521.50 507.16L522.00 507.16L522.50 507.16L523.00 507.16L523.50 507.17L524.00 507.17L524.50 507.17L525.00 507.17L525.50 507.17L526.00 507.17L526.50 507.17L527.00 507.17L527.50 507.17L528.00 507.17L528.50 507.17L529.00 507.17L529.50 507.17L530.00 507.17L530.50 507.18L531.00 507.18L531.50 507.18L532.00 507.18L532.50 507.18L533.00 507.18L533.50 507.18L534.00 507.18L534.50 507.18L535.00 507.18L535.50 507.18L536.00 507.18L536.50 507.18L537.00 507.18L537.50 507.18L538.00 507.18L538.50 507.18L539.00 507.18L539.50 507.18L540.00 507.18L540.50 507.18L541.00 507.18L541.50 507.18L542.00 507.18L542.50 507.18L543.00 507.18L543.50 507.19L544.00 507.19L544.50 507.19L545.00 507.19L545.50 507.19L546.00 507.19L546.50 507.19L547.00 507.19L547.50 507.19L548.00 507.19L548.50 507.19L549.00 507.19L549.50 507.19L550.00 507.19L550.50 507.19L551.00 507.19L551.50 507.19L552.00 507.19L552.50 507.19L553.00 507.19L553.50 507.19L554.00 507.19L554.50 507.19L555.00 507.19L555.50 507.19L556.00 507.19L556.50 507.19L557.00 507.19L557.50 507.19L558.00 507.19L558.50 507.19L559.00 507.19L559.50 507.19L560.00 507.19L560.50 507.19L561.00 507.19L561.50 507.19L562.00 507.19L562.50 507.19L563.00 507.19L563.50 507.19L564.00 507.19L564.50 507.19L565.00 507.19L565.50 507.19L566.00 507.19L566.50 507.19L567.00 507.19L567.50 507.19L568.00 507.19L568.50 507.19L569.00 507.19L569.50 507.19L570.00 507.19L570.50 507.19L571.00 507.19L571.50 507.19L572.00 507.19L572.50 507.19L573.00 507.19L573.50 507.19L574.00 507.19L574.50 507.19L575.00 507.19L575.50 507.19L576.00 507.19L576.50 507.19L577.00 507.19L577.50 507.19L578.00 507.19L578.50 507.19L579.00 507.19L579.50 507.19L580.00 507.19L580.50 507.19L581.00 507.19L581.50 507.19L582.00 507.19L582.50 507.19L583.00 507.19L583.50 507.19L584.00 507.19L584.50 507.19L585.00 507.20L585.50 507.20L586.00 507.20L586.50 507.20L587.00 507.20L587.50 507.20L588.00 507.20L588.50 507.20L589.00 507.20L589.50 507.20L590.00 507.20L590.50 507.20L591.00 507.20L591.50 507.20L592.00 507.20L592.50 507.20L593.00 507.20L593.50 507.20L594.00 507.20L594.50 507.20L595.00 507.20L595.50 507.20L596.00 507.20L596.50 507.20L597.00 507.20L597.50 507.20L598.00 507.20L598.50 507.20L599.00 507.20L599.50 507.20L600.00 507.20L600.50 507.20L601.00 507.20L601.50 507.20L602.00 507.20L602.50 507.20L603.00 507.20L603.50 507.20L604.00 507.20L604.50 507.20L605.00 507.20L605.50 507.20L606.00 507.20L606.50 507.20L607.00 507.20L607.50 507.20L608.00 507.20L608.50 507.20L609.00 507.20L609.50 507.20L610.00 507.20L610.50 507.20L611.00 507.20L611.50 507.20L612.00 507.20L612.50 507.20L613.00 507.20L613.50 507.20L614.00 507.20L614.50 507.20L615.00 507.20L615.50 507.20L616.00 507.20L616.50 507.20L617.00 507.20L617.50 507.20L618.00 507.20L618.50 507.20L619.00 507.20L619.50 507.20L620.00 507.20L620.50 507.20L621.00 507.20L621.50 507.20L622.00 507.20L622.50 507.20L623.00 507.20L623.50 507.20L624.00 507.20L624.50 507.20L625.00 507.20L625.50 507.20L626.00 507.20L626.50 507.20L627.00 507.20L627.50 507.20L628.00 507.20L628.50 507.20L629.00 507.20L629.50 507.20L630.00 507.20L630.50 507.20L631.00 507.20L631.50 507.20L632.00 507.20L632.50 507.20L633.00 507.20L633.50 507.20L634.00 507.20L634.50 507.20L635.00 507.20L635.50 507.20L636.00 507.20L636.50 507.20L637.00 507.20L637.50 507.20L638.00 507.20L638.50 507.20L639.00 507.20L639.50 507.20L640.00 507.20L640.50 507.20L641.00 507.20L641.50 507.20L642.00 507.20L642.50 507.20L643.00 507.20L643.50 507.20L644.00 507.20L644.50 507.20L645.00 507.20L645.50 507.20L646.00 507.20L646.50 507.20L647.00 507.20L647.50 507.20L648.00 507.20L648.50 507.20L649.00 507.20L649.50 507.20L650.00 507.20L650.50 507.20L651.00 507.20L651.50 507.20L652.00 507.20L652.50 507.20L653.00 507.20L653.50 507.20L654.00 507.20L654.50 507.20L655.00 507.20L655.50 507.20L656.00 507.20L656.50 507.20L657.00 507.20L657.50 507.20L658.00 507.20L658.50 507.20L659.00 507.20L659.50 507.20L660.00 507.20L660.50 507.20L661.00 507.20L661.50 507.20L662.00 507.20L662.50 507.20L663.00 507.20L663.50 507.20L664.00 507.20L664.50 507.20L665.00 507.20L665.50 507.20L666.00 507.20L666.50 507.20L667.00 507.20L667.50 507.20L668.00 507.20L668.50 507.20L669.00 507.20L669.50 507.20L670.00 507.20L670.50 507.20L671.00 507.20L671.50 507.20L672.00 507.20L672.50 507.20L673.00 507.20L673.50 507.20L674.00 507.20L674.50 507.20L675.00 507.20L675.50 507.20L676.00 507.20L676.50 507.20L677.00 507.20L677.50 507.20L678.00 507.20L678.50 507.20L679.00 507.20L679.50 507.20L680.00 507.20L680.50 507.20L681.00 507.20L681.50 507.20L682.00 507.20L682.50 507.20L683.00 507.20L683.50 507.20L684.00 507.20L684.50 507.20L685.00 507.20L685.50 507.20L686.00 507.20L686.50 507.20L687.00 507.20L687.50 507.20L688.00 507.20L688.50 507.20L689.00 507.20L689.50 507.20L690.00 507.20L690.50 507.20L691.00 507.20L691.50 507.20L692.00 507.20L692.50 507.20L693.00 507.20L693.50 507.20L694.00 507.20L694.50 507.20L695.00 507.20L695.50 507.20L696.00 507.20L696.50 507.20L697.00 507.20L697.50 507.20L698.00 507.20L698.50 507.20L699.00 507.20L699.50 507.20L700.00 507.20L700.50 507.20L701.00 507.20L701.50 507.20L702.00 507.20L702.50 507.20L703.00 507.20L703.50 507.20L704.00 507.20L704.50 507.20L705.00 507.20L705.50 507.20L706.00 507.20L706.50 507.20L707.00 507.20L707.50 507.20L708.00 507.20L708.50 507.20L709.00 507.20L709.50 507.20L710.00 507.20L710.50 507.20L711.00 507.20L711.50 507.20L712.00 507.20L712.50 507.20L713.00 507.20L713.50 507.20L714.00 507.20L714.50 507.20L715.00 507.20L715.50 507.20L716.00 507.20L716.50 507.20L717.00 507.20L717.50 507.20L718.00 507.20L718.50 507.20L719.00 507.20L719.50 507.20L720.00 507.20L720.50 507.20L721.00 507.20L721.50 507.20L722.00 507.20L722.50 507.20L723.00 507.20L723.50 507.20L724.00 507.20L724.50 507.20L725.00 507.20L725.50 507.20L726.00 507.20L726.50 507.20L727.00 507.20L727.50 507.20L728.00 507.20L728.50 507.20L729.00 507.20L729.50 507.20L730.00 507.20L730.50 507.20L731.00 507.20L731.50 507.20L732.00 507.20L732.50 507.20L733.00 507.20L733.50 507.20L734.00 507.20L734.50 507.20L735.00 507.20L735.50 507.20L736.00 507.20L736.50 507.20L737.00 507.20L737.50 507.20L738.00 507.20L738.50 507.20L739.00 507.20L739.50 507.20L740.00 507.20L740.50 507.20L741.00 507.20L741.50 507.20L742.00 507.20L742.50 507.20L743.00 507.20L743.50 507.20L744.00 507.20L744.50 507.20L745.00 507.20L745.50 507.20M404.00 507.17L404.50 507.17L405.00 507.17L405.50 507.17L406.00 507.17L406.50 507.17L407.00 507.17L407.50 507.17L408.00 507.17L408.50 507.17L409.00 507.17L409.50 507.17L410.00 507.17L410.50 507.17L411.00 507.17L411.50 507.17L412.00 507.17L412.50 507.17L413.00 507.17L413.50 507.17L414.00 507.17L414.50 507.17L415.00 507.17L415.50 507.17L416.00 507.17L416.50 507.17L417.00 507.17L417.50 507.17L418.00 507.17L418.50 507.17L419.00 507.17L419.50 507.17L420.00 507.17L420.50 507.17L421.00 507.17L421.50 507.16L422.00 507.16L422.50 507.16L423.00 507.16L423.50 507.16L424.00 507.16L424.50 507.16L425.00 507.16L425.50 507.16L426.00 507.16L426.50 507.16L427.00 507.16L427.50 507.16L428.00 507.16L428.50 507.16L429.00 507.16L429.50 507.16L430.00 507.16L430.50 507.16L431.00 507.16L431.50 507.16L432.00 507.16L432.50 507.16L433.00 507.16L433.50 507.16L434.00 507.16L434.50 507.16L435.00 507.16L435.50 507.16L436.00 507.16L436.50 507.16L437.00 507.16L437.50 507.16L438.00 507.16L438.50 507.16L439.00 507.16L439.50 507.16L440.00 507.16L440.50 507.16L441.00 507.16L441.50 507.16L442.00 507.16L442.50 507.16L443.00 507.16L443.50 507.16L444.00 507.16L444.50 507.16L445.00 507.16L445.50 507.16L446.00 507.16L446.50 507.16L447.00 507.16L447.50 507.16L448.00 507.16L448.50 507.16L449.00 507.16L449.50 507.16L450.00 507.16L450.50 507.16L451.00 507.15L451.50 507.15L452.00 507.15L452.50 507.15L453.00 507.15L453.50 507.15L454.00 507.15L454.50 507.15L455.00 507.15L455.50 507.15L456.00 507.15L456.50 507.15L457.00 507.15L457.50 507.15L458.00 507.15L458.50 507.15L459.00 507.15L459.50 507.15L460.00 507.15L460.50 507.15L461.00 507.15L461.50 507.15L462.00 507.15L462.50 507.15L463.00 507.15L463.50 507.15L464.00 507.15L464.50 507.15L465.00 507.15L465.50 507.15L466.00 507.15L466.50 507.15L467.00 507.15L467.50 507.15L468.00 507.15L468.50 507.15L469.00 507.15L469.50 507.15L470.00 507.15L470.50 507.15L471.00 507.15L471.50 507.15L472.00 507.14L472.50 507.14L473.00 507.14L473.50 507.14L474.00 507.14L474.50 507.14L475.00 507.14L475.50 507.14L476.00 507.14L476.50 507.14L477.00 507.14L477.50 507.14L478.00 507.14L478.50 507.14L479.00 507.14L479.50 507.14L480.00 507.14L480.50 507.14L481.00 507.14L481.50 507.14L482.00 507.14L482.50 507.14L483.00 507.14L483.50 507.14L484.00 507.14L484.50 507.14L485.00 507.14L485.50 507.14L486.00 507.14L486.50 507.14L487.00 507.14L487.50 507.14L488.00 507.13L488.50 507.13L489.00 507.13L489.50 507.13L490.00 507.13L490.50 507.13L491.00 507.13L491.50 507.13L492.00 507.13L492.50 507.13L493.00 507.13L493.50 507.13L494.00 507.13L494.50 507.13L495.00 507.13L495.50 507.13L496.00 507.13L496.50 507.13L497.00 507.13L497.50 507.13L498.00 507.13L498.50 507.13L499.00 507.13L499.50 507.13L500.00 507.13L500.50 507.12L501.00 507.12L501.50 507.12L502.00 507.12L502.50 507.12L503.00 507.12L503.50 507.12L504.00 507.12L504.50 507.12L505.00 507.12L505.50 507.12L506.00 507.12L506.50 507.12L507.00 507.12L507.50 507.12L508.00 507.12L508.50 507.12L509.00 507.12L509.50 507.12L510.00 507.12L510.50 507.12L511.00 507.11L511.50 507.11L512.00 507.11L512.50 507.11L513.00 507.11L513.50 507.11L514.00 507.11L514.50 507.11L515.00 507.11L515.50 507.11L516.00 507.11L516.50 507.11L517.00 507.11L517.50 507.11L518.00 507.11L518.50 507.11L519.00 507.11L519.50 507.10L520.00 507.10L520.50 507.10L521.00 507.10L521.50 507.10L522.00 507.10L522.50 507.10L523.00 507.10L523.50 507.10L524.00 507.10L524.50 507.10L525.00 507.10L525.50 507.10L526.00 507.10L526.50 507.10L527.00 507.09L527.50 507.09L528.00 507.09L528.50 507.09L529.00 507.09L529.50 507.09L530.00 507.09L530.50 507.09L531.00 507.09L531.50 507.09L532.00 507.09L532.50 507.09L533.00 507.09L533.50 507.08L534.00 507.08L534.50 507.08L535.00 507.08L535.50 507.08L536.00 507.08L536.50 507.08L537.00 507.08L537.50 507.08L538.00 507.08L538.50 507.08L539.00 507.07L539.50 507.07L540.00 507.07L540.50 507.07L541.00 507.07L541.50 507.07L542.00 507.07L542.50 507.07L543.00 507.07L543.50 507.07L544.00 507.06L544.50 507.06L545.00 507.06L545.50 507.06L546.00 507.06L546.50 507.06L547.00 507.06L547.50 507.06L548.00 507.06L548.50 507.05L549.00 507.05L549.50 507.05L550.00 507.05L550.50 507.05L551.00 507.05L551.50 507.05L552.00 507.05L552.50 507.04L553.00 507.04L553.50 507.04L554.00 507.04L554.50 507.04L555.00 507.04L555.50 507.04L556.00 507.03L556.50 507.03L557.00 507.03L557.50 507.03L558.00 507.03L558.50 507.03L559.00 507.03L559.50 507.02L560.00 507.02L560.50 507.02L561.00 507.02L561.50 507.02L562.00 507.02L562.50 507.01L563.00 507.01L563.50 507.01L564.00 507.01L564.50 507.01L565.00 507.00L565.50 507.00L566.00 507.00L566.50 507.00L567.00 507.00L567.50 507.00L568.00 506.99L568.50 506.99L569.00 506.99L569.50 506.99L570.00 506.98L570.50 506.98L571.00 506.98L571.50 506.98L572.00 506.98L572.50 506.97L573.00 506.97L573.50 506.97L574.00 506.97L574.50 506.96L575.00 506.96L575.50 506.96L576.00 506.96L576.50 506.95L577.00 506.95L577.50 506.95L578.00 506.95L578.50 506.94L579.00 506.94L579.50 506.94L580.00 506.93L580.50 506.93L581.00 506.93L581.50 506.93L582.00 506.92L582.50 506.92L583.00 506.92L583.50 506.91L584.00 506.91L584.50 506.91L585.00 506.90L585.50 506.90L586.00 506.90L586.50 506.89L587.00 506.89L587.50 506.88L588.00 506.88L588.50 506.88L589.00 506.87L589.50 506.87L590.00 506.86L590.50 506.86L591.00 506.86L591.50 506.85L592.00 506.85L592.50 506.84L593.00 506.84L593.50 506.83L594.00 506.83L594.50 506.82L595.00 506.82L595.50 506.81L596.00 506.81L596.50 506.80L597.00 506.80L597.50 506.79L598.00 506.79L598.50 506.78L599.00 506.77L599.50 506.77L600.00 506.76L600.50 506.76L601.00 506.75L601.50 506.74L602.00 506.74L602.50 506.73L603.00 506.72L603.50 506.72L604.00 506.71L604.50 506.70L605.00 506.69L605.50 506.69L606.00 506.68L606.50 506.67L607.00 506.66L607.50 506.65L608.00 506.64L608.50 506.63L609.00 506.63L609.50 506.62L610.00 506.61L610.50 506.60L611.00 506.59L611.50 506.58L612.00 506.56L612.50 506.55L613.00 506.54L613.50 506.53L614.00 506.52L614.50 506.51L615.00 506.49L615.50 506.48L616.00 506.47L616.50 506.45L617.00 506.44L617.50 506.43L618.00 506.41L618.50 506.40L619.00 506.38L619.50 506.36L620.00 506.35L620.50 506.33L621.00 506.31L621.50 506.30L622.00 506.28L622.50 506.26L623.00 506.24L623.50 506.22L624.00 506.20L624.50 506.17L625.00 506.15L625.50 506.13L626.00 506.10L626.50 506.08L627.00 506.05L627.50 506.03L628.00 506.00L628.50 505.97L629.00 505.94L629.50 505.91L630.00 505.88L630.50 505.85L631.00 505.81L631.50 505.78L632.00 505.74L632.50 505.70L633.00 505.66L633.50 505.62L634.00 505.58L634.50 505.53L635.00 505.48L635.50 505.44L636.00 505.38L636.50 505.33L637.00 505.28L637.50 505.22L638.00 505.16L638.50 505.09L639.00 505.03L639.50 504.96L640.00 504.88L640.50 504.81L641.00 504.73L641.50 504.64L642.00 504.55L642.50 504.46L643.00 504.36L643.50 504.26L644.00 504.15L644.50 504.03L645.00 503.91L645.50 503.78L646.00 503.64L646.50 503.50L647.00 503.34L647.50 503.18L648.00 503.00L648.50 502.82L649.00 502.62L649.50 502.40L650.00 502.18L650.50 501.93L651.00 501.67L651.50 501.39L652.00 501.09L652.50 500.76L653.00 500.41L653.50 500.02L654.00 499.60L654.50 499.15L655.00 498.65L655.50 498.11L656.00 497.51L656.50 496.84L657.00 496.10L657.50 495.27L658.00 494.33L658.50 493.28L659.00 492.07L659.50 490.70L660.00 489.13L660.50 487.32L661.00 485.25L661.50 482.85L662.00 480.10L662.50 476.95L663.00 473.34L663.50 469.23L664.00 464.58L664.50 459.36L665.00 453.54L665.50 447.12L666.00 440.14L666.50 432.67L667.00 424.85L667.50 416.92L668.00 409.20L668.50 402.13L669.00 396.23L669.50 392.00L670.00 389.89L670.50 390.13L671.00 392.69L671.50 397.29L672.00 403.47L672.50 410.71L673.00 418.50L673.50 426.43L674.00 434.20L674.50 441.58L675.00 448.45L675.50 454.75L676.00 460.45L676.50 465.55L677.00 470.09L677.50 474.10L678.00 477.61L678.50 480.68L679.00 483.36L679.50 485.68L680.00 487.71L680.50 489.46L681.00 490.99L681.50 492.33L682.00 493.50L682.50 494.53L683.00 495.44L683.50 496.25L684.00 496.98L684.50 497.63L685.00 498.22L685.50 498.76L686.00 499.24L686.50 499.69L687.00 500.10L687.50 500.48L688.00 500.83L688.50 501.15L689.00 501.45L689.50 501.72L690.00 501.98L690.50 502.22L691.00 502.45L691.50 502.66L692.00 502.85L692.50 503.04L693.00 503.21L693.50 503.37L694.00 503.53L694.50 503.67L695.00 503.81L695.50 503.93L696.00 504.06L696.50 504.17L697.00 504.28L697.50 504.38L698.00 504.48L698.50 504.57L699.00 504.66L699.50 504.74L700.00 504.82L700.50 504.90L701.00 504.97L701.50 505.04L702.00 505.11L702.50 505.17L703.00 505.23L703.50 505.29L704.00 505.34L704.50 505.39L705.00 505.45L705.50 505.49L706.00 505.54L706.50 505.58L707.00 505.63L707.50 505.67L708.00 505.71L708.50 505.75L709.00 505.78L709.50 505.82L710.00 505.85L710.50 505.89L711.00 505.92L711.50 505.95L712.00 505.98L712.50 506.00L713.00 506.03L713.50 506.06L714.00 506.08L714.50 506.11L715.00 506.13L715.50 506.16L716.00 506.18L716.50 506.20L717.00 506.22L717.50 506.24L718.00 506.26L718.50 506.28L719.00 506.30L719.50 506.32L720.00 506.33L720.50 506.35L721.00 506.37L721.50 506.38L722.00 506.40L722.50 506.41L723.00 506.43L723.50 506.44L724.00 506.46L724.50 506.47L725.00 506.48L725.50 506.50L726.00 506.51L726.50 506.52L727.00 506.53L727.50 506.54L728.00 506.56L728.50 506.57L729.00 506.58L729.50 506.59L730.00 506.60L730.50 506.61L731.00 506.62L731.50 506.63L732.00 506.64L732.50 506.65L733.00 506.65L733.50 506.66L734.00 506.67L734.50 506.68L735.00 506.69L735.50 506.69L736.00 506.70L736.50 506.71L737.00 506.72L737.50 506.72L738.00 506.73L738.50 506.74L739.00 506.74L739.50 506.75L740.00 506.76L740.50 506.76L741.00 506.77L741.50 506.78L742.00 506.78L742.50 506.79L743.00 506.79L743.50 506.80L744.00 506.80L744.50 506.81L745.00 506.81L745.50 506.82M404.00 507.20L404.50 507.20L405.00 507.20L405.50 507.20L406.00 507.20L406.50 507.20L407.00 507.20L407.50 507.20L408.00 507.20L408.50 507.20L409.00 507.20L409.50 507.20L410.00 507.20L410.50 507.20L411.00 507.20L411.50 507.20L412.00 507.20L412.50 507.20L413.00 507.20L413.50 507.20L414.00 507.20L414.50 507.20L415.00 507.20L415.50 507.20L416.00 507.20L416.50 507.20L417.00 507.20L417.50 507.20L418.00 507.20L418.50 507.20L419.00 507.20L419.50 507.20L420.00 507.20L420.50 507.20L421.00 507.20L421.50 507.20L422.00 507.20L422.50 507.20L423.00 507.20L423.50 507.20L424.00 507.20L424.50 507.20L425.00 507.20L425.50 507.20L426.00 507.20L426.50 507.20L427.00 507.20L427.50 507.20L428.00 507.20L428.50 507.20L429.00 507.20L429.50 507.20L430.00 507.20L430.50 507.20L431.00 507.20L431.50 507.20L432.00 507.20L432.50 507.20L433.00 507.20L433.50 507.20L434.00 507.20L434.50 507.20L435.00 507.20L435.50 507.20L436.00 507.20L436.50 507.20L437.00 507.20L437.50 507.20L438.00 507.20L438.50 507.20L439.00 507.20L439.50 507.20L440.00 507.20L440.50 507.20L441.00 507.20L441.50 507.20L442.00 507.20L442.50 507.20L443.00 507.20L443.50 507.20L444.00 507.20L444.50 507.20L445.00 507.20L445.50 507.20L446.00 507.20L446.50 507.20L447.00 507.20L447.50 507.20L448.00 507.20L448.50 507.20L449.00 507.20L449.50 507.20L450.00 507.20L450.50 507.20L451.00 507.20L451.50 507.20L452.00 507.20L452.50 507.20L453.00 507.20L453.50 507.20L454.00 507.20L454.50 507.20L455.00 507.20L455.50 507.20L456.00 507.20L456.50 507.20L457.00 507.20L457.50 507.20L458.00 507.20L458.50 507.20L459.00 507.20L459.50 507.20L460.00 507.20L460.50 507.20L461.00 507.20L461.50 507.20L462.00 507.20L462.50 507.20L463.00 507.20L463.50 507.20L464.00 507.20L464.50 507.20L465.00 507.20L465.50 507.20L466.00 507.20L466.50 507.20L467.00 507.20L467.50 507.20L468.00 507.20L468.50 507.20L469.00 507.20L469.50 507.20L470.00 507.20L470.50 507.20L471.00 507.20L471.50 507.20L472.00 507.20L472.50 507.20L473.00 507.20L473.50 507.20L474.00 507.20L474.50 507.20L475.00 507.20L475.50 507.20L476.00 507.20L476.50 507.20L477.00 507.20L477.50 507.20L478.00 507.20L478.50 507.20L479.00 507.20L479.50 507.20L480.00 507.20L480.50 507.20L481.00 507.20L481.50 507.20L482.00 507.20L482.50 507.20L483.00 507.20L483.50 507.20L484.00 507.20L484.50 507.20L485.00 507.20L485.50 507.20L486.00 507.20L486.50 507.20L487.00 507.20L487.50 507.20L488.00 507.20L488.50 507.20L489.00 507.20L489.50 507.20L490.00 507.20L490.50 507.20L491.00 507.20L491.50 507.20L492.00 507.20L492.50 507.20L493.00 507.20L493.50 507.20L494.00 507.20L494.50 507.20L495.00 507.20L495.50 507.20L496.00 507.20L496.50 507.20L497.00 507.20L497.50 507.20L498.00 507.20L498.50 507.20L499.00 507.20L499.50 507.20L500.00 507.20L500.50 507.20L501.00 507.20L501.50 507.20L502.00 507.20L502.50 507.20L503.00 507.20L503.50 507.20L504.00 507.20L504.50 507.20L505.00 507.20L505.50 507.20L506.00 507.20L506.50 507.20L507.00 507.20L507.50 507.20L508.00 507.20L508.50 507.20L509.00 507.20L509.50 507.20L510.00 507.20L510.50 507.20L511.00 507.20L511.50 507.20L512.00 507.20L512.50 507.20L513.00 507.20L513.50 507.20L514.00 507.20L514.50 507.20L515.00 507.20L515.50 507.20L516.00 507.20L516.50 507.20L517.00 507.20L517.50 507.20L518.00 507.20L518.50 507.20L519.00 507.20L519.50 507.20L520.00 507.20L520.50 507.20L521.00 507.20L521.50 507.20L522.00 507.20L522.50 507.20L523.00 507.20L523.50 507.20L524.00 507.20L524.50 507.20L525.00 507.20L525.50 507.20L526.00 507.20L526.50 507.20L527.00 507.20L527.50 507.20L528.00 507.20L528.50 507.20L529.00 507.20L529.50 507.20L530.00 507.20L530.50 507.20L531.00 507.20L531.50 507.20L532.00 507.20L532.50 507.20L533.00 507.20L533.50 507.20L534.00 507.20L534.50 507.20L535.00 507.20L535.50 507.20L536.00 507.20L536.50 507.20L537.00 507.20L537.50 507.20L538.00 507.20L538.50 507.20L539.00 507.20L539.50 507.20L540.00 507.20L540.50 507.20L541.00 507.20L541.50 507.20L542.00 507.20L542.50 507.20L543.00 507.20L543.50 507.20L544.00 507.20L544.50 507.20L545.00 507.20L545.50 507.20L546.00 507.20L546.50 507.20L547.00 507.20L547.50 507.20L548.00 507.20L548.50 507.20L549.00 507.20L549.50 507.20L550.00 507.20L550.50 507.20L551.00 507.20L551.50 507.20L552.00 507.20L552.50 507.20L553.00 507.20L553.50 507.20L554.00 507.20L554.50 507.20L555.00 507.20L555.50 507.20L556.00 507.20L556.50 507.20L557.00 507.20L557.50 507.20L558.00 507.20L558.50 507.20L559.00 507.20L559.50 507.20L560.00 507.20L560.50 507.20L561.00 507.20L561.50 507.20L562.00 507.20L562.50 507.20L563.00 507.20L563.50 507.20L564.00 507.20L564.50 507.20L565.00 507.20L565.50 507.20L566.00 507.20L566.50 507.20L567.00 507.20L567.50 507.20L568.00 507.20L568.50 507.20L569.00 507.20L569.50 507.20L570.00 507.20L570.50 507.20L571.00 507.20L571.50 507.20L572.00 507.20L572.50 507.20L573.00 507.20L573.50 507.20L574.00 507.20L574.50 507.20L575.00 507.20L575.50 507.20L576.00 507.20L576.50 507.20L577.00 507.20L577.50 507.20L578.00 507.20L578.50 507.20L579.00 507.20L579.50 507.20L580.00 507.20L580.50 507.20L581.00 507.20L581.50 507.20L582.00 507.20L582.50 507.20L583.00 507.20L583.50 507.20L584.00 507.20L584.50 507.20L585.00 507.20L585.50 507.20L586.00 507.20L586.50 507.20L587.00 507.20L587.50 507.20L588.00 507.20L588.50 507.20L589.00 507.20L589.50 507.20L590.00 507.20L590.50 507.20L591.00 507.20L591.50 507.20L592.00 507.20L592.50 507.20L593.00 507.20L593.50 507.20L594.00 507.20L594.50 507.20L595.00 507.20L595.50 507.20L596.00 507.20L596.50 507.20L597.00 507.20L597.50 507.20L598.00 507.20L598.50 507.20L599.00 507.20L599.50 507.20L600.00 507.20L600.50 507.20L601.00 507.20L601.50 507.19L602.00 507.19L602.50 507.19L603.00 507.19L603.50 507.19L604.00 507.19L604.50 507.19L605.00 507.19L605.50 507.19L606.00 507.19L606.50 507.19L607.00 507.19L607.50 507.18L608.00 507.18L608.50 507.18L609.00 507.18L609.50 507.18L610.00 507.18L610.50 507.17L611.00 507.17L611.50 507.17L612.00 507.16L612.50 507.16L613.00 507.16L613.50 507.15L614.00 507.15L614.50 507.15L615.00 507.14L615.50 507.14L616.00 507.13L616.50 507.12L617.00 507.12L617.50 507.11L618.00 507.10L618.50 507.09L619.00 507.09L619.50 507.08L620.00 507.07L620.50 507.05L621.00 507.04L621.50 507.03L622.00 507.02L622.50 507.00L623.00 506.99L623.50 506.97L624.00 506.95L624.50 506.93L625.00 506.91L625.50 506.89L626.00 506.86L626.50 506.84L627.00 506.81L627.50 506.78L628.00 506.75L628.50 506.72L629.00 506.69L629.50 506.65L630.00 506.61L630.50 506.57L631.00 506.52L631.50 506.47L632.00 506.42L632.50 506.37L633.00 506.31L633.50 506.25L634.00 506.19L634.50 506.12L635.00 506.05L635.50 505.98L636.00 505.90L636.50 505.81L637.00 505.72L637.50 505.63L638.00 505.53L638.50 505.42L639.00 505.31L639.50 505.20L640.00 505.08L640.50 504.95L641.00 504.82L641.50 504.67L642.00 504.53L642.50 504.37L643.00 504.21L643.50 504.04L644.00 503.86L644.50 503.67L645.00 503.48L645.50 503.27L646.00 503.06L646.50 502.84L647.00 502.61L647.50 502.36L648.00 502.11L648.50 501.85L649.00 501.58L649.50 501.29L650.00 501.00L650.50 500.69L651.00 500.37L651.50 500.04L652.00 499.70L652.50 499.35L653.00 498.98L653.50 498.60L654.00 498.21L654.50 497.80L655.00 497.38L655.50 496.95L656.00 496.50L656.50 496.04L657.00 495.57L657.50 495.08L658.00 494.58L658.50 494.06L659.00 493.53L659.50 492.99L660.00 492.43L660.50 491.86L661.00 491.27L661.50 490.67L662.00 490.06L662.50 489.43L663.00 488.79L663.50 488.14L664.00 487.47L664.50 486.79L665.00 486.10L665.50 485.39L666.00 484.68L666.50 483.95L667.00 483.21L667.50 482.46L668.00 481.70L668.50 480.93L669.00 480.15L669.50 479.36L670.00 478.56L670.50 477.75L671.00 476.94L671.50 476.12L672.00 475.30L672.50 474.47L673.00 473.63L673.50 472.79L674.00 471.95L674.50 471.11L675.00 470.27L675.50 469.42L676.00 468.58L676.50 467.73L677.00 466.89L677.50 466.06L678.00 465.22L678.50 464.40L679.00 463.57L679.50 462.76L680.00 461.95L680.50 461.15L681.00 460.37L681.50 459.59L682.00 458.82L682.50 458.07L683.00 457.33L683.50 456.61L684.00 455.90L684.50 455.21L685.00 454.54L685.50 453.88L686.00 453.25L686.50 452.63L687.00 452.04L687.50 451.47L688.00 450.92L688.50 450.39L689.00 449.89L689.50 449.42L690.00 448.97L690.50 448.55L691.00 448.15L691.50 447.79L692.00 447.45L692.50 447.14L693.00 446.85L693.50 446.60L694.00 446.38L694.50 446.19L695.00 446.03L695.50 445.90L696.00 445.81L696.50 445.74L697.00 445.71L697.50 445.70L698.00 445.73L698.50 445.79L699.00 445.88L699.50 446.00L700.00 446.16L700.50 446.34L701.00 446.56L701.50 446.80L702.00 447.08L702.50 447.38L703.00 447.72L703.50 448.08L704.00 448.47L704.50 448.88L705.00 449.33L705.50 449.80L706.00 450.29L706.50 450.81L707.00 451.36L707.50 451.92L708.00 452.51L708.50 453.12L709.00 453.75L709.50 454.40L710.00 455.07L710.50 455.76L711.00 456.47L711.50 457.19L712.00 457.92L712.50 458.67L713.00 459.43L713.50 460.21L714.00 461.00L714.50 461.79L715.00 462.60L715.50 463.41L716.00 464.23L716.50 465.06L717.00 465.89L717.50 466.73L718.00 467.57L718.50 468.41L719.00 469.25L719.50 470.10L720.00 470.94L720.50 471.78L721.00 472.63L721.50 473.46L722.00 474.30L722.50 475.13L723.00 475.96L723.50 476.78L724.00 477.59L724.50 478.40L725.00 479.20L725.50 479.99L726.00 480.77L726.50 481.54L727.00 482.31L727.50 483.06L728.00 483.80L728.50 484.53L729.00 485.25L729.50 485.96L730.00 486.65L730.50 487.34L731.00 488.01L731.50 488.66L732.00 489.31L732.50 489.94L733.00 490.55L733.50 491.16L734.00 491.74L734.50 492.32L735.00 492.88L735.50 493.43L736.00 493.96L736.50 494.48L737.00 494.98L737.50 495.47L738.00 495.95L738.50 496.41L739.00 496.86L739.50 497.30L740.00 497.72L740.50 498.13L741.00 498.52L741.50 498.90L742.00 499.27L742.50 499.63L743.00 499.97L743.50 500.31L744.00 500.63L744.50 500.94L745.00 501.23L745.50 501.52"/>
<path fill="none" stroke="#ff0000" stroke-width="2.1" stroke-linejoin="round" d="M50.80 458.63L51.30 458.62L51.80 458.62L52.30 458.62L52.80 458.62L53.30 458.61L53.80 458.61L54.30 458.61L54.80 458.61L55.30 458.60L55.80 458.60L56.30 458.60L56.80 458.60L57.30 458.59L57.80 458.59L58.30 458.59L58.80 458.58L59.30 458.58L59.80 458.58L60.30 458.57L60.80 458.57L61.30 458.57L61.80 458.56L62.30 458.56L62.80 458.56L63.30 458.55L63.80 458.55L64.30 458.55L64.80 458.54L65.30 458.54L65.80 458.53L66.30 458.53L66.80 458.53L67.30 458.52L67.80 458.52L68.30 458.51L68.80 458.51L69.30 458.50L69.80 458.50L70.30 458.49L70.80 458.49L71.30 458.49L71.80 458.48L72.30 458.48L72.80 458.47L73.30 458.47L73.80 458.46L74.30 458.45L74.80 458.45L75.30 458.44L75.80 458.44L76.30 458.43L76.80 458.43L77.30 458.42L77.80 458.41L78.30 458.41L78.80 458.40L79.30 458.40L79.80 458.39L80.30 458.38L80.80 458.38L81.30 458.37L81.80 458.36L82.30 458.35L82.80 458.35L83.30 458.34L83.80 458.33L84.30 458.32L84.80 458.32L85.30 458.31L85.80 458.30L86.30 458.29L86.80 458.28L87.30 458.27L87.80 458.27L88.30 458.26L88.80 458.25L89.30 458.24L89.80 458.23L90.30 458.22L90.80 458.21L91.30 458.20L91.80 458.19L92.30 458.18L92.80 458.16L93.30 458.15L93.80 458.14L94.30 458.13L94.80 458.12L95.30 458.11L95.80 458.09L96.30 458.08L96.80 458.07L97.30 458.05L97.80 458.04L98.30 458.03L98.80 458.01L99.30 458.00L99.80 457.98L100.30 457.96L100.80 457.94L101.30 457.92L101.80 457.89L102.30 457.86L102.80 457.81L103.30 457.76L103.80 457.69L104.30 457.60L104.80 457.48L105.30 457.33L105.80 457.14L106.30 456.89L106.80 456.59L107.30 456.21L107.80 455.77L108.30 455.25L108.80 454.65L109.30 453.98L109.80 453.25L110.30 452.47L110.80 451.67L111.30 450.87L111.80 450.10L112.30 449.39L112.80 448.77L113.30 448.27L113.80 447.92L114.30 447.73L114.80 447.70L115.30 447.85L115.80 448.15L116.30 448.60L116.80 449.16L117.30 449.82L117.80 450.52L118.30 451.26L118.80 451.99L119.30 452.69L119.80 453.34L120.30 453.93L120.80 454.45L121.30 454.89L121.80 455.24L122.30 455.53L122.80 455.75L123.30 455.91L123.80 456.01L124.30 456.07L124.80 456.10L125.30 456.10L125.80 456.07L126.30 456.03L126.80 455.97L127.30 455.89L127.80 455.81L128.30 455.72L128.80 455.62L129.30 455.51L129.80 455.40L130.30 455.27L130.80 455.14L131.30 454.99L131.80 454.83L132.30 454.66L132.80 454.48L133.30 454.28L133.80 454.06L134.30 453.82L134.80 453.56L135.30 453.27L135.80 452.96L136.30 452.61L136.80 452.24L137.30 451.82L137.80 451.37L138.30 450.88L138.80 450.35L139.30 449.76L139.80 449.13L140.30 448.44L140.80 447.70L141.30 446.91L141.80 446.05L142.30 445.14L142.80 444.17L143.30 443.13L143.80 442.05L144.30 440.90L144.80 439.70L145.30 438.46L145.80 437.18L146.30 435.86L146.80 434.52L147.30 433.16L147.80 431.81L148.30 430.48L148.80 429.19L149.30 427.96L149.80 426.81L150.30 425.78L150.80 424.87L151.30 424.12L151.80 423.55L152.30 423.17L152.80 422.99L153.30 423.01L153.80 423.23L154.30 423.64L154.80 424.22L155.30 424.94L155.80 425.78L156.30 426.72L156.80 427.72L157.30 428.77L157.80 429.84L158.30 430.91L158.80 431.95L159.30 432.96L159.80 433.92L160.30 434.81L160.80 435.63L161.30 436.36L161.80 437.00L162.30 437.54L162.80 437.96L163.30 438.28L163.80 438.47L164.30 438.53L164.80 438.47L165.30 438.27L165.80 437.94L166.30 437.47L166.80 436.87L167.30 436.12L167.80 435.24L168.30 434.22L168.80 433.07L169.30 431.78L169.80 430.37L170.30 428.84L170.80 427.19L171.30 425.44L171.80 423.57L172.30 421.61L172.80 419.57L173.30 417.44L173.80 415.23L174.30 412.95L174.80 410.61L175.30 408.21L175.80 405.74L176.30 403.22L176.80 400.63L177.30 397.98L177.80 395.26L178.30 392.46L178.80 389.56L179.30 386.56L179.80 383.45L180.30 380.20L180.80 376.80L181.30 373.24L181.80 369.49L182.30 365.54L182.80 361.38L183.30 357.00L183.80 352.39L184.30 347.55L184.80 342.50L185.30 337.24L185.80 331.79L186.30 326.21L186.80 320.55L187.30 314.86L187.80 309.25L188.30 303.82L188.80 298.69L189.30 294.01L189.80 289.92L190.30 286.59L190.80 284.14L191.30 282.72L191.80 282.40L192.30 283.24L192.80 285.24L193.30 288.36L193.80 292.50L194.30 297.55L194.80 303.36L195.30 309.78L195.80 316.63L196.30 323.74L196.80 330.88L197.30 337.71L197.80 343.76L198.30 348.46L198.80 351.40L199.30 352.77L199.80 353.64L200.30 355.72L200.80 360.55L201.30 368.54L201.80 378.72L202.30 389.34L202.80 398.85L203.30 406.50L203.80 412.35L204.30 416.85L204.80 420.48L205.30 423.58L205.80 426.31L206.30 428.77L206.80 430.99L207.30 432.99L207.80 434.81L208.30 436.45L208.80 437.93L209.30 439.26L209.80 440.47L210.30 441.57L210.80 442.56L211.30 443.46L211.80 444.28L212.30 445.03L212.80 445.71L213.30 446.34L213.80 446.92L214.30 447.46L214.80 447.95L215.30 448.41L215.80 448.84L216.30 449.24L216.80 449.62L217.30 449.97L217.80 450.30L218.30 450.62L218.80 450.91L219.30 451.20L219.80 451.46L220.30 451.72L220.80 451.96L221.30 452.19L221.80 452.40L222.30 452.61L222.80 452.81L223.30 453.00L223.80 453.18L224.30 453.36L224.80 453.52L225.30 453.68L225.80 453.84L226.30 453.98L226.80 454.12L227.30 454.26L227.80 454.39L228.30 454.51L228.80 454.63L229.30 454.75L229.80 454.86L230.30 454.96L230.80 455.07L231.30 455.16L231.80 455.26L232.30 455.35L232.80 455.44L233.30 455.52L233.80 455.61L234.30 455.68L234.80 455.76L235.30 455.83L235.80 455.90L236.30 455.97L236.80 456.04L237.30 456.10L237.80 456.16L238.30 456.22L238.80 456.28L239.30 456.33L239.80 456.39L240.30 456.44L240.80 456.49L241.30 456.54L241.80 456.58L242.30 456.63L242.80 456.67L243.30 456.71L243.80 456.75L244.30 456.79L244.80 456.82L245.30 456.86L245.80 456.89L246.30 456.92L246.80 456.95L247.30 456.98L247.80 457.01L248.30 457.03L248.80 457.06L249.30 457.08L249.80 457.10L250.30 457.12L250.80 457.14L251.30 457.16L251.80 457.18L252.30 457.19L252.80 457.20L253.30 457.22L253.80 457.23L254.30 457.23L254.80 457.24L255.30 457.24L255.80 457.25L256.30 457.25L256.80 457.25L257.30 457.24L257.80 457.24L258.30 457.23L258.80 457.22L259.30 457.21L259.80 457.19L260.30 457.17L260.80 457.15L261.30 457.12L261.80 457.09L262.30 457.05L262.80 457.02L263.30 456.97L263.80 456.92L264.30 456.86L264.80 456.80L265.30 456.73L265.80 456.65L266.30 456.56L266.80 456.46L267.30 456.35L267.80 456.22L268.30 456.08L268.80 455.92L269.30 455.75L269.80 455.54L270.30 455.32L270.80 455.06L271.30 454.76L271.80 454.43L272.30 454.04L272.80 453.60L273.30 453.09L273.80 452.51L274.30 451.83L274.80 451.04L275.30 450.12L275.80 449.06L276.30 447.83L276.80 446.41L277.30 444.80L277.80 443.01L278.30 441.06L278.80 439.05L279.30 437.11L279.80 435.43L280.30 434.23L280.80 433.71L281.30 433.95L281.80 434.92L282.30 436.45L282.80 438.34L283.30 440.36L283.80 442.37L284.30 444.25L284.80 445.96L285.30 447.47L285.80 448.79L286.30 449.94L286.80 450.94L287.30 451.80L287.80 452.54L288.30 453.18L288.80 453.74L289.30 454.23L289.80 454.66L290.30 455.04L290.80 455.37L291.30 455.66L291.80 455.93L292.30 456.16L292.80 456.37L293.30 456.56L293.80 456.73L294.30 456.89L294.80 457.03L295.30 457.16L295.80 457.27L296.30 457.38L296.80 457.48L297.30 457.57L297.80 457.65L298.30 457.73L298.80 457.80L299.30 457.87L299.80 457.94L300.30 457.99L300.80 458.05L301.30 458.10L301.80 458.15L302.30 458.19L302.80 458.24L303.30 458.28L303.80 458.32L304.30 458.35L304.80 458.39L305.30 458.42L305.80 458.45L306.30 458.48L306.80 458.51L307.30 458.54L307.80 458.56L308.30 458.59L308.80 458.61L309.30 458.63L309.80 458.65L310.30 458.67L310.80 458.69L311.30 458.71L311.80 458.73L312.30 458.75L312.80 458.77L313.30 458.78L313.80 458.80L314.30 458.81L314.80 458.83L315.30 458.84L315.80 458.86L316.30 458.87L316.80 458.88L317.30 458.90L317.80 458.91L318.30 458.92L318.80 458.93L319.30 458.95L319.80 458.96L320.30 458.97L320.80 458.98L321.30 458.99L321.80 459.00L322.30 459.01L322.80 459.02L323.30 459.03L323.80 459.04L324.30 459.04L324.80 459.05L325.30 459.06L325.80 459.07L326.30 459.08L326.80 459.09L327.30 459.09L327.80 459.10L328.30 459.11L328.80 459.12L329.30 459.12L329.80 459.13L330.30 459.14L330.80 459.15L331.30 459.15L331.80 459.16L332.30 459.17L332.80 459.17L333.30 459.18L333.80 459.18L334.30 459.19L334.80 459.20L335.30 459.20L335.80 459.21L336.30 459.21L336.80 459.22L337.30 459.23L337.80 459.23L338.30 459.24L338.80 459.24L339.30 459.25L339.80 459.25L340.30 459.26L340.80 459.26L341.30 459.27L341.80 459.27L342.30 459.28L342.80 459.28L343.30 459.29L343.80 459.29L344.30 459.30L344.80 459.30L345.30 459.30L345.80 459.31L346.30 459.31L346.80 459.32L347.30 459.32L347.80 459.33L348.30 459.33L348.80 459.33L349.30 459.34L349.80 459.34L350.30 459.35L350.80 459.35L351.30 459.35L351.80 459.36L352.30 459.36L352.80 459.37L353.30 459.37L353.80 459.37L354.30 459.38L354.80 459.38L355.30 459.38L355.80 459.39L356.30 459.39L356.80 459.40L357.30 459.40L357.80 459.40L358.30 459.41L358.80 459.41L359.30 459.41L359.80 459.42L360.30 459.42L360.80 459.42L361.30 459.43L361.80 459.43L362.30 459.43L362.80 459.44L363.30 459.44L363.80 459.44L364.30 459.45L364.80 459.45L365.30 459.45L365.80 459.45L366.30 459.46L366.80 459.46L367.30 459.46L367.80 459.47L368.30 459.47L368.80 459.47L369.30 459.48L369.80 459.48L370.30 459.48L370.80 459.48L371.30 459.49L371.80 459.49L372.30 459.49L372.80 459.50L373.30 459.50L373.80 459.50L374.30 459.50L374.80 459.51L375.30 459.51L375.80 459.51L376.30 459.51L376.80 459.52L377.30 459.52L377.80 459.52L378.30 459.52L378.80 459.53L379.30 459.53L379.80 459.53L380.30 459.53L380.80 459.54L381.30 459.54L381.80 459.54L382.30 459.54L382.80 459.55L383.30 459.55L383.80 459.55L384.30 459.55L384.80 459.56L385.30 459.56L385.80 459.56L386.30 459.56L386.80 459.57L387.30 459.57L387.80 459.57L388.30 459.57L388.80 459.58L389.30 459.58L389.80 459.58L390.30 459.58L390.80 459.58M404.00 198.46L404.50 198.45L405.00 198.45L405.50 198.45L406.00 198.45L406.50 198.44L407.00 198.44L407.50 198.44L408.00 198.44L408.50 198.43L409.00 198.43L409.50 198.43L410.00 198.42L410.50 198.42L411.00 198.41L411.50 198.41L412.00 198.41L412.50 198.40L413.00 198.40L413.50 198.39L414.00 198.39L414.50 198.39L415.00 198.38L415.50 198.38L416.00 198.37L416.50 198.36L417.00 198.36L417.50 198.35L418.00 198.35L418.50 198.34L419.00 198.33L419.50 198.33L420.00 198.32L420.50 198.31L421.00 198.30L421.50 198.29L422.00 198.28L422.50 198.27L423.00 198.26L423.50 198.25L424.00 198.24L424.50 198.23L425.00 198.22L425.50 198.20L426.00 198.19L426.50 198.17L427.00 198.16L427.50 198.14L428.00 198.12L428.50 198.10L429.00 198.08L429.50 198.05L430.00 198.03L430.50 198.00L431.00 197.97L431.50 197.94L432.00 197.91L432.50 197.87L433.00 197.83L433.50 197.79L434.00 197.74L434.50 197.69L435.00 197.63L435.50 197.57L436.00 197.50L436.50 197.42L437.00 197.33L437.50 197.22L438.00 197.10L438.50 196.95L439.00 196.76L439.50 196.51L440.00 196.19L440.50 195.75L441.00 195.16L441.50 194.36L442.00 193.28L442.50 191.84L443.00 189.97L443.50 187.59L444.00 184.65L444.50 181.13L445.00 177.06L445.50 172.51L446.00 167.63L446.50 162.67L447.00 157.90L447.50 153.72L448.00 150.54L448.50 148.73L449.00 148.56L449.50 150.05L450.00 152.98L450.50 156.98L451.00 161.65L451.50 166.60L452.00 171.51L452.50 176.13L453.00 180.30L453.50 183.93L454.00 186.97L454.50 189.45L455.00 191.41L455.50 192.92L456.00 194.06L456.50 194.90L457.00 195.52L457.50 195.97L458.00 196.31L458.50 196.55L459.00 196.74L459.50 196.89L460.00 197.01L460.50 197.10L461.00 197.19L461.50 197.26L462.00 197.31L462.50 197.36L463.00 197.41L463.50 197.45L464.00 197.48L464.50 197.50L465.00 197.52L465.50 197.54L466.00 197.55L466.50 197.56L467.00 197.57L467.50 197.57L468.00 197.57L468.50 197.56L469.00 197.55L469.50 197.53L470.00 197.51L470.50 197.49L471.00 197.46L471.50 197.42L472.00 197.38L472.50 197.33L473.00 197.28L473.50 197.22L474.00 197.14L474.50 197.06L475.00 196.97L475.50 196.86L476.00 196.73L476.50 196.58L477.00 196.41L477.50 196.21L478.00 195.96L478.50 195.64L479.00 195.23L479.50 194.65L480.00 193.81L480.50 192.54L481.00 190.60L481.50 187.69L482.00 183.43L482.50 177.45L483.00 169.49L483.50 159.47L484.00 147.67L484.50 134.79L485.00 122.01L485.50 111.03L486.00 103.82L486.50 102.03L487.00 106.14L487.50 115.10L488.00 127.03L488.50 140.03L489.00 152.60L489.50 163.75L490.00 172.96L490.50 180.12L491.00 185.37L491.50 189.05L492.00 191.54L492.50 193.19L493.00 194.27L493.50 195.00L494.00 195.51L494.50 195.88L495.00 196.17L495.50 196.41L496.00 196.61L496.50 196.78L497.00 196.93L497.50 197.06L498.00 197.17L498.50 197.27L499.00 197.36L499.50 197.44L500.00 197.51L500.50 197.58L501.00 197.63L501.50 197.69L502.00 197.74L502.50 197.78L503.00 197.82L503.50 197.86L504.00 197.89L504.50 197.92L505.00 197.95L505.50 197.98L506.00 198.00L506.50 198.02L507.00 198.05L507.50 198.07L508.00 198.08L508.50 198.10L509.00 198.12L509.50 198.13L510.00 198.15L510.50 198.16L511.00 198.17L511.50 198.18L512.00 198.20L512.50 198.21L513.00 198.22L513.50 198.22L514.00 198.23L514.50 198.24L515.00 198.25L515.50 198.26L516.00 198.26L516.50 198.27L517.00 198.28L517.50 198.28L518.00 198.29L518.50 198.29L519.00 198.30L519.50 198.30L520.00 198.31L520.50 198.31L521.00 198.32L521.50 198.32L522.00 198.33L522.50 198.33L523.00 198.33L523.50 198.34L524.00 198.34L524.50 198.34L525.00 198.34L525.50 198.35L526.00 198.35L526.50 198.35L527.00 198.35L527.50 198.36L528.00 198.36L528.50 198.36L529.00 198.36L529.50 198.37L530.00 198.37L530.50 198.37L531.00 198.37L531.50 198.37L532.00 198.37L532.50 198.37L533.00 198.38L533.50 198.38L534.00 198.38L534.50 198.38L535.00 198.38L535.50 198.38L536.00 198.38L536.50 198.38L537.00 198.38L537.50 198.38L538.00 198.38L538.50 198.39L539.00 198.39L539.50 198.39L540.00 198.39L540.50 198.39L541.00 198.39L541.50 198.39L542.00 198.39L542.50 198.39L543.00 198.39L543.50 198.39L544.00 198.39L544.50 198.39L545.00 198.39L545.50 198.39L546.00 198.39L546.50 198.39L547.00 198.39L547.50 198.39L548.00 198.39L548.50 198.39L549.00 198.39L549.50 198.39L550.00 198.39L550.50 198.39L551.00 198.39L551.50 198.38L552.00 198.38L552.50 198.38L553.00 198.38L553.50 198.38L554.00 198.38L554.50 198.38L555.00 198.38L555.50 198.38L556.00 198.38L556.50 198.38L557.00 198.38L557.50 198.38L558.00 198.38L558.50 198.37L559.00 198.37L559.50 198.37L560.00 198.37L560.50 198.37L561.00 198.37L561.50 198.37L562.00 198.37L562.50 198.37L563.00 198.36L563.50 198.36L564.00 198.36L564.50 198.36L565.00 198.36L565.50 198.36L566.00 198.36L566.50 198.35L567.00 198.35L567.50 198.35L568.00 198.35L568.50 198.35L569.00 198.35L569.50 198.35L570.00 198.34L570.50 198.34L571.00 198.34L571.50 198.34L572.00 198.34L572.50 198.33L573.00 198.33L573.50 198.33L574.00 198.33L574.50 198.33L575.00 198.32L575.50 198.32L576.00 198.32L576.50 198.32L577.00 198.31L577.50 198.31L578.00 198.31L578.50 198.31L579.00 198.30L579.50 198.30L580.00 198.30L580.50 198.30L581.00 198.29L581.50 198.29L582.00 198.29L582.50 198.29L583.00 198.28L583.50 198.28L584.00 198.28L584.50 198.27L585.00 198.27L585.50 198.27L586.00 198.26L586.50 198.26L587.00 198.26L587.50 198.25L588.00 198.25L588.50 198.25L589.00 198.24L589.50 198.24L590.00 198.23L590.50 198.23L591.00 198.23L591.50 198.22L592.00 198.22L592.50 198.21L593.00 198.21L593.50 198.20L594.00 198.20L594.50 198.19L595.00 198.19L595.50 198.18L596.00 198.18L596.50 198.17L597.00 198.17L597.50 198.16L598.00 198.16L598.50 198.15L599.00 198.15L599.50 198.14L600.00 198.13L600.50 198.13L601.00 198.12L601.50 198.12L602.00 198.11L602.50 198.10L603.00 198.10L603.50 198.09L604.00 198.08L604.50 198.07L605.00 198.07L605.50 198.06L606.00 198.05L606.50 198.04L607.00 198.03L607.50 198.03L608.00 198.02L608.50 198.01L609.00 198.00L609.50 197.99L610.00 197.98L610.50 197.97L611.00 197.96L611.50 197.95L612.00 197.94L612.50 197.93L613.00 197.92L613.50 197.90L614.00 197.89L614.50 197.88L615.00 197.87L615.50 197.86L616.00 197.84L616.50 197.83L617.00 197.82L617.50 197.80L618.00 197.79L618.50 197.77L619.00 197.76L619.50 197.74L620.00 197.72L620.50 197.71L621.00 197.69L621.50 197.67L622.00 197.65L622.50 197.63L623.00 197.61L623.50 197.59L624.00 197.57L624.50 197.55L625.00 197.53L625.50 197.50L626.00 197.48L626.50 197.45L627.00 197.43L627.50 197.40L628.00 197.37L628.50 197.35L629.00 197.32L629.50 197.29L630.00 197.25L630.50 197.22L631.00 197.19L631.50 197.15L632.00 197.11L632.50 197.08L633.00 197.04L633.50 196.99L634.00 196.95L634.50 196.91L635.00 196.86L635.50 196.81L636.00 196.76L636.50 196.71L637.00 196.65L637.50 196.59L638.00 196.53L638.50 196.47L639.00 196.41L639.50 196.34L640.00 196.26L640.50 196.19L641.00 196.11L641.50 196.02L642.00 195.94L642.50 195.84L643.00 195.75L643.50 195.64L644.00 195.54L644.50 195.42L645.00 195.30L645.50 195.17L646.00 195.04L646.50 194.89L647.00 194.74L647.50 194.58L648.00 194.41L648.50 194.23L649.00 194.03L649.50 193.82L650.00 193.60L650.50 193.36L651.00 193.11L651.50 192.83L652.00 192.53L652.50 192.21L653.00 191.85L653.50 191.47L654.00 191.04L654.50 190.56L655.00 190.03L655.50 189.43L656.00 188.74L656.50 187.95L657.00 187.03L657.50 185.97L658.00 184.71L658.50 183.24L659.00 181.49L659.50 179.43L660.00 177.01L660.50 174.15L661.00 170.81L661.50 166.93L662.00 162.44L662.50 157.30L663.00 151.47L663.50 144.93L664.00 137.66L664.50 129.69L665.00 121.05L665.50 111.83L666.00 102.13L666.50 92.14L667.00 82.05L667.50 72.15L668.00 62.78L668.50 54.35L669.00 47.28L669.50 42.00L670.00 38.88L670.50 38.14L671.00 39.85L671.50 43.87L672.00 49.92L672.50 57.58L673.00 66.44L673.50 76.07L674.00 86.08L674.50 96.16L675.00 106.06L675.50 115.58L676.00 124.58L676.50 132.96L677.00 140.66L677.50 147.64L678.00 153.89L678.50 159.44L679.00 164.31L679.50 168.55L680.00 172.21L680.50 175.35L681.00 178.03L681.50 180.30L682.00 182.23L682.50 183.86L683.00 185.24L683.50 186.41L684.00 187.42L684.50 188.28L685.00 189.03L685.50 189.68L686.00 190.25L686.50 190.76L687.00 191.22L687.50 191.63L688.00 192.00L688.50 192.34L689.00 192.66L689.50 192.95L690.00 193.22L690.50 193.46L691.00 193.70L691.50 193.91L692.00 194.12L692.50 194.31L693.00 194.48L693.50 194.65L694.00 194.81L694.50 194.96L695.00 195.10L695.50 195.23L696.00 195.35L696.50 195.47L697.00 195.58L697.50 195.69L698.00 195.79L698.50 195.89L699.00 195.98L699.50 196.06L700.00 196.15L700.50 196.22L701.00 196.30L701.50 196.37L702.00 196.44L702.50 196.50L703.00 196.56L703.50 196.62L704.00 196.68L704.50 196.74L705.00 196.79L705.50 196.84L706.00 196.89L706.50 196.93L707.00 196.98L707.50 197.02L708.00 197.06L708.50 197.10L709.00 197.14L709.50 197.17L710.00 197.21L710.50 197.24L711.00 197.27L711.50 197.31L712.00 197.34L712.50 197.37L713.00 197.39L713.50 197.42L714.00 197.45L714.50 197.47L715.00 197.50L715.50 197.52L716.00 197.54L716.50 197.57L717.00 197.59L717.50 197.61L718.00 197.63L718.50 197.65L719.00 197.67L719.50 197.69L720.00 197.71L720.50 197.72L721.00 197.74L721.50 197.76L722.00 197.77L722.50 197.79L723.00 197.80L723.50 197.82L724.00 197.83L724.50 197.85L725.00 197.86L725.50 197.87L726.00 197.89L726.50 197.90L727.00 197.91L727.50 197.92L728.00 197.93L728.50 197.94L729.00 197.96L729.50 197.97L730.00 197.98L730.50 197.99L731.00 198.00L731.50 198.01L732.00 198.02L732.50 198.03L733.00 198.03L733.50 198.04L734.00 198.05L734.50 198.06L735.00 198.07L735.50 198.08L736.00 198.08L736.50 198.09L737.00 198.10L737.50 198.11L738.00 198.11L738.50 198.12L739.00 198.13L739.50 198.13L740.00 198.14L740.50 198.15L741.00 198.15L741.50 198.16L742.00 198.17L742.50 198.17L743.00 198.18L743.50 198.18L744.00 198.19L744.50 198.19L745.00 198.20L745.50 198.21M404.00 459.41L404.50 459.40L405.00 459.40L405.50 459.40L406.00 459.40L406.50 459.39L407.00 459.39L407.50 459.39L408.00 459.39L408.50 459.38L409.00 459.38L409.50 459.38L410.00 459.37L410.50 459.37L411.00 459.37L411.50 459.36L412.00 459.36L412.50 459.35L413.00 459.35L413.50 459.35L414.00 459.34L414.50 459.34L415.00 459.33L415.50 459.33L416.00 459.32L416.50 459.32L417.00 459.31L417.50 459.31L418.00 459.30L418.50 459.29L419.00 459.29L419.50 459.28L420.00 459.27L420.50 459.27L421.00 459.26L421.50 459.25L422.00 459.24L422.50 459.23L423.00 459.22L423.50 459.21L424.00 459.20L424.50 459.19L425.00 459.18L425.50 459.16L426.00 459.15L426.50 459.14L427.00 459.12L427.50 459.10L428.00 459.09L428.50 459.07L429.00 459.05L429.50 459.02L430.00 459.00L430.50 458.98L431.00 458.95L431.50 458.92L432.00 458.89L432.50 458.85L433.00 458.81L433.50 458.77L434.00 458.73L434.50 458.68L435.00 458.62L435.50 458.56L436.00 458.49L436.50 458.41L437.00 458.32L437.50 458.22L438.00 458.09L438.50 457.93L439.00 457.73L439.50 457.47L440.00 457.12L440.50 456.65L441.00 456.00L441.50 455.13L442.00 453.96L442.50 452.43L443.00 450.46L443.50 448.00L444.00 445.02L444.50 441.51L445.00 437.54L445.50 433.22L446.00 428.71L446.50 424.27L447.00 420.22L447.50 416.92L448.00 414.75L448.50 413.99L449.00 414.74L449.50 416.91L450.00 420.21L450.50 424.25L451.00 428.68L451.50 433.18L452.00 437.51L452.50 441.47L453.00 444.97L453.50 447.95L454.00 450.41L454.50 452.37L455.00 453.90L455.50 455.06L456.00 455.92L456.50 456.56L457.00 457.03L457.50 457.37L458.00 457.63L458.50 457.82L459.00 457.97L459.50 458.09L460.00 458.19L460.50 458.27L461.00 458.34L461.50 458.40L462.00 458.45L462.50 458.50L463.00 458.54L463.50 458.57L464.00 458.60L464.50 458.63L465.00 458.65L465.50 458.67L466.00 458.69L466.50 458.70L467.00 458.71L467.50 458.72L468.00 458.72L468.50 458.72L469.00 458.72L469.50 458.72L470.00 458.71L470.50 458.70L471.00 458.69L471.50 458.67L472.00 458.65L472.50 458.62L473.00 458.59L473.50 458.56L474.00 458.52L474.50 458.47L475.00 458.42L475.50 458.35L476.00 458.28L476.50 458.19L477.00 458.09L477.50 457.97L478.00 457.83L478.50 457.65L479.00 457.43L479.50 457.12L480.00 456.69L480.50 456.03L481.00 454.99L481.50 453.35L482.00 450.83L482.50 447.09L483.00 441.84L483.50 434.94L484.00 426.53L484.50 417.10L485.00 407.65L485.50 399.59L486.00 394.65L486.50 394.18L487.00 398.31L487.50 405.88L488.00 415.19L488.50 424.72L489.00 433.39L489.50 440.62L490.00 446.20L490.50 450.22L491.00 452.97L491.50 454.76L492.00 455.90L492.50 456.63L493.00 457.10L493.50 457.43L494.00 457.67L494.50 457.86L495.00 458.02L495.50 458.15L496.00 458.26L496.50 458.35L497.00 458.44L497.50 458.51L498.00 458.57L498.50 458.63L499.00 458.68L499.50 458.73L500.00 458.77L500.50 458.80L501.00 458.84L501.50 458.86L502.00 458.89L502.50 458.92L503.00 458.94L503.50 458.96L504.00 458.98L504.50 458.99L505.00 459.01L505.50 459.02L506.00 459.04L506.50 459.05L507.00 459.06L507.50 459.07L508.00 459.08L508.50 459.09L509.00 459.10L509.50 459.10L510.00 459.11L510.50 459.12L511.00 459.12L511.50 459.13L512.00 459.13L512.50 459.14L513.00 459.14L513.50 459.15L514.00 459.15L514.50 459.15L515.00 459.16L515.50 459.16L516.00 459.16L516.50 459.17L517.00 459.17L517.50 459.17L518.00 459.17L518.50 459.17L519.00 459.18L519.50 459.18L520.00 459.18L520.50 459.18L521.00 459.18L521.50 459.18L522.00 459.18L522.50 459.18L523.00 459.18L523.50 459.18L524.00 459.18L524.50 459.18L525.00 459.18L525.50 459.18L526.00 459.18L526.50 459.18L527.00 459.18L527.50 459.18L528.00 459.18L528.50 459.18L529.00 459.18L529.50 459.18L530.00 459.18L530.50 459.18L531.00 459.18L531.50 459.18L532.00 459.18L532.50 459.18L533.00 459.17L533.50 459.17L534.00 459.17L534.50 459.17L535.00 459.17L535.50 459.17L536.00 459.17L536.50 459.16L537.00 459.16L537.50 459.16L538.00 459.16L538.50 459.16L539.00 459.16L539.50 459.15L540.00 459.15L540.50 459.15L541.00 459.15L541.50 459.15L542.00 459.14L542.50 459.14L543.00 459.14L543.50 459.14L544.00 459.13L544.50 459.13L545.00 459.13L545.50 459.13L546.00 459.12L546.50 459.12L547.00 459.12L547.50 459.12L548.00 459.11L548.50 459.11L549.00 459.11L549.50 459.10L550.00 459.10L550.50 459.10L551.00 459.10L551.50 459.09L552.00 459.09L552.50 459.09L553.00 459.08L553.50 459.08L554.00 459.08L554.50 459.07L555.00 459.07L555.50 459.06L556.00 459.06L556.50 459.06L557.00 459.05L557.50 459.05L558.00 459.05L558.50 459.04L559.00 459.04L559.50 459.03L560.00 459.03L560.50 459.02L561.00 459.02L561.50 459.02L562.00 459.01L562.50 459.01L563.00 459.00L563.50 459.00L564.00 458.99L564.50 458.99L565.00 458.98L565.50 458.98L566.00 458.97L566.50 458.97L567.00 458.96L567.50 458.96L568.00 458.95L568.50 458.95L569.00 458.94L569.50 458.94L570.00 458.93L570.50 458.92L571.00 458.92L571.50 458.91L572.00 458.91L572.50 458.90L573.00 458.89L573.50 458.89L574.00 458.88L574.50 458.87L575.00 458.87L575.50 458.86L576.00 458.85L576.50 458.85L577.00 458.84L577.50 458.83L578.00 458.82L578.50 458.82L579.00 458.81L579.50 458.80L580.00 458.79L580.50 458.78L581.00 458.78L581.50 458.77L582.00 458.76L582.50 458.75L583.00 458.74L583.50 458.73L584.00 458.72L584.50 458.72L585.00 458.71L585.50 458.70L586.00 458.69L586.50 458.68L587.00 458.67L587.50 458.66L588.00 458.65L588.50 458.64L589.00 458.63L589.50 458.61L590.00 458.60L590.50 458.59L591.00 458.58L591.50 458.57L592.00 458.56L592.50 458.54L593.00 458.53L593.50 458.52L594.00 458.51L594.50 458.49L595.00 458.48L595.50 458.47L596.00 458.45L596.50 458.44L597.00 458.42L597.50 458.41L598.00 458.39L598.50 458.38L599.00 458.36L599.50 458.35L600.00 458.33L600.50 458.31L601.00 458.30L601.50 458.28L602.00 458.26L602.50 458.24L603.00 458.22L603.50 458.20L604.00 458.18L604.50 458.16L605.00 458.14L605.50 458.12L606.00 458.10L606.50 458.08L607.00 458.06L607.50 458.03L608.00 458.01L608.50 457.99L609.00 457.96L609.50 457.94L610.00 457.91L610.50 457.88L611.00 457.86L611.50 457.83L612.00 457.80L612.50 457.77L613.00 457.74L613.50 457.71L614.00 457.68L614.50 457.65L615.00 457.61L615.50 457.58L616.00 457.54L616.50 457.50L617.00 457.47L617.50 457.43L618.00 457.39L618.50 457.34L619.00 457.30L619.50 457.26L620.00 457.21L620.50 457.16L621.00 457.11L621.50 457.06L622.00 457.01L622.50 456.96L623.00 456.90L623.50 456.84L624.00 456.78L624.50 456.72L625.00 456.65L625.50 456.58L626.00 456.51L626.50 456.44L627.00 456.36L627.50 456.29L628.00 456.20L628.50 456.12L629.00 456.03L629.50 455.93L630.00 455.84L630.50 455.74L631.00 455.63L631.50 455.52L632.00 455.40L632.50 455.28L633.00 455.16L633.50 455.03L634.00 454.89L634.50 454.74L635.00 454.59L635.50 454.43L636.00 454.27L636.50 454.09L637.00 453.91L637.50 453.72L638.00 453.52L638.50 453.31L639.00 453.09L639.50 452.86L640.00 452.61L640.50 452.35L641.00 452.08L641.50 451.80L642.00 451.50L642.50 451.19L643.00 450.86L643.50 450.51L644.00 450.14L644.50 449.76L645.00 449.35L645.50 448.92L646.00 448.46L646.50 447.98L647.00 447.48L647.50 446.94L648.00 446.38L648.50 445.78L649.00 445.15L649.50 444.47L650.00 443.76L650.50 443.01L651.00 442.21L651.50 441.36L652.00 440.46L652.50 439.49L653.00 438.47L653.50 437.38L654.00 436.21L654.50 434.97L655.00 433.64L655.50 432.21L656.00 430.69L656.50 429.05L657.00 427.28L657.50 425.39L658.00 423.34L658.50 421.13L659.00 418.75L659.50 416.17L660.00 413.37L660.50 410.34L661.00 407.06L661.50 403.50L662.00 399.63L662.50 395.44L663.00 390.91L663.50 386.02L664.00 380.76L664.50 375.14L665.00 369.18L665.50 362.91L666.00 356.41L666.50 349.79L667.00 343.20L667.50 336.81L668.00 330.87L668.50 325.60L669.00 321.27L669.50 318.08L670.00 316.21L670.50 315.72L671.00 316.60L671.50 318.73L672.00 321.92L672.50 325.93L673.00 330.53L673.50 335.46L674.00 340.53L674.50 345.56L675.00 350.42L675.50 355.03L676.00 359.32L676.50 363.27L677.00 366.87L677.50 370.12L678.00 373.03L678.50 375.62L679.00 377.92L679.50 379.94L680.00 381.71L680.50 383.26L681.00 384.61L681.50 385.77L682.00 386.77L682.50 387.62L683.00 388.34L683.50 388.95L684.00 389.45L684.50 389.87L685.00 390.21L685.50 390.48L686.00 390.69L686.50 390.85L687.00 390.97L687.50 391.05L688.00 391.10L688.50 391.13L689.00 391.14L689.50 391.14L690.00 391.12L690.50 391.10L691.00 391.08L691.50 391.06L692.00 391.04L692.50 391.04L693.00 391.04L693.50 391.06L694.00 391.09L694.50 391.13L695.00 391.20L695.50 391.29L696.00 391.40L696.50 391.53L697.00 391.69L697.50 391.87L698.00 392.08L698.50 392.32L699.00 392.58L699.50 392.88L700.00 393.20L700.50 393.55L701.00 393.93L701.50 394.34L702.00 394.77L702.50 395.24L703.00 395.73L703.50 396.25L704.00 396.80L704.50 397.38L705.00 397.98L705.50 398.61L706.00 399.26L706.50 399.93L707.00 400.63L707.50 401.35L708.00 402.10L708.50 402.86L709.00 403.64L709.50 404.44L710.00 405.26L710.50 406.09L711.00 406.94L711.50 407.80L712.00 408.68L712.50 409.57L713.00 410.46L713.50 411.37L714.00 412.28L714.50 413.21L715.00 414.13L715.50 415.07L716.00 416.00L716.50 416.94L717.00 417.88L717.50 418.82L718.00 419.76L718.50 420.70L719.00 421.64L719.50 422.57L720.00 423.50L720.50 424.42L721.00 425.34L721.50 426.25L722.00 427.15L722.50 428.04L723.00 428.93L723.50 429.80L724.00 430.67L724.50 431.52L725.00 432.36L725.50 433.19L726.00 434.00L726.50 434.81L727.00 435.59L727.50 436.37L728.00 437.13L728.50 437.87L729.00 438.60L729.50 439.32L730.00 440.02L730.50 440.70L731.00 441.37L731.50 442.02L732.00 442.65L732.50 443.27L733.00 443.87L733.50 444.46L734.00 445.03L734.50 445.58L735.00 446.12L735.50 446.64L736.00 447.15L736.50 447.64L737.00 448.11L737.50 448.57L738.00 449.01L738.50 449.44L739.00 449.86L739.50 450.26L740.00 450.64L740.50 451.01L741.00 451.37L741.50 451.71L742.00 452.05L742.50 452.36L743.00 452.67L743.50 452.96L744.00 453.25L744.50 453.52L745.00 453.78L745.50 454.02"/>
<path fill="none" stroke="#000" stroke-width="1.4" stroke-dasharray="4 3.2" d="M115.2 242.6V522M152.0 381V522M182.7 179.5V522M218.3 181L192.5 227.8V522M234.1 342.3L201.5 440M280.8 243.6V522"/>
<path fill="none" stroke="#000" stroke-width="2" d="M50.40 10.80V523.40M41 11.80H391.3M405 11.80H747.70M746.70 10.80V523.40M49.40 522.40H391.3M405 522.40H747.70"/>
<path fill="none" stroke="#000" stroke-width="2" d="M41 45.86H50.40M41 79.92H50.40M41 113.98H50.40M41 148.04H50.40M41 182.10H50.40M41 216.16H50.40M41 250.22H50.40M41 267.00H50.40M41 315.08H50.40M41 363.16H50.40M41 411.24H50.40M41 459.32H50.40M41 507.40H50.40M45.6 28.83H50.40M45.6 62.89H50.40M45.6 96.95H50.40M45.6 131.01H50.40M45.6 165.07H50.40M45.6 199.13H50.40M45.6 233.19H50.40M45.6 291.04H50.40M45.6 339.12H50.40M45.6 387.20H50.40M45.6 435.28H50.40M45.6 483.36H50.40M50.40 522.40V531.4M84.65 522.40V527.2M118.90 522.40V531.4M153.15 522.40V527.2M187.40 522.40V531.4M221.65 522.40V527.2M255.90 522.40V531.4M290.15 522.40V527.2M324.40 522.40V531.4M358.65 522.40V527.2M469.30 522.40V531.4M428.50 522.40V527.2M550.85 522.40V531.4M510.05 522.40V527.2M632.40 522.40V531.4M591.60 522.40V527.2M713.95 522.40V531.4M673.15 522.40V527.2"/>
<path fill="none" stroke="#000" stroke-width="1.8" d="M386.3 20.3L398.5 2.3M398.3 20.3L411 2.3M386.3 530.9L398.5 512.9M398.3 530.9L411 512.9"/>
<rect x="79" y="28.5" width="5" height="5" fill="#000"/>
<path d="M57 56.7H106.3" stroke="#0000ff" stroke-width="2"/>
<path d="M57 83.5H106.3" stroke="#ff0000" stroke-width="2"/>
<text x="111.500" y="38.200" font-family="Liberation Sans" font-size="20" fill="#000" textLength="177.050" lengthAdjust="spacingAndGlyphs">Experimental Data</text>
<text x="111.000" y="64.800" font-family="Liberation Sans" font-size="20" fill="#000" textLength="115.473" lengthAdjust="spacingAndGlyphs">Peak Model</text>
<text x="112.000" y="91.000" font-family="Liberation Sans" font-size="20" fill="#000" textLength="136.960" lengthAdjust="spacingAndGlyphs">Cumulative Fit</text>
<text x="34.000" y="551.400" font-family="Liberation Sans" font-size="16.5" font-weight="bold" fill="#000" textLength="32.069" lengthAdjust="spacingAndGlyphs">250</text>
<text x="103.500" y="551.400" font-family="Liberation Sans" font-size="16.5" font-weight="bold" fill="#000" textLength="30.206" lengthAdjust="spacingAndGlyphs">300</text>
<text x="171.000" y="551.400" font-family="Liberation Sans" font-size="16.5" font-weight="bold" fill="#000" textLength="30.549" lengthAdjust="spacingAndGlyphs">350</text>
<text x="240.000" y="551.400" font-family="Liberation Sans" font-size="16.5" font-weight="bold" fill="#000" textLength="29.991" lengthAdjust="spacingAndGlyphs">400</text>
<text x="308.500" y="551.400" font-family="Liberation Sans" font-size="16.5" font-weight="bold" fill="#000" textLength="29.495" lengthAdjust="spacingAndGlyphs">450</text>
<text x="448.000" y="551.400" font-family="Liberation Sans" font-size="16.5" font-weight="bold" fill="#000" textLength="41.364" lengthAdjust="spacingAndGlyphs">1500</text>
<text x="529.500" y="551.400" font-family="Liberation Sans" font-size="16.5" font-weight="bold" fill="#000" textLength="41.621" lengthAdjust="spacingAndGlyphs">2000</text>
<text x="610.500" y="551.400" font-family="Liberation Sans" font-size="16.5" font-weight="bold" fill="#000" textLength="42.205" lengthAdjust="spacingAndGlyphs">2500</text>
<text x="692.000" y="551.400" font-family="Liberation Sans" font-size="16.5" font-weight="bold" fill="#000" textLength="41.131" lengthAdjust="spacingAndGlyphs">3000</text>
<text x="305.000" y="580.600" font-family="Liberation Sans" font-size="20" font-weight="bold" fill="#000" textLength="166.571" lengthAdjust="spacingAndGlyphs">Raman Shift (cm</text>
<text x="473.000" y="568.700" font-family="Liberation Sans" font-size="12" font-weight="bold" fill="#000" textLength="9.009" lengthAdjust="spacingAndGlyphs">-1</text>
<text x="484.000" y="580.600" font-family="Liberation Sans" font-size="20" font-weight="bold" fill="#000" textLength="6.303" lengthAdjust="spacingAndGlyphs">)</text>
<text transform="translate(18.200 356.500) rotate(-90)" font-family="Liberation Sans" font-size="20.5" font-weight="bold" fill="#000" textLength="205.000" lengthAdjust="spacingAndGlyphs">Intensity (arb. units)</text>
<text x="441.500" y="128.600" font-family="Liberation Sans" font-size="20" fill="#000" textLength="14.969" lengthAdjust="spacingAndGlyphs">D</text>
<text x="479.500" y="68.600" font-family="Liberation Sans" font-size="19" fill="#000" textLength="15.050" lengthAdjust="spacingAndGlyphs">G</text>
<text x="637.000" y="33.900" font-family="Liberation Sans" font-size="18" fill="#000" textLength="24.804" lengthAdjust="spacingAndGlyphs">2D</text>
<text transform="translate(123.200 239.000) rotate(-90)" font-family="Liberation Sans" font-size="17" fill="#000" textLength="58.013" lengthAdjust="spacingAndGlyphs">2LA(M)</text>
<text transform="translate(123.200 177.000) rotate(-90)" font-family="Liberation Sans" font-size="17" fill="#000" textLength="8.881" lengthAdjust="spacingAndGlyphs">–</text>
<text transform="translate(123.200 162.500) rotate(-90)" font-family="Liberation Sans" font-size="17" fill="#000" textLength="11.407" lengthAdjust="spacingAndGlyphs">E</text>
<text transform="translate(114.000 151.500) rotate(-90)" font-family="Liberation Sans" font-size="11" fill="#000" textLength="5.739" lengthAdjust="spacingAndGlyphs">2</text>
<text transform="translate(130.400 150.500) rotate(-90)" font-family="Liberation Sans" font-size="11" fill="#000" textLength="11.198" lengthAdjust="spacingAndGlyphs">2g</text>
<text transform="translate(123.200 138.500) rotate(-90)" font-family="Liberation Sans" font-size="17" fill="#000" textLength="25.331" lengthAdjust="spacingAndGlyphs">(M)</text>
<text transform="translate(157.300 378.500) rotate(-90)" font-family="Liberation Sans" font-size="17" fill="#000" textLength="58.849" lengthAdjust="spacingAndGlyphs">2LA(M)</text>
<text transform="translate(157.300 316.000) rotate(-90)" font-family="Liberation Sans" font-size="17" fill="#000" textLength="9.094" lengthAdjust="spacingAndGlyphs">–</text>
<text transform="translate(157.300 302.500) rotate(-90)" font-family="Liberation Sans" font-size="17" fill="#000" textLength="11.407" lengthAdjust="spacingAndGlyphs">E</text>
<text transform="translate(148.000 292.000) rotate(-90)" font-family="Liberation Sans" font-size="11" fill="#000" textLength="7.234" lengthAdjust="spacingAndGlyphs">2</text>
<text transform="translate(167.400 291.000) rotate(-90)" font-family="Liberation Sans" font-size="11" fill="#000" textLength="12.730" lengthAdjust="spacingAndGlyphs">2g</text>
<text transform="translate(157.300 277.000) rotate(-90)" font-family="Liberation Sans" font-size="17" fill="#000" textLength="20.301" lengthAdjust="spacingAndGlyphs">(<tspan font-family="Liberation Serif">Γ</tspan>)</text>
<text transform="translate(188.600 170.000) rotate(-90)" font-family="Liberation Sans" font-size="17" fill="#000" textLength="11.924" lengthAdjust="spacingAndGlyphs">E</text>
<text transform="translate(178.300 159.500) rotate(-90)" font-family="Liberation Sans" font-size="11" fill="#000" textLength="6.944" lengthAdjust="spacingAndGlyphs">2</text>
<text transform="translate(197.600 158.500) rotate(-90)" font-family="Liberation Sans" font-size="11" fill="#000" textLength="11.589" lengthAdjust="spacingAndGlyphs">1g</text>
<text transform="translate(188.600 147.000) rotate(-90)" font-family="Liberation Sans" font-size="17" fill="#000" textLength="26.568" lengthAdjust="spacingAndGlyphs">(M)</text>
<text transform="translate(234.200 174.000) rotate(-90)" font-family="Liberation Sans" font-size="17" fill="#000" textLength="57.238" lengthAdjust="spacingAndGlyphs">2LA(M)</text>
<text transform="translate(241.000 331.000) rotate(-90)" font-family="Liberation Sans" font-size="17" fill="#000" textLength="11.344" lengthAdjust="spacingAndGlyphs">E</text>
<text transform="translate(230.700 320.875) rotate(-90)" font-family="Liberation Sans" font-size="11" fill="#000" textLength="7.656" lengthAdjust="spacingAndGlyphs">2</text>
<text transform="translate(249.900 320.000) rotate(-90)" font-family="Liberation Sans" font-size="11" fill="#000" textLength="13.642" lengthAdjust="spacingAndGlyphs">1g</text>
<text transform="translate(241.000 306.500) rotate(-90)" font-family="Liberation Sans" font-size="17" fill="#000" textLength="19.676" lengthAdjust="spacingAndGlyphs">(<tspan font-family="Liberation Serif">Γ</tspan>)</text>
<text transform="translate(288.000 237.500) rotate(-90)" font-family="Liberation Sans" font-size="17" fill="#000" textLength="13.967" lengthAdjust="spacingAndGlyphs">A</text>
<text transform="translate(297.800 225.814) rotate(-90)" font-family="Liberation Sans" font-size="11" fill="#000" textLength="15.312" lengthAdjust="spacingAndGlyphs">1g</text>
<text transform="translate(288.000 212.000) rotate(-90)" font-family="Liberation Sans" font-size="17" fill="#000" textLength="26.306" lengthAdjust="spacingAndGlyphs">(<tspan font-family="Liberation Serif">Γ</tspan>)</text>
</svg></body></html>
